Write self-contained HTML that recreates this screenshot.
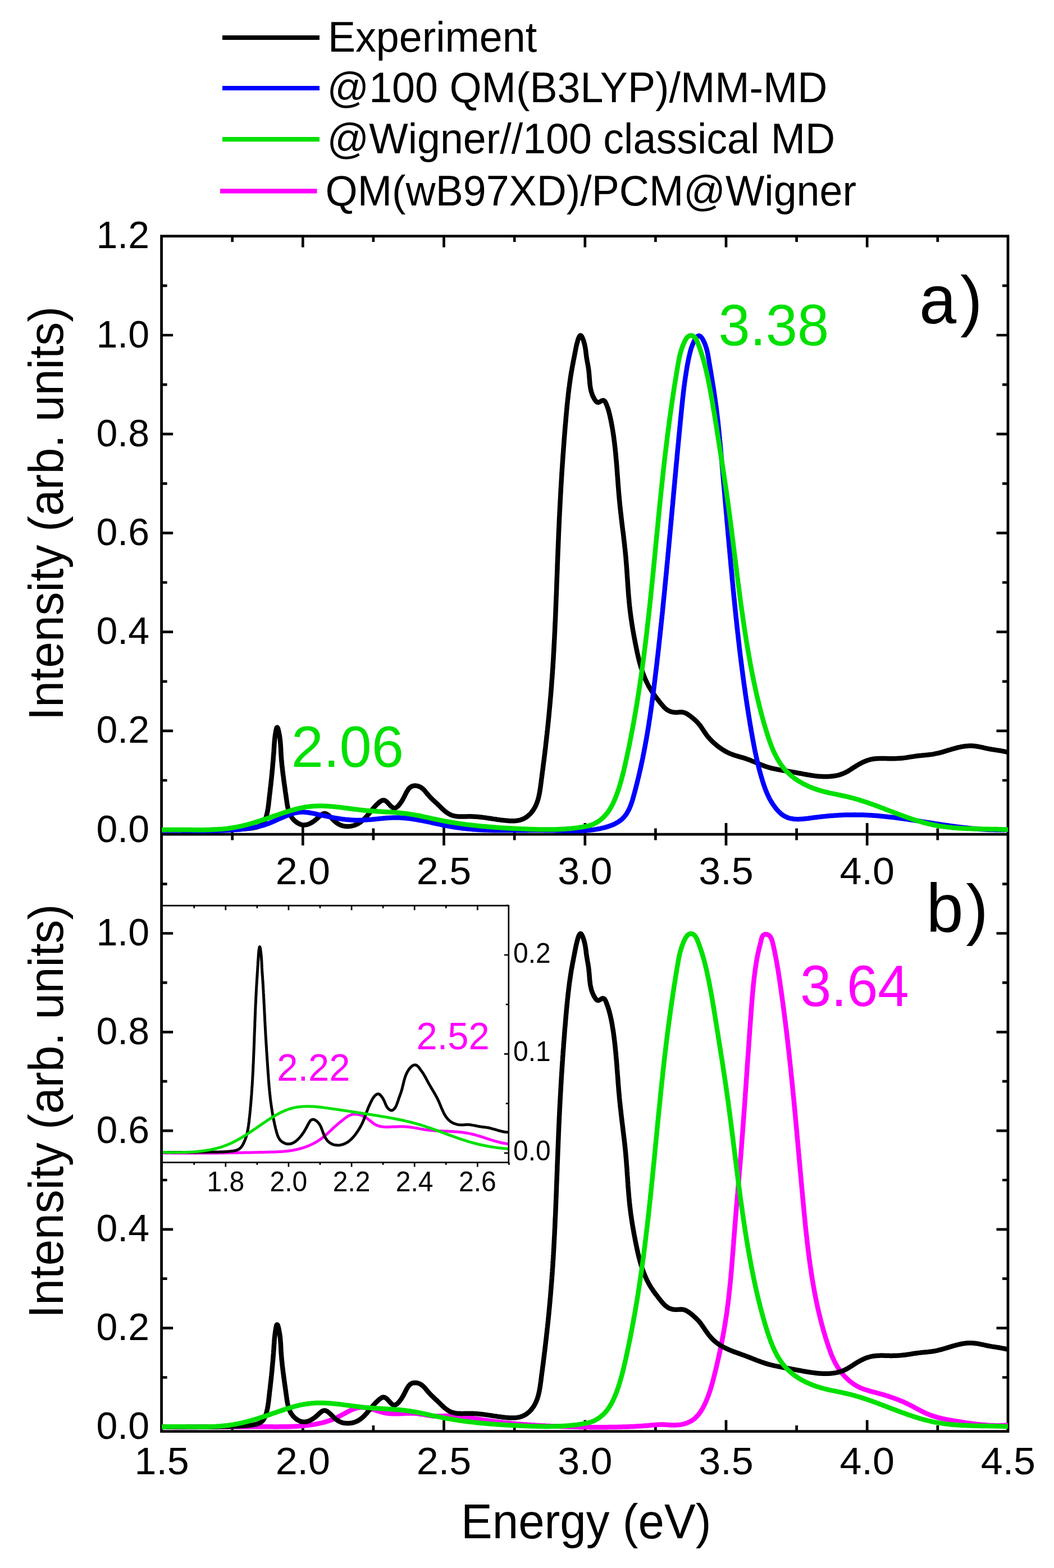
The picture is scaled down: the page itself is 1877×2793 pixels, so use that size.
<!DOCTYPE html><html><head><meta charset="utf-8"><title>Spectra</title><style>html,body{margin:0;padding:0;background:#fff}svg{display:block}</style></head><body>
<svg width="1877" height="2793" viewBox="0 0 1877 2793" font-family="'Liberation Sans', Arial, sans-serif">
<rect width="1877" height="2793" fill="#fff"/>
<line x1="396" y1="67" x2="569" y2="67" stroke="#000" stroke-width="8.2"/>
<text transform="translate(584.0,91.7) scale(1,1.035)" font-size="73.6" text-anchor="start" fill="#000">Experiment</text>
<line x1="396" y1="157" x2="569" y2="157" stroke="#0000ff" stroke-width="8.2"/>
<text transform="translate(582.5,181.7) scale(1,1.035)" font-size="73.6" text-anchor="start" fill="#000">@100 QM(B3LYP)/MM-MD</text>
<line x1="396" y1="248.2" x2="569" y2="248.2" stroke="#00e000" stroke-width="8.2"/>
<text transform="translate(582.5,273.0) scale(1,1.035)" font-size="73.6" text-anchor="start" fill="#000">@Wigner//100 classical MD</text>
<line x1="392" y1="340.4" x2="564.5" y2="340.4" stroke="#ff00ff" stroke-width="8.2"/>
<text transform="translate(579.5,366.2) scale(1,1.035)" font-size="73.6" text-anchor="start" fill="#000">QM(wB97XD)/PCM@Wigner</text>
<path d="M287.6,420.6 H1795 V2549.6 H287.6 Z M287.6,1486.1 H1795" fill="none" stroke="#000" stroke-width="4.8" stroke-linejoin="miter"/>
<path d="M413.7,420.6 v10.5 M413.7,1475.6 v21.0 M413.7,2549.6 v-10.5 M539.3,420.6 v20 M539.3,1466.1 v40 M539.3,2549.6 v-20 M664.9,420.6 v10.5 M664.9,1475.6 v21.0 M664.9,2549.6 v-10.5 M790.5,420.6 v20 M790.5,1466.1 v40 M790.5,2549.6 v-20 M916.2,420.6 v10.5 M916.2,1475.6 v21.0 M916.2,2549.6 v-10.5 M1041.8,420.6 v20 M1041.8,1466.1 v40 M1041.8,2549.6 v-20 M1167.4,420.6 v10.5 M1167.4,1475.6 v21.0 M1167.4,2549.6 v-10.5 M1293.0,420.6 v20 M1293.0,1466.1 v40 M1293.0,2549.6 v-20 M1418.6,420.6 v10.5 M1418.6,1475.6 v21.0 M1418.6,2549.6 v-10.5 M1544.2,420.6 v20 M1544.2,1466.1 v40 M1544.2,2549.6 v-20 M1669.8,420.6 v10.5 M1669.8,1475.6 v21.0 M1669.8,2549.6 v-10.5 M287.6,1478.1 h20.5 M1795,1478.1 h-20.5 M287.6,1390.0 h10 M1795,1390.0 h-10 M287.6,1301.9 h20.5 M1795,1301.9 h-20.5 M287.6,1213.8 h10 M1795,1213.8 h-10 M287.6,1125.7 h20.5 M1795,1125.7 h-20.5 M287.6,1037.5 h10 M1795,1037.5 h-10 M287.6,949.4 h20.5 M1795,949.4 h-20.5 M287.6,861.3 h10 M1795,861.3 h-10 M287.6,773.2 h20.5 M1795,773.2 h-20.5 M287.6,685.1 h10 M1795,685.1 h-10 M287.6,597.0 h20.5 M1795,597.0 h-20.5 M287.6,508.9 h10 M1795,508.9 h-10 M287.6,2541.4 h20.5 M1795,2541.4 h-20.5 M287.6,2453.5 h10 M1795,2453.5 h-10 M287.6,2365.6 h20.5 M1795,2365.6 h-20.5 M287.6,2277.7 h10 M1795,2277.7 h-10 M287.6,2189.8 h20.5 M1795,2189.8 h-20.5 M287.6,2102.0 h10 M1795,2102.0 h-10 M287.6,2014.1 h20.5 M1795,2014.1 h-20.5 M287.6,1926.2 h10 M1795,1926.2 h-10 M287.6,1838.3 h20.5 M1795,1838.3 h-20.5 M287.6,1750.4 h10 M1795,1750.4 h-10 M287.6,1662.5 h20.5 M1795,1662.5 h-20.5 M287.6,1574.6 h10 M1795,1574.6 h-10" fill="none" stroke="#000" stroke-width="4.7"/>
<defs><clipPath id="ca"><rect x="287.6" y="420.6" width="1507.4" height="1065.5"/></clipPath><clipPath id="cb"><rect x="287.6" y="1486.1" width="1507.4" height="1063.5"/></clipPath><clipPath id="ci"><rect x="289" y="1613" width="617" height="457"/></clipPath></defs>
<g fill="none" stroke-width="8.5" stroke-linejoin="round" stroke-linecap="butt" clip-path="url(#ca)">
<path d="M288.0,1478.3 L290.5,1478.3 L293.0,1478.3 L295.5,1478.3 L298.0,1478.3 L300.4,1478.3 L302.9,1478.3 L305.4,1478.3 L307.9,1478.3 L310.4,1478.3 L312.9,1478.3 L315.4,1478.3 L317.9,1478.3 L320.4,1478.3 L322.9,1478.3 L325.4,1478.3 L327.9,1478.3 L330.4,1478.3 L332.9,1478.3 L335.5,1478.3 L338.0,1478.3 L340.5,1478.3 L343.0,1478.3 L345.5,1478.3 L348.0,1478.3 L350.5,1478.3 L353.0,1478.3 L355.5,1478.3 L358.0,1478.3 L360.5,1478.3 L363.0,1478.3 L365.5,1478.2 L368.0,1478.2 L370.6,1478.2 L373.1,1478.2 L375.6,1478.2 L378.1,1478.1 L380.6,1478.1 L383.1,1478.1 L385.6,1478.1 L388.1,1478.0 L390.6,1478.0 L393.1,1477.9 L395.6,1477.9 L398.1,1477.8 L400.6,1477.8 L403.0,1477.7 L405.5,1477.7 L408.0,1477.6 L410.5,1477.6 L413.0,1477.5 L415.5,1477.4 L418.0,1477.3 L420.4,1477.2 L422.9,1477.2 L425.4,1477.1 L427.9,1477.0 L430.4,1476.8 L432.8,1476.7 L435.3,1476.5 L437.8,1476.3 L440.3,1476.1 L442.8,1475.8 L445.3,1475.5 L447.9,1475.2 L450.4,1474.8 L453.0,1474.3 L455.5,1473.8 L457.9,1473.1 L460.3,1472.3 L462.5,1471.3 L464.6,1470.1 L466.4,1468.6 L468.1,1466.9 L469.5,1465.0 L470.8,1462.8 L471.9,1460.5 L472.8,1458.1 L473.7,1455.7 L474.4,1453.3 L475.1,1450.8 L475.7,1448.3 L476.2,1445.9 L476.7,1443.4 L477.1,1440.9 L477.5,1438.4 L477.8,1436.0 L478.2,1433.5 L478.4,1431.0 L478.7,1428.6 L479.0,1426.1 L479.3,1423.6 L479.5,1421.2 L479.8,1418.7 L480.1,1416.3 L480.4,1413.8 L480.7,1411.4 L481.0,1408.9 L481.2,1406.5 L481.5,1404.0 L481.8,1401.5 L482.1,1399.1 L482.4,1396.6 L482.6,1394.1 L482.9,1391.6 L483.2,1389.0 L483.4,1386.5 L483.7,1384.0 L483.9,1381.5 L484.2,1378.9 L484.4,1376.4 L484.7,1373.8 L484.9,1371.3 L485.2,1368.8 L485.4,1366.2 L485.6,1363.7 L485.8,1361.2 L486.0,1358.7 L486.3,1356.2 L486.5,1353.7 L486.7,1351.2 L486.8,1348.7 L487.0,1346.3 L487.2,1343.8 L487.4,1341.4 L487.6,1339.0 L487.7,1336.6 L487.9,1334.3 L488.0,1332.0 L488.2,1329.7 L488.3,1327.3 L488.5,1325.0 L488.7,1322.6 L488.9,1320.2 L489.1,1317.6 L489.4,1315.0 L489.7,1312.2 L490.1,1309.2 L490.6,1306.1 L491.1,1302.9 L491.7,1299.9 L492.3,1297.4 L493.0,1295.9 L493.8,1295.6 L494.5,1296.6 L495.3,1298.7 L496.0,1301.5 L496.7,1304.7 L497.3,1307.9 L497.9,1311.0 L498.3,1314.0 L498.7,1316.8 L499.0,1319.6 L499.3,1322.2 L499.5,1324.7 L499.7,1327.2 L499.8,1329.6 L500.0,1332.0 L500.1,1334.3 L500.2,1336.6 L500.3,1339.0 L500.4,1341.3 L500.5,1343.6 L500.7,1345.9 L500.9,1348.3 L501.0,1350.7 L501.2,1353.1 L501.4,1355.5 L501.7,1357.9 L501.9,1360.3 L502.1,1362.7 L502.4,1365.2 L502.7,1367.7 L502.9,1370.1 L503.2,1372.6 L503.5,1375.1 L503.8,1377.6 L504.1,1380.1 L504.5,1382.6 L504.8,1385.1 L505.1,1387.6 L505.4,1390.1 L505.8,1392.6 L506.1,1395.1 L506.5,1397.7 L506.8,1400.2 L507.2,1402.7 L507.5,1405.2 L507.9,1407.8 L508.2,1410.3 L508.6,1412.8 L509.0,1415.3 L509.3,1417.9 L509.7,1420.4 L510.0,1422.9 L510.4,1425.4 L510.7,1427.9 L511.1,1430.4 L511.5,1432.9 L511.9,1435.3 L512.4,1437.8 L512.9,1440.2 L513.5,1442.6 L514.2,1444.9 L515.0,1447.2 L515.9,1449.5 L517.0,1451.7 L518.2,1453.9 L519.6,1455.9 L521.1,1458.0 L522.7,1459.9 L524.6,1461.8 L526.5,1463.4 L528.5,1465.0 L530.7,1466.3 L532.9,1467.5 L535.1,1468.4 L537.4,1469.1 L539.7,1469.4 L542.1,1469.5 L544.4,1469.3 L546.8,1468.8 L549.1,1468.1 L551.4,1467.1 L553.7,1466.0 L556.0,1464.6 L558.3,1463.2 L560.5,1461.5 L562.6,1459.8 L564.8,1458.0 L566.8,1456.1 L568.9,1454.2 L570.8,1452.4 L572.8,1450.9 L574.8,1449.8 L576.8,1449.1 L578.8,1449.1 L580.9,1449.7 L582.9,1450.8 L585.0,1452.3 L587.1,1454.1 L589.1,1456.0 L591.1,1458.0 L593.0,1459.9 L595.0,1461.8 L596.9,1463.5 L598.8,1465.2 L600.8,1466.6 L602.9,1468.0 L605.0,1469.1 L607.3,1470.0 L609.6,1470.8 L612.1,1471.4 L614.5,1471.8 L617.0,1472.0 L619.5,1472.0 L622.1,1471.9 L624.6,1471.6 L627.1,1471.1 L629.5,1470.5 L631.9,1469.7 L634.3,1468.8 L636.5,1467.7 L638.7,1466.5 L640.8,1465.2 L642.8,1463.8 L644.7,1462.2 L646.6,1460.6 L648.4,1458.9 L650.2,1457.1 L651.9,1455.2 L653.6,1453.3 L655.2,1451.4 L656.9,1449.4 L658.5,1447.5 L660.0,1445.5 L661.6,1443.6 L663.2,1441.6 L664.8,1439.7 L666.4,1437.9 L668.1,1436.0 L669.8,1434.2 L671.6,1432.5 L673.5,1430.7 L675.5,1429.0 L677.6,1427.4 L679.8,1426.1 L682.0,1425.4 L684.2,1425.5 L686.3,1426.4 L688.4,1427.9 L690.4,1429.8 L692.4,1432.0 L694.4,1434.2 L696.4,1436.2 L698.4,1437.9 L700.4,1439.1 L702.4,1439.5 L704.4,1439.1 L706.5,1437.9 L708.4,1436.2 L710.3,1434.2 L712.1,1432.0 L713.6,1429.9 L715.1,1427.8 L716.4,1425.7 L717.6,1423.5 L718.7,1421.4 L719.9,1419.2 L721.0,1416.9 L722.2,1414.6 L723.4,1412.2 L724.7,1409.7 L726.2,1407.4 L727.7,1405.2 L729.5,1403.3 L731.4,1401.7 L733.5,1400.6 L735.8,1399.9 L738.2,1399.5 L740.6,1399.6 L743.1,1399.9 L745.5,1400.6 L747.8,1401.6 L750.0,1402.8 L752.1,1404.3 L754.0,1406.0 L755.8,1407.8 L757.5,1409.8 L759.1,1411.8 L760.7,1413.8 L762.4,1415.8 L764.0,1417.7 L765.7,1419.5 L767.5,1421.3 L769.2,1423.1 L771.0,1424.8 L772.8,1426.5 L774.6,1428.2 L776.5,1429.8 L778.3,1431.5 L780.1,1433.3 L781.9,1435.0 L783.7,1436.8 L785.5,1438.6 L787.3,1440.3 L789.1,1442.0 L791.0,1443.7 L792.9,1445.3 L794.8,1446.8 L796.8,1448.2 L798.9,1449.5 L801.0,1450.6 L803.1,1451.6 L805.4,1452.5 L807.7,1453.1 L810.1,1453.6 L812.5,1454.0 L815.0,1454.3 L817.6,1454.4 L820.2,1454.5 L822.8,1454.5 L825.4,1454.5 L828.0,1454.4 L830.6,1454.4 L833.3,1454.3 L835.9,1454.3 L838.4,1454.3 L841.0,1454.4 L843.5,1454.5 L846.0,1454.7 L848.5,1454.8 L851.0,1455.0 L853.5,1455.3 L856.0,1455.5 L858.4,1455.8 L860.8,1456.1 L863.3,1456.4 L865.7,1456.8 L868.1,1457.1 L870.6,1457.5 L873.0,1457.8 L875.4,1458.2 L877.9,1458.6 L880.3,1458.9 L882.8,1459.3 L885.2,1459.7 L887.7,1460.0 L890.2,1460.4 L892.7,1460.7 L895.2,1461.0 L897.7,1461.3 L900.3,1461.6 L902.9,1461.8 L905.5,1462.0 L908.0,1462.2 L910.6,1462.2 L913.2,1462.2 L915.7,1462.2 L918.2,1462.0 L920.7,1461.7 L923.2,1461.3 L925.6,1460.8 L928.0,1460.1 L930.3,1459.3 L932.5,1458.3 L934.7,1457.2 L936.8,1455.9 L938.8,1454.5 L940.7,1452.9 L942.6,1451.2 L944.4,1449.4 L946.1,1447.6 L947.6,1445.6 L949.1,1443.6 L950.5,1441.5 L951.8,1439.3 L953.0,1437.2 L954.1,1435.0 L955.1,1432.7 L956.0,1430.4 L956.8,1428.1 L957.6,1425.8 L958.3,1423.4 L959.0,1421.0 L959.5,1418.5 L960.1,1416.1 L960.6,1413.6 L961.0,1411.2 L961.5,1408.7 L961.8,1406.2 L962.2,1403.7 L962.6,1401.2 L962.9,1398.6 L963.2,1396.1 L963.6,1393.6 L963.9,1391.1 L964.2,1388.6 L964.5,1386.1 L964.9,1383.6 L965.2,1381.1 L965.5,1378.7 L965.8,1376.2 L966.1,1373.7 L966.5,1371.2 L966.8,1368.8 L967.1,1366.3 L967.4,1363.8 L967.7,1361.3 L968.0,1358.9 L968.4,1356.4 L968.7,1353.9 L969.0,1351.5 L969.3,1349.0 L969.6,1346.5 L969.9,1344.0 L970.2,1341.6 L970.5,1339.1 L970.8,1336.6 L971.1,1334.2 L971.4,1331.7 L971.7,1329.2 L971.9,1326.7 L972.2,1324.2 L972.5,1321.8 L972.8,1319.3 L973.1,1316.8 L973.4,1314.3 L973.6,1311.8 L973.9,1309.4 L974.2,1306.9 L974.4,1304.4 L974.7,1301.9 L975.0,1299.4 L975.2,1296.9 L975.5,1294.5 L975.8,1292.0 L976.0,1289.5 L976.3,1287.0 L976.5,1284.5 L976.8,1282.0 L977.0,1279.5 L977.3,1277.0 L977.5,1274.6 L977.7,1272.1 L978.0,1269.6 L978.2,1267.1 L978.4,1264.6 L978.7,1262.1 L978.9,1259.6 L979.1,1257.1 L979.4,1254.6 L979.6,1252.1 L979.8,1249.6 L980.0,1247.1 L980.2,1244.7 L980.4,1242.2 L980.7,1239.7 L980.9,1237.2 L981.1,1234.7 L981.3,1232.2 L981.5,1229.7 L981.7,1227.2 L981.9,1224.7 L982.1,1222.2 L982.3,1219.7 L982.4,1217.2 L982.6,1214.7 L982.8,1212.2 L983.0,1209.7 L983.2,1207.2 L983.4,1204.7 L983.5,1202.2 L983.7,1199.7 L983.9,1197.3 L984.0,1194.8 L984.2,1192.3 L984.4,1189.8 L984.5,1187.3 L984.7,1184.8 L984.8,1182.3 L985.0,1179.8 L985.2,1177.3 L985.3,1174.8 L985.5,1172.3 L985.6,1169.8 L985.7,1167.3 L985.9,1164.8 L986.0,1162.3 L986.2,1159.8 L986.3,1157.3 L986.4,1154.8 L986.6,1152.3 L986.7,1149.8 L986.8,1147.3 L987.0,1144.8 L987.1,1142.3 L987.2,1139.9 L987.4,1137.4 L987.5,1134.9 L987.6,1132.4 L987.7,1129.9 L987.8,1127.4 L988.0,1124.9 L988.1,1122.4 L988.2,1119.9 L988.3,1117.4 L988.4,1114.9 L988.5,1112.4 L988.6,1109.9 L988.8,1107.4 L988.9,1104.9 L989.0,1102.4 L989.1,1099.9 L989.2,1097.4 L989.3,1094.9 L989.4,1092.4 L989.5,1089.9 L989.6,1087.4 L989.7,1084.9 L989.8,1082.4 L989.9,1079.9 L990.0,1077.4 L990.1,1074.9 L990.2,1072.4 L990.3,1069.9 L990.4,1067.5 L990.5,1065.0 L990.6,1062.5 L990.7,1060.0 L990.8,1057.5 L990.9,1055.0 L991.0,1052.5 L991.1,1050.0 L991.2,1047.5 L991.3,1045.0 L991.3,1042.5 L991.4,1040.0 L991.5,1037.5 L991.6,1035.0 L991.7,1032.5 L991.8,1030.0 L991.9,1027.5 L992.0,1025.0 L992.1,1022.5 L992.2,1020.0 L992.3,1017.5 L992.4,1015.0 L992.5,1012.5 L992.5,1010.0 L992.6,1007.5 L992.7,1005.0 L992.8,1002.5 L992.9,1000.0 L993.0,997.5 L993.1,995.0 L993.2,992.5 L993.3,990.0 L993.4,987.5 L993.5,985.0 L993.6,982.5 L993.7,980.0 L993.8,977.5 L993.9,975.0 L994.0,972.5 L994.1,970.0 L994.2,967.5 L994.3,965.1 L994.4,962.6 L994.5,960.1 L994.6,957.6 L994.7,955.1 L994.8,952.6 L994.9,950.1 L995.0,947.6 L995.1,945.1 L995.2,942.6 L995.3,940.1 L995.5,937.6 L995.6,935.1 L995.7,932.6 L995.8,930.1 L995.9,927.6 L996.0,925.1 L996.1,922.6 L996.3,920.1 L996.4,917.6 L996.5,915.1 L996.6,912.6 L996.8,910.1 L996.9,907.6 L997.0,905.1 L997.1,902.6 L997.3,900.1 L997.4,897.6 L997.5,895.1 L997.7,892.6 L997.8,890.1 L997.9,887.6 L998.1,885.1 L998.2,882.6 L998.3,880.1 L998.5,877.6 L998.6,875.1 L998.7,872.6 L998.9,870.1 L999.0,867.6 L999.2,865.1 L999.3,862.6 L999.5,860.1 L999.6,857.6 L999.8,855.2 L999.9,852.7 L1000.1,850.2 L1000.2,847.7 L1000.4,845.2 L1000.5,842.7 L1000.7,840.2 L1000.9,837.7 L1001.0,835.2 L1001.2,832.7 L1001.4,830.2 L1001.5,827.7 L1001.7,825.2 L1001.9,822.7 L1002.0,820.2 L1002.2,817.7 L1002.4,815.2 L1002.5,812.7 L1002.7,810.2 L1002.9,807.8 L1003.1,805.3 L1003.3,802.8 L1003.4,800.3 L1003.6,797.8 L1003.8,795.3 L1004.0,792.8 L1004.2,790.3 L1004.4,787.8 L1004.5,785.3 L1004.7,782.8 L1004.9,780.3 L1005.1,777.8 L1005.3,775.4 L1005.5,772.9 L1005.7,770.4 L1005.9,767.9 L1006.1,765.4 L1006.3,762.9 L1006.5,760.4 L1006.7,757.9 L1006.9,755.4 L1007.2,753.0 L1007.4,750.5 L1007.6,748.0 L1007.8,745.5 L1008.0,743.0 L1008.2,740.5 L1008.5,738.0 L1008.7,735.5 L1008.9,733.1 L1009.1,730.6 L1009.4,728.1 L1009.6,725.6 L1009.8,723.1 L1010.1,720.6 L1010.3,718.2 L1010.6,715.7 L1010.8,713.2 L1011.1,710.7 L1011.4,708.2 L1011.7,705.7 L1011.9,703.2 L1012.2,700.8 L1012.5,698.3 L1012.8,695.8 L1013.1,693.3 L1013.4,690.8 L1013.8,688.3 L1014.1,685.9 L1014.4,683.4 L1014.8,680.9 L1015.1,678.4 L1015.5,675.9 L1015.8,673.4 L1016.2,670.9 L1016.6,668.5 L1017.0,666.0 L1017.4,663.5 L1017.8,661.0 L1018.3,658.5 L1018.7,656.0 L1019.2,653.6 L1019.6,651.1 L1020.1,648.6 L1020.6,646.1 L1021.0,643.7 L1021.5,641.2 L1022.0,638.8 L1022.5,636.4 L1022.9,634.0 L1023.4,631.7 L1023.8,629.4 L1024.2,627.1 L1024.7,624.8 L1025.1,622.5 L1025.6,620.1 L1026.1,617.6 L1026.7,615.0 L1027.4,612.2 L1028.2,609.3 L1029.0,606.2 L1030.0,603.2 L1031.1,600.6 L1032.2,598.6 L1033.3,597.6 L1034.5,597.7 L1035.8,599.0 L1037.0,601.1 L1038.1,603.8 L1039.2,606.8 L1040.1,610.0 L1040.9,612.9 L1041.5,615.7 L1042.1,618.4 L1042.5,621.0 L1042.9,623.4 L1043.2,625.8 L1043.5,628.1 L1043.7,630.4 L1044.0,632.7 L1044.3,635.0 L1044.6,637.3 L1045.0,639.6 L1045.4,642.0 L1045.9,644.4 L1046.3,646.8 L1046.8,649.2 L1047.2,651.7 L1047.6,654.1 L1048.0,656.6 L1048.3,659.1 L1048.6,661.7 L1048.9,664.2 L1049.1,666.7 L1049.3,669.3 L1049.5,671.8 L1049.7,674.4 L1049.9,677.0 L1050.1,679.5 L1050.3,682.1 L1050.6,684.6 L1050.9,687.1 L1051.3,689.6 L1051.7,692.1 L1052.2,694.6 L1052.8,697.0 L1053.5,699.4 L1054.3,701.8 L1055.2,704.2 L1056.2,706.5 L1057.4,708.8 L1058.7,711.0 L1060.1,713.2 L1061.7,715.2 L1063.5,716.6 L1065.6,716.9 L1067.9,716.0 L1070.3,714.5 L1072.5,713.4 L1074.6,713.1 L1076.4,714.1 L1077.9,716.0 L1079.2,718.5 L1080.3,721.2 L1081.3,723.9 L1082.3,726.5 L1083.1,729.0 L1083.8,731.5 L1084.5,734.0 L1085.1,736.4 L1085.7,738.8 L1086.3,741.2 L1086.8,743.6 L1087.3,746.1 L1087.9,748.5 L1088.3,750.9 L1088.8,753.4 L1089.3,755.8 L1089.7,758.3 L1090.2,760.7 L1090.6,763.2 L1091.0,765.6 L1091.4,768.1 L1091.8,770.6 L1092.2,773.0 L1092.5,775.5 L1092.9,778.0 L1093.2,780.5 L1093.5,782.9 L1093.8,785.4 L1094.2,787.9 L1094.5,790.4 L1094.7,792.9 L1095.0,795.3 L1095.3,797.8 L1095.6,800.3 L1095.8,802.8 L1096.1,805.3 L1096.3,807.8 L1096.6,810.3 L1096.8,812.8 L1097.0,815.3 L1097.2,817.7 L1097.5,820.2 L1097.7,822.7 L1097.9,825.2 L1098.1,827.7 L1098.3,830.2 L1098.5,832.7 L1098.7,835.2 L1098.9,837.7 L1099.1,840.2 L1099.2,842.7 L1099.4,845.2 L1099.6,847.7 L1099.8,850.2 L1100.0,852.7 L1100.2,855.2 L1100.4,857.7 L1100.5,860.2 L1100.7,862.6 L1100.9,865.1 L1101.1,867.6 L1101.3,870.1 L1101.5,872.6 L1101.7,875.1 L1101.9,877.6 L1102.1,880.1 L1102.3,882.6 L1102.6,885.1 L1102.8,887.6 L1103.0,890.1 L1103.2,892.5 L1103.5,895.0 L1103.7,897.5 L1104.0,900.0 L1104.2,902.5 L1104.5,905.0 L1104.7,907.5 L1105.0,909.9 L1105.3,912.4 L1105.6,914.9 L1105.9,917.4 L1106.1,919.9 L1106.4,922.3 L1106.7,924.8 L1107.0,927.3 L1107.3,929.8 L1107.6,932.3 L1107.9,934.7 L1108.2,937.2 L1108.5,939.7 L1108.8,942.2 L1109.1,944.6 L1109.5,947.1 L1109.8,949.6 L1110.1,952.1 L1110.4,954.6 L1110.6,957.0 L1110.9,959.5 L1111.2,962.0 L1111.5,964.5 L1111.8,967.0 L1112.1,969.4 L1112.4,971.9 L1112.6,974.4 L1112.9,976.9 L1113.2,979.4 L1113.4,981.9 L1113.7,984.4 L1113.9,986.9 L1114.1,989.3 L1114.4,991.8 L1114.6,994.3 L1114.8,996.8 L1115.0,999.3 L1115.2,1001.8 L1115.4,1004.3 L1115.6,1006.8 L1115.8,1009.3 L1116.0,1011.8 L1116.2,1014.3 L1116.3,1016.8 L1116.5,1019.3 L1116.7,1021.8 L1116.9,1024.3 L1117.0,1026.8 L1117.2,1029.3 L1117.4,1031.8 L1117.5,1034.3 L1117.7,1036.8 L1117.9,1039.3 L1118.0,1041.8 L1118.2,1044.3 L1118.4,1046.8 L1118.6,1049.3 L1118.8,1051.8 L1118.9,1054.3 L1119.1,1056.8 L1119.3,1059.3 L1119.5,1061.8 L1119.7,1064.3 L1120.0,1066.8 L1120.2,1069.2 L1120.4,1071.7 L1120.6,1074.2 L1120.9,1076.7 L1121.1,1079.2 L1121.4,1081.7 L1121.7,1084.1 L1121.9,1086.6 L1122.2,1089.1 L1122.5,1091.5 L1122.9,1094.0 L1123.2,1096.5 L1123.5,1098.9 L1123.8,1101.4 L1124.2,1103.9 L1124.6,1106.3 L1124.9,1108.8 L1125.3,1111.2 L1125.7,1113.7 L1126.1,1116.1 L1126.5,1118.6 L1126.9,1121.1 L1127.3,1123.5 L1127.8,1126.0 L1128.2,1128.4 L1128.6,1130.9 L1129.1,1133.3 L1129.5,1135.8 L1130.0,1138.3 L1130.5,1140.7 L1130.9,1143.2 L1131.4,1145.6 L1131.9,1148.1 L1132.4,1150.6 L1132.9,1153.1 L1133.4,1155.5 L1133.9,1158.0 L1134.4,1160.5 L1134.9,1162.9 L1135.5,1165.4 L1136.0,1167.8 L1136.6,1170.3 L1137.2,1172.7 L1137.8,1175.2 L1138.4,1177.6 L1139.1,1180.1 L1139.7,1182.5 L1140.4,1184.9 L1141.1,1187.3 L1141.8,1189.7 L1142.6,1192.1 L1143.4,1194.4 L1144.2,1196.8 L1145.0,1199.2 L1145.9,1201.5 L1146.7,1203.8 L1147.7,1206.1 L1148.6,1208.4 L1149.6,1210.7 L1150.6,1212.9 L1151.7,1215.2 L1152.8,1217.4 L1153.9,1219.6 L1155.0,1221.8 L1156.2,1223.9 L1157.5,1226.1 L1158.8,1228.2 L1160.1,1230.3 L1161.4,1232.4 L1162.8,1234.4 L1164.2,1236.5 L1165.7,1238.5 L1167.2,1240.6 L1168.7,1242.6 L1170.2,1244.6 L1171.8,1246.6 L1173.3,1248.6 L1174.9,1250.6 L1176.5,1252.6 L1178.1,1254.6 L1179.8,1256.6 L1181.5,1258.5 L1183.2,1260.3 L1185.0,1262.0 L1186.9,1263.6 L1188.9,1264.9 L1191.0,1266.1 L1193.2,1267.1 L1195.5,1267.8 L1197.9,1268.4 L1200.3,1268.7 L1202.8,1268.9 L1205.4,1268.9 L1207.9,1268.8 L1210.5,1268.6 L1213.0,1268.5 L1215.4,1268.6 L1217.8,1269.1 L1220.1,1269.9 L1222.3,1270.9 L1224.5,1272.2 L1226.6,1273.6 L1228.7,1275.1 L1230.7,1276.7 L1232.7,1278.3 L1234.7,1279.9 L1236.6,1281.5 L1238.4,1283.2 L1240.2,1284.9 L1242.0,1286.7 L1243.6,1288.5 L1245.2,1290.4 L1246.8,1292.3 L1248.2,1294.3 L1249.6,1296.4 L1251.0,1298.5 L1252.4,1300.6 L1253.8,1302.7 L1255.1,1304.7 L1256.6,1306.8 L1258.0,1308.8 L1259.5,1310.8 L1261.1,1312.8 L1262.8,1314.7 L1264.4,1316.5 L1266.2,1318.3 L1267.9,1320.1 L1269.8,1321.9 L1271.6,1323.6 L1273.5,1325.2 L1275.4,1326.9 L1277.3,1328.4 L1279.3,1330.0 L1281.3,1331.5 L1283.4,1332.9 L1285.4,1334.3 L1287.5,1335.7 L1289.7,1337.0 L1291.8,1338.2 L1294.0,1339.4 L1296.2,1340.5 L1298.5,1341.6 L1300.8,1342.6 L1303.1,1343.5 L1305.4,1344.4 L1307.8,1345.2 L1310.1,1346.0 L1312.5,1346.7 L1314.9,1347.4 L1317.4,1348.1 L1319.8,1348.8 L1322.2,1349.4 L1324.6,1350.2 L1327.0,1350.9 L1329.4,1351.7 L1331.7,1352.6 L1334.1,1353.4 L1336.4,1354.3 L1338.8,1355.3 L1341.1,1356.2 L1343.4,1357.2 L1345.7,1358.2 L1348.1,1359.1 L1350.4,1360.1 L1352.7,1361.1 L1355.0,1362.0 L1357.3,1362.9 L1359.7,1363.8 L1362.0,1364.7 L1364.4,1365.5 L1366.7,1366.2 L1369.1,1367.0 L1371.5,1367.6 L1373.9,1368.3 L1376.3,1368.9 L1378.8,1369.4 L1381.2,1369.9 L1383.6,1370.4 L1386.1,1370.9 L1388.6,1371.3 L1391.0,1371.8 L1393.5,1372.2 L1396.0,1372.6 L1398.4,1373.0 L1400.9,1373.4 L1403.4,1373.8 L1405.9,1374.2 L1408.3,1374.6 L1410.8,1375.0 L1413.3,1375.4 L1415.7,1375.9 L1418.2,1376.3 L1420.6,1376.8 L1423.1,1377.3 L1425.6,1377.7 L1428.0,1378.2 L1430.5,1378.7 L1432.9,1379.1 L1435.4,1379.5 L1437.8,1380.0 L1440.3,1380.4 L1442.8,1380.8 L1445.2,1381.2 L1447.7,1381.5 L1450.2,1381.9 L1452.7,1382.2 L1455.2,1382.4 L1457.7,1382.7 L1460.2,1382.9 L1462.7,1383.0 L1465.2,1383.2 L1467.7,1383.2 L1470.2,1383.3 L1472.7,1383.2 L1475.2,1383.2 L1477.7,1383.0 L1480.2,1382.8 L1482.7,1382.6 L1485.2,1382.2 L1487.7,1381.8 L1490.1,1381.3 L1492.5,1380.8 L1494.9,1380.2 L1497.3,1379.4 L1499.6,1378.6 L1501.9,1377.7 L1504.2,1376.7 L1506.4,1375.6 L1508.6,1374.4 L1510.8,1373.2 L1513.0,1371.8 L1515.1,1370.5 L1517.2,1369.1 L1519.4,1367.7 L1521.5,1366.3 L1523.7,1365.0 L1525.8,1363.7 L1528.0,1362.4 L1530.2,1361.1 L1532.4,1359.9 L1534.6,1358.8 L1536.9,1357.7 L1539.1,1356.6 L1541.4,1355.7 L1543.7,1354.8 L1546.1,1354.0 L1548.4,1353.3 L1550.8,1352.7 L1553.2,1352.2 L1555.6,1351.8 L1558.1,1351.5 L1560.6,1351.3 L1563.1,1351.2 L1565.6,1351.1 L1568.1,1351.0 L1570.7,1351.0 L1573.2,1351.0 L1575.7,1351.1 L1578.3,1351.1 L1580.8,1351.2 L1583.4,1351.2 L1585.9,1351.2 L1588.4,1351.3 L1590.9,1351.2 L1593.4,1351.2 L1595.9,1351.1 L1598.4,1351.0 L1600.8,1350.8 L1603.3,1350.7 L1605.8,1350.4 L1608.3,1350.2 L1610.8,1349.9 L1613.2,1349.6 L1615.7,1349.2 L1618.2,1348.8 L1620.7,1348.4 L1623.2,1348.0 L1625.7,1347.6 L1628.2,1347.3 L1630.6,1346.9 L1633.1,1346.5 L1635.6,1346.2 L1638.1,1345.9 L1640.6,1345.7 L1643.0,1345.4 L1645.5,1345.2 L1648.0,1345.0 L1650.5,1344.7 L1652.9,1344.5 L1655.4,1344.2 L1657.8,1343.9 L1660.3,1343.6 L1662.7,1343.2 L1665.2,1342.7 L1667.6,1342.2 L1670.1,1341.7 L1672.5,1341.1 L1675.0,1340.5 L1677.4,1339.8 L1679.8,1339.1 L1682.3,1338.4 L1684.7,1337.7 L1687.1,1336.9 L1689.5,1336.2 L1692.0,1335.5 L1694.4,1334.7 L1696.8,1334.0 L1699.3,1333.3 L1701.7,1332.7 L1704.1,1332.0 L1706.6,1331.4 L1709.0,1330.9 L1711.4,1330.3 L1713.9,1329.9 L1716.3,1329.5 L1718.8,1329.1 L1721.2,1328.9 L1723.7,1328.7 L1726.1,1328.6 L1728.6,1328.5 L1731.1,1328.6 L1733.5,1328.8 L1736.0,1329.0 L1738.5,1329.3 L1741.0,1329.7 L1743.4,1330.2 L1745.9,1330.7 L1748.4,1331.2 L1750.9,1331.7 L1753.4,1332.3 L1755.8,1332.8 L1758.3,1333.3 L1760.8,1333.8 L1763.2,1334.3 L1765.7,1334.7 L1768.1,1335.1 L1770.5,1335.5 L1773.0,1335.9 L1775.4,1336.2 L1777.8,1336.6 L1780.3,1337.0 L1782.7,1337.4 L1785.2,1337.9 L1787.6,1338.4 L1790.1,1338.9 L1792.5,1339.5 L1795.0,1340.2" stroke="#000"/>
<path d="M288.0,1479.5 L290.4,1479.5 L292.8,1479.5 L295.3,1479.5 L297.7,1479.5 L300.1,1479.5 L302.6,1479.5 L305.0,1479.5 L307.5,1479.5 L309.9,1479.5 L312.4,1479.5 L314.9,1479.5 L317.4,1479.6 L319.8,1479.6 L322.3,1479.6 L324.8,1479.7 L327.3,1479.7 L329.8,1479.7 L332.3,1479.7 L334.8,1479.8 L337.3,1479.8 L339.8,1479.8 L342.4,1479.9 L344.9,1479.9 L347.4,1479.9 L349.9,1479.9 L352.5,1480.0 L355.0,1480.0 L357.5,1480.0 L360.0,1480.0 L362.6,1480.0 L365.1,1480.0 L367.6,1480.0 L370.2,1480.0 L372.7,1479.9 L375.2,1479.9 L377.8,1479.9 L380.3,1479.8 L382.8,1479.8 L385.4,1479.7 L387.9,1479.7 L390.4,1479.6 L392.9,1479.5 L395.5,1479.4 L398.0,1479.3 L400.5,1479.2 L403.0,1479.1 L405.5,1479.0 L408.1,1478.8 L410.6,1478.7 L413.1,1478.5 L415.6,1478.3 L418.1,1478.1 L420.6,1477.9 L423.1,1477.7 L425.5,1477.5 L428.0,1477.3 L430.5,1477.0 L433.0,1476.7 L435.4,1476.4 L437.9,1476.1 L440.3,1475.8 L442.8,1475.5 L445.2,1475.1 L447.7,1474.7 L450.1,1474.3 L452.5,1473.9 L455.0,1473.4 L457.4,1472.9 L459.8,1472.4 L462.2,1471.8 L464.6,1471.2 L467.0,1470.6 L469.4,1469.9 L471.8,1469.1 L474.1,1468.3 L476.5,1467.5 L478.9,1466.6 L481.2,1465.6 L483.6,1464.7 L486.0,1463.7 L488.3,1462.6 L490.7,1461.6 L493.0,1460.5 L495.4,1459.4 L497.7,1458.4 L500.1,1457.3 L502.4,1456.3 L504.8,1455.3 L507.2,1454.3 L509.5,1453.3 L511.9,1452.4 L514.2,1451.5 L516.6,1450.6 L519.0,1449.9 L521.3,1449.2 L523.7,1448.5 L526.1,1447.9 L528.5,1447.5 L530.9,1447.1 L533.3,1446.8 L535.7,1446.6 L538.2,1446.5 L540.6,1446.5 L543.0,1446.7 L545.5,1446.9 L547.9,1447.2 L550.4,1447.5 L552.8,1448.0 L555.3,1448.4 L557.8,1448.9 L560.2,1449.4 L562.7,1450.0 L565.2,1450.5 L567.6,1451.1 L570.1,1451.6 L572.6,1452.1 L575.0,1452.7 L577.5,1453.2 L579.9,1453.7 L582.4,1454.2 L584.8,1454.7 L587.3,1455.2 L589.8,1455.7 L592.2,1456.2 L594.7,1456.6 L597.1,1457.1 L599.6,1457.5 L602.1,1457.9 L604.5,1458.3 L607.0,1458.6 L609.4,1459.0 L611.9,1459.3 L614.4,1459.6 L616.8,1459.9 L619.3,1460.1 L621.7,1460.3 L624.2,1460.5 L626.7,1460.7 L629.2,1460.8 L631.6,1460.9 L634.1,1461.0 L636.6,1461.0 L639.1,1461.0 L641.5,1461.0 L644.0,1460.9 L646.5,1460.8 L649.0,1460.6 L651.5,1460.5 L654.0,1460.3 L656.5,1460.1 L659.0,1459.9 L661.5,1459.7 L664.0,1459.4 L666.5,1459.2 L669.0,1458.9 L671.5,1458.7 L674.0,1458.4 L676.5,1458.2 L678.9,1457.9 L681.4,1457.7 L683.9,1457.5 L686.4,1457.3 L688.9,1457.1 L691.4,1456.9 L693.9,1456.8 L696.4,1456.7 L698.9,1456.6 L701.4,1456.5 L703.9,1456.5 L706.4,1456.5 L708.9,1456.5 L711.3,1456.6 L713.8,1456.7 L716.3,1456.9 L718.8,1457.1 L721.3,1457.3 L723.7,1457.5 L726.2,1457.8 L728.7,1458.1 L731.2,1458.4 L733.6,1458.7 L736.1,1459.1 L738.6,1459.5 L741.0,1459.9 L743.5,1460.3 L746.0,1460.8 L748.4,1461.2 L750.9,1461.7 L753.4,1462.2 L755.8,1462.7 L758.3,1463.2 L760.8,1463.7 L763.2,1464.2 L765.7,1464.7 L768.2,1465.2 L770.6,1465.8 L773.1,1466.3 L775.5,1466.8 L778.0,1467.4 L780.5,1467.9 L782.9,1468.4 L785.4,1468.9 L787.8,1469.5 L790.3,1470.0 L792.8,1470.5 L795.2,1470.9 L797.7,1471.4 L800.2,1471.9 L802.6,1472.3 L805.1,1472.7 L807.6,1473.2 L810.0,1473.5 L812.5,1473.9 L815.0,1474.3 L817.4,1474.6 L819.9,1474.9 L822.4,1475.3 L824.8,1475.6 L827.3,1475.8 L829.8,1476.1 L832.3,1476.4 L834.7,1476.6 L837.2,1476.8 L839.7,1477.0 L842.2,1477.2 L844.6,1477.4 L847.1,1477.6 L849.6,1477.7 L852.1,1477.9 L854.6,1478.0 L857.0,1478.2 L859.5,1478.3 L862.0,1478.4 L864.5,1478.5 L867.0,1478.6 L869.5,1478.7 L872.0,1478.7 L874.4,1478.8 L876.9,1478.9 L879.4,1478.9 L881.9,1479.0 L884.4,1479.0 L886.9,1479.0 L889.4,1479.1 L891.9,1479.1 L894.4,1479.1 L896.8,1479.1 L899.3,1479.1 L901.8,1479.1 L904.3,1479.1 L906.8,1479.1 L909.3,1479.1 L911.8,1479.1 L914.3,1479.1 L916.8,1479.0 L919.3,1479.0 L921.8,1479.0 L924.3,1479.0 L926.8,1479.0 L929.3,1478.9 L931.8,1478.9 L934.3,1478.9 L936.8,1478.9 L939.3,1478.9 L941.8,1478.8 L944.3,1478.8 L946.9,1478.8 L949.4,1478.8 L951.9,1478.8 L954.4,1478.8 L956.9,1478.8 L959.4,1478.8 L961.9,1478.8 L964.4,1478.8 L966.9,1478.8 L969.4,1478.9 L972.0,1478.9 L974.5,1478.9 L977.0,1479.0 L979.5,1479.0 L982.0,1479.1 L984.5,1479.1 L987.1,1479.2 L989.6,1479.3 L992.1,1479.4 L994.6,1479.4 L997.1,1479.5 L999.6,1479.6 L1002.2,1479.7 L1004.7,1479.7 L1007.2,1479.8 L1009.7,1479.8 L1012.2,1479.9 L1014.7,1479.9 L1017.2,1480.0 L1019.7,1480.0 L1022.2,1480.0 L1024.7,1480.0 L1027.3,1479.9 L1029.8,1479.9 L1032.2,1479.8 L1034.7,1479.7 L1037.2,1479.6 L1039.7,1479.5 L1042.2,1479.4 L1044.7,1479.2 L1047.2,1479.0 L1049.7,1478.8 L1052.1,1478.5 L1054.6,1478.2 L1057.1,1477.9 L1059.5,1477.5 L1062.0,1477.2 L1064.5,1476.7 L1066.9,1476.3 L1069.3,1475.8 L1071.8,1475.2 L1074.2,1474.7 L1076.7,1474.1 L1079.1,1473.4 L1081.5,1472.7 L1083.9,1471.9 L1086.2,1471.1 L1088.6,1470.2 L1090.9,1469.3 L1093.1,1468.3 L1095.3,1467.3 L1097.5,1466.1 L1099.6,1464.9 L1101.7,1463.6 L1103.6,1462.3 L1105.5,1460.8 L1107.4,1459.3 L1109.1,1457.7 L1110.7,1456.0 L1112.3,1454.2 L1113.8,1452.3 L1115.2,1450.4 L1116.5,1448.3 L1117.7,1446.2 L1118.9,1444.1 L1120.0,1441.8 L1121.1,1439.6 L1122.1,1437.2 L1123.0,1434.9 L1123.9,1432.4 L1124.8,1430.0 L1125.6,1427.5 L1126.4,1425.0 L1127.1,1422.5 L1127.8,1420.0 L1128.5,1417.5 L1129.2,1414.9 L1129.9,1412.4 L1130.6,1409.9 L1131.2,1407.4 L1131.9,1404.9 L1132.5,1402.4 L1133.1,1399.9 L1133.8,1397.5 L1134.4,1395.0 L1135.0,1392.5 L1135.6,1390.1 L1136.2,1387.6 L1136.8,1385.2 L1137.4,1382.7 L1138.0,1380.3 L1138.5,1377.9 L1139.1,1375.4 L1139.6,1373.0 L1140.2,1370.6 L1140.7,1368.2 L1141.3,1365.8 L1141.8,1363.3 L1142.3,1360.9 L1142.8,1358.5 L1143.4,1356.1 L1143.9,1353.7 L1144.4,1351.3 L1144.9,1348.8 L1145.3,1346.4 L1145.8,1344.0 L1146.3,1341.6 L1146.8,1339.2 L1147.3,1336.7 L1147.7,1334.3 L1148.2,1331.9 L1148.6,1329.5 L1149.1,1327.0 L1149.5,1324.6 L1150.0,1322.2 L1150.4,1319.7 L1150.9,1317.3 L1151.3,1314.8 L1151.7,1312.4 L1152.1,1309.9 L1152.6,1307.5 L1153.0,1305.0 L1153.4,1302.6 L1153.8,1300.1 L1154.2,1297.7 L1154.6,1295.2 L1155.0,1292.8 L1155.4,1290.3 L1155.7,1287.9 L1156.1,1285.4 L1156.5,1282.9 L1156.9,1280.5 L1157.3,1278.0 L1157.6,1275.6 L1158.0,1273.1 L1158.3,1270.6 L1158.7,1268.2 L1159.1,1265.7 L1159.4,1263.2 L1159.8,1260.7 L1160.1,1258.3 L1160.5,1255.8 L1160.8,1253.3 L1161.1,1250.8 L1161.5,1248.4 L1161.8,1245.9 L1162.1,1243.4 L1162.5,1240.9 L1162.8,1238.5 L1163.1,1236.0 L1163.4,1233.5 L1163.8,1231.0 L1164.1,1228.5 L1164.4,1226.0 L1164.7,1223.6 L1165.0,1221.1 L1165.3,1218.6 L1165.6,1216.1 L1165.9,1213.6 L1166.2,1211.1 L1166.5,1208.7 L1166.8,1206.2 L1167.1,1203.7 L1167.4,1201.2 L1167.7,1198.7 L1168.0,1196.2 L1168.3,1193.7 L1168.6,1191.3 L1168.9,1188.8 L1169.2,1186.3 L1169.5,1183.8 L1169.8,1181.3 L1170.1,1178.8 L1170.3,1176.3 L1170.6,1173.8 L1170.9,1171.4 L1171.2,1168.9 L1171.5,1166.4 L1171.8,1163.9 L1172.0,1161.4 L1172.3,1158.9 L1172.6,1156.4 L1172.9,1153.9 L1173.2,1151.5 L1173.4,1149.0 L1173.7,1146.5 L1174.0,1144.0 L1174.3,1141.5 L1174.5,1139.0 L1174.8,1136.5 L1175.1,1134.0 L1175.3,1131.5 L1175.6,1129.1 L1175.9,1126.6 L1176.1,1124.1 L1176.4,1121.6 L1176.7,1119.1 L1176.9,1116.6 L1177.2,1114.1 L1177.4,1111.6 L1177.7,1109.2 L1178.0,1106.7 L1178.2,1104.2 L1178.5,1101.7 L1178.7,1099.2 L1179.0,1096.7 L1179.3,1094.2 L1179.5,1091.7 L1179.8,1089.2 L1180.0,1086.8 L1180.3,1084.3 L1180.5,1081.8 L1180.8,1079.3 L1181.0,1076.8 L1181.3,1074.3 L1181.5,1071.8 L1181.8,1069.3 L1182.0,1066.8 L1182.3,1064.4 L1182.5,1061.9 L1182.8,1059.4 L1183.0,1056.9 L1183.3,1054.4 L1183.5,1051.9 L1183.8,1049.4 L1184.0,1046.9 L1184.2,1044.4 L1184.5,1042.0 L1184.7,1039.5 L1185.0,1037.0 L1185.2,1034.5 L1185.5,1032.0 L1185.7,1029.5 L1185.9,1027.0 L1186.2,1024.5 L1186.4,1022.0 L1186.7,1019.6 L1186.9,1017.1 L1187.1,1014.6 L1187.4,1012.1 L1187.6,1009.6 L1187.8,1007.1 L1188.1,1004.6 L1188.3,1002.1 L1188.5,999.7 L1188.8,997.2 L1189.0,994.7 L1189.2,992.2 L1189.5,989.7 L1189.7,987.2 L1189.9,984.7 L1190.2,982.2 L1190.4,979.7 L1190.6,977.3 L1190.9,974.8 L1191.1,972.3 L1191.3,969.8 L1191.6,967.3 L1191.8,964.8 L1192.0,962.3 L1192.3,959.8 L1192.5,957.4 L1192.7,954.9 L1192.9,952.4 L1193.2,949.9 L1193.4,947.4 L1193.6,944.9 L1193.9,942.4 L1194.1,939.9 L1194.3,937.5 L1194.5,935.0 L1194.8,932.5 L1195.0,930.0 L1195.2,927.5 L1195.5,925.0 L1195.7,922.5 L1195.9,920.1 L1196.1,917.6 L1196.4,915.1 L1196.6,912.6 L1196.8,910.1 L1197.0,907.6 L1197.3,905.1 L1197.5,902.7 L1197.7,900.2 L1198.0,897.7 L1198.2,895.2 L1198.4,892.7 L1198.6,890.2 L1198.9,887.7 L1199.1,885.3 L1199.3,882.8 L1199.5,880.3 L1199.8,877.8 L1200.0,875.3 L1200.2,872.8 L1200.4,870.3 L1200.7,867.9 L1200.9,865.4 L1201.1,862.9 L1201.4,860.4 L1201.6,857.9 L1201.8,855.4 L1202.0,853.0 L1202.3,850.5 L1202.5,848.0 L1202.7,845.5 L1203.0,843.0 L1203.2,840.5 L1203.4,838.1 L1203.6,835.6 L1203.9,833.1 L1204.1,830.6 L1204.3,828.1 L1204.6,825.6 L1204.8,823.2 L1205.0,820.7 L1205.3,818.2 L1205.5,815.7 L1205.7,813.2 L1205.9,810.8 L1206.2,808.3 L1206.4,805.8 L1206.6,803.3 L1206.9,800.8 L1207.1,798.3 L1207.3,795.9 L1207.6,793.4 L1207.8,790.9 L1208.1,788.4 L1208.3,785.9 L1208.5,783.5 L1208.8,781.0 L1209.0,778.5 L1209.2,776.0 L1209.5,773.5 L1209.7,771.1 L1210.0,768.6 L1210.2,766.1 L1210.4,763.6 L1210.7,761.1 L1210.9,758.7 L1211.2,756.2 L1211.4,753.7 L1211.6,751.2 L1211.9,748.8 L1212.1,746.3 L1212.4,743.8 L1212.6,741.3 L1212.9,738.8 L1213.1,736.4 L1213.3,733.9 L1213.6,731.4 L1213.8,728.9 L1214.1,726.5 L1214.3,724.0 L1214.6,721.5 L1214.9,719.0 L1215.1,716.6 L1215.4,714.1 L1215.6,711.6 L1215.9,709.1 L1216.2,706.6 L1216.5,704.2 L1216.7,701.7 L1217.0,699.2 L1217.3,696.7 L1217.6,694.2 L1217.9,691.7 L1218.2,689.2 L1218.5,686.8 L1218.9,684.3 L1219.2,681.8 L1219.5,679.3 L1219.9,676.8 L1220.2,674.3 L1220.6,671.8 L1221.0,669.3 L1221.4,666.8 L1221.8,664.2 L1222.2,661.7 L1222.6,659.2 L1223.0,656.7 L1223.4,654.2 L1223.9,651.7 L1224.3,649.1 L1224.8,646.6 L1225.3,644.1 L1225.8,641.5 L1226.3,639.0 L1226.8,636.4 L1227.4,633.9 L1228.0,631.4 L1228.6,628.9 L1229.2,626.4 L1229.9,623.9 L1230.6,621.4 L1231.4,619.0 L1232.3,616.6 L1233.2,614.3 L1234.1,612.0 L1235.2,609.7 L1236.3,607.5 L1237.5,605.3 L1238.8,603.2 L1240.2,601.2 L1241.7,599.5 L1243.2,598.4 L1244.7,598.0 L1246.3,598.5 L1247.9,599.7 L1249.5,601.4 L1251.0,603.6 L1252.4,606.2 L1253.7,608.9 L1255.0,611.8 L1256.1,614.6 L1257.0,617.3 L1257.9,620.0 L1258.6,622.6 L1259.2,625.1 L1259.8,627.6 L1260.3,630.0 L1260.7,632.4 L1261.2,634.9 L1261.6,637.2 L1262.0,639.7 L1262.4,642.1 L1262.8,644.5 L1263.2,646.9 L1263.6,649.3 L1264.0,651.7 L1264.4,654.2 L1264.8,656.6 L1265.3,659.0 L1265.7,661.5 L1266.1,663.9 L1266.5,666.4 L1266.9,668.8 L1267.3,671.3 L1267.7,673.7 L1268.1,676.2 L1268.5,678.7 L1268.9,681.1 L1269.3,683.6 L1269.7,686.1 L1270.1,688.5 L1270.5,691.0 L1270.9,693.5 L1271.2,696.0 L1271.6,698.4 L1272.0,700.9 L1272.4,703.4 L1272.7,705.9 L1273.1,708.4 L1273.4,710.9 L1273.8,713.3 L1274.1,715.8 L1274.5,718.3 L1274.8,720.8 L1275.2,723.3 L1275.5,725.8 L1275.8,728.3 L1276.1,730.7 L1276.4,733.2 L1276.7,735.7 L1277.0,738.2 L1277.3,740.7 L1277.6,743.2 L1277.9,745.6 L1278.2,748.1 L1278.5,750.6 L1278.7,753.1 L1279.0,755.6 L1279.3,758.1 L1279.5,760.5 L1279.8,763.0 L1280.0,765.5 L1280.3,768.0 L1280.5,770.5 L1280.8,773.0 L1281.0,775.4 L1281.3,777.9 L1281.5,780.4 L1281.7,782.9 L1282.0,785.4 L1282.2,787.9 L1282.4,790.3 L1282.7,792.8 L1282.9,795.3 L1283.1,797.8 L1283.4,800.3 L1283.6,802.8 L1283.8,805.2 L1284.0,807.7 L1284.2,810.2 L1284.5,812.7 L1284.7,815.2 L1284.9,817.7 L1285.1,820.2 L1285.4,822.6 L1285.6,825.1 L1285.8,827.6 L1286.0,830.1 L1286.2,832.6 L1286.5,835.1 L1286.7,837.6 L1286.9,840.0 L1287.1,842.5 L1287.3,845.0 L1287.6,847.5 L1287.8,850.0 L1288.0,852.5 L1288.2,855.0 L1288.4,857.5 L1288.6,860.0 L1288.9,862.4 L1289.1,864.9 L1289.3,867.4 L1289.5,869.9 L1289.7,872.4 L1290.0,874.9 L1290.2,877.4 L1290.4,879.9 L1290.6,882.4 L1290.8,884.9 L1291.0,887.3 L1291.3,889.8 L1291.5,892.3 L1291.7,894.8 L1291.9,897.3 L1292.1,899.8 L1292.3,902.3 L1292.6,904.8 L1292.8,907.3 L1293.0,909.8 L1293.2,912.3 L1293.4,914.7 L1293.7,917.2 L1293.9,919.7 L1294.1,922.2 L1294.3,924.7 L1294.5,927.2 L1294.7,929.7 L1295.0,932.2 L1295.2,934.7 L1295.4,937.2 L1295.6,939.7 L1295.8,942.1 L1296.1,944.6 L1296.3,947.1 L1296.5,949.6 L1296.7,952.1 L1296.9,954.6 L1297.2,957.1 L1297.4,959.6 L1297.6,962.1 L1297.8,964.6 L1298.1,967.1 L1298.3,969.6 L1298.5,972.0 L1298.7,974.5 L1299.0,977.0 L1299.2,979.5 L1299.4,982.0 L1299.6,984.5 L1299.9,987.0 L1300.1,989.5 L1300.3,992.0 L1300.5,994.5 L1300.8,996.9 L1301.0,999.4 L1301.2,1001.9 L1301.4,1004.4 L1301.7,1006.9 L1301.9,1009.4 L1302.1,1011.9 L1302.4,1014.4 L1302.6,1016.9 L1302.8,1019.3 L1303.1,1021.8 L1303.3,1024.3 L1303.5,1026.8 L1303.8,1029.3 L1304.0,1031.8 L1304.2,1034.3 L1304.5,1036.8 L1304.7,1039.2 L1305.0,1041.7 L1305.2,1044.2 L1305.4,1046.7 L1305.7,1049.2 L1305.9,1051.7 L1306.2,1054.2 L1306.4,1056.6 L1306.6,1059.1 L1306.9,1061.6 L1307.1,1064.1 L1307.4,1066.6 L1307.6,1069.1 L1307.9,1071.6 L1308.1,1074.0 L1308.4,1076.5 L1308.6,1079.0 L1308.9,1081.5 L1309.1,1084.0 L1309.4,1086.5 L1309.6,1088.9 L1309.9,1091.4 L1310.2,1093.9 L1310.4,1096.4 L1310.7,1098.9 L1310.9,1101.4 L1311.2,1103.8 L1311.5,1106.3 L1311.7,1108.8 L1312.0,1111.3 L1312.3,1113.8 L1312.5,1116.2 L1312.8,1118.7 L1313.1,1121.2 L1313.4,1123.7 L1313.6,1126.2 L1313.9,1128.6 L1314.2,1131.1 L1314.5,1133.6 L1314.7,1136.1 L1315.0,1138.6 L1315.3,1141.1 L1315.6,1143.5 L1315.9,1146.0 L1316.2,1148.5 L1316.5,1151.0 L1316.7,1153.4 L1317.0,1155.9 L1317.3,1158.4 L1317.6,1160.9 L1317.9,1163.4 L1318.2,1165.8 L1318.5,1168.3 L1318.8,1170.8 L1319.1,1173.3 L1319.4,1175.8 L1319.7,1178.2 L1320.1,1180.7 L1320.4,1183.2 L1320.7,1185.7 L1321.0,1188.1 L1321.3,1190.6 L1321.6,1193.1 L1322.0,1195.6 L1322.3,1198.0 L1322.6,1200.5 L1322.9,1203.0 L1323.3,1205.5 L1323.6,1208.0 L1323.9,1210.4 L1324.3,1212.9 L1324.6,1215.4 L1324.9,1217.9 L1325.3,1220.3 L1325.6,1222.8 L1326.0,1225.3 L1326.3,1227.8 L1326.7,1230.2 L1327.0,1232.7 L1327.4,1235.2 L1327.7,1237.7 L1328.1,1240.1 L1328.5,1242.6 L1328.8,1245.1 L1329.2,1247.6 L1329.6,1250.0 L1329.9,1252.5 L1330.3,1255.0 L1330.7,1257.5 L1331.1,1259.9 L1331.5,1262.4 L1331.8,1264.9 L1332.2,1267.4 L1332.6,1269.8 L1333.0,1272.3 L1333.4,1274.8 L1333.8,1277.2 L1334.2,1279.7 L1334.6,1282.2 L1335.0,1284.7 L1335.4,1287.1 L1335.8,1289.6 L1336.2,1292.1 L1336.7,1294.6 L1337.1,1297.0 L1337.5,1299.5 L1337.9,1302.0 L1338.4,1304.5 L1338.8,1306.9 L1339.2,1309.4 L1339.7,1311.9 L1340.1,1314.3 L1340.5,1316.8 L1341.0,1319.3 L1341.5,1321.7 L1341.9,1324.2 L1342.4,1326.7 L1342.9,1329.1 L1343.3,1331.6 L1343.8,1334.0 L1344.3,1336.5 L1344.8,1338.9 L1345.3,1341.4 L1345.9,1343.8 L1346.4,1346.3 L1346.9,1348.7 L1347.5,1351.2 L1348.0,1353.6 L1348.6,1356.0 L1349.1,1358.4 L1349.7,1360.9 L1350.3,1363.3 L1350.9,1365.7 L1351.5,1368.1 L1352.1,1370.5 L1352.8,1372.9 L1353.4,1375.3 L1354.1,1377.7 L1354.7,1380.0 L1355.4,1382.4 L1356.1,1384.8 L1356.8,1387.1 L1357.5,1389.5 L1358.2,1391.8 L1359.0,1394.2 L1359.7,1396.5 L1360.5,1398.8 L1361.3,1401.2 L1362.1,1403.5 L1363.0,1405.8 L1363.9,1408.1 L1364.8,1410.4 L1365.7,1412.6 L1366.7,1414.9 L1367.7,1417.2 L1368.8,1419.4 L1370.0,1421.7 L1371.1,1423.9 L1372.4,1426.1 L1373.7,1428.4 L1375.1,1430.6 L1376.5,1432.8 L1378.0,1434.9 L1379.6,1437.1 L1381.2,1439.3 L1383.0,1441.4 L1384.8,1443.5 L1386.6,1445.5 L1388.6,1447.4 L1390.5,1449.2 L1392.6,1450.8 L1394.7,1452.3 L1396.8,1453.6 L1398.9,1454.7 L1401.1,1455.7 L1403.3,1456.6 L1405.6,1457.3 L1407.9,1457.9 L1410.2,1458.3 L1412.6,1458.7 L1414.9,1458.9 L1417.3,1459.1 L1419.8,1459.2 L1422.2,1459.2 L1424.7,1459.1 L1427.1,1459.0 L1429.6,1458.8 L1432.1,1458.6 L1434.6,1458.3 L1437.1,1458.0 L1439.7,1457.7 L1442.2,1457.3 L1444.7,1457.0 L1447.2,1456.6 L1449.8,1456.3 L1452.3,1456.0 L1454.8,1455.7 L1457.3,1455.4 L1459.8,1455.1 L1462.3,1454.8 L1464.8,1454.5 L1467.3,1454.2 L1469.8,1454.0 L1472.3,1453.7 L1474.8,1453.5 L1477.3,1453.3 L1479.8,1453.1 L1482.3,1452.9 L1484.8,1452.7 L1487.3,1452.5 L1489.8,1452.4 L1492.3,1452.2 L1494.8,1452.1 L1497.3,1452.0 L1499.7,1451.8 L1502.2,1451.7 L1504.7,1451.6 L1507.2,1451.6 L1509.7,1451.5 L1512.1,1451.4 L1514.6,1451.4 L1517.1,1451.4 L1519.6,1451.4 L1522.1,1451.3 L1524.5,1451.4 L1527.0,1451.4 L1529.5,1451.4 L1532.0,1451.5 L1534.4,1451.5 L1536.9,1451.6 L1539.4,1451.7 L1541.9,1451.8 L1544.3,1451.9 L1546.8,1452.0 L1549.3,1452.2 L1551.8,1452.3 L1554.2,1452.5 L1556.7,1452.7 L1559.2,1452.8 L1561.7,1453.0 L1564.1,1453.2 L1566.6,1453.5 L1569.1,1453.7 L1571.6,1453.9 L1574.0,1454.2 L1576.5,1454.4 L1579.0,1454.7 L1581.5,1455.0 L1583.9,1455.2 L1586.4,1455.5 L1588.9,1455.8 L1591.4,1456.1 L1593.8,1456.4 L1596.3,1456.7 L1598.8,1457.1 L1601.2,1457.4 L1603.7,1457.7 L1606.2,1458.0 L1608.7,1458.4 L1611.2,1458.7 L1613.6,1459.1 L1616.1,1459.4 L1618.6,1459.8 L1621.1,1460.2 L1623.5,1460.5 L1626.0,1460.9 L1628.5,1461.3 L1631.0,1461.7 L1633.4,1462.0 L1635.9,1462.4 L1638.4,1462.8 L1640.9,1463.2 L1643.3,1463.6 L1645.8,1464.0 L1648.3,1464.4 L1650.8,1464.7 L1653.2,1465.1 L1655.7,1465.5 L1658.2,1465.9 L1660.7,1466.3 L1663.2,1466.7 L1665.6,1467.1 L1668.1,1467.4 L1670.6,1467.8 L1673.1,1468.2 L1675.6,1468.6 L1678.0,1469.0 L1680.5,1469.3 L1683.0,1469.7 L1685.5,1470.0 L1688.0,1470.4 L1690.4,1470.8 L1692.9,1471.1 L1695.4,1471.5 L1697.9,1471.8 L1700.4,1472.1 L1702.9,1472.5 L1705.3,1472.8 L1707.8,1473.1 L1710.3,1473.4 L1712.8,1473.7 L1715.3,1474.0 L1717.8,1474.3 L1720.2,1474.6 L1722.7,1474.8 L1725.2,1475.1 L1727.7,1475.4 L1730.2,1475.6 L1732.7,1475.9 L1735.2,1476.1 L1737.7,1476.3 L1740.1,1476.5 L1742.6,1476.7 L1745.1,1476.9 L1747.6,1477.1 L1750.1,1477.2 L1752.6,1477.4 L1755.1,1477.5 L1757.6,1477.7 L1760.1,1477.8 L1762.6,1477.9 L1765.0,1478.0 L1767.5,1478.1 L1770.0,1478.1 L1772.5,1478.2 L1775.0,1478.2 L1777.5,1478.2 L1780.0,1478.3 L1782.5,1478.2 L1785.0,1478.2 L1787.5,1478.2 L1790.0,1478.1 L1792.5,1478.1 L1795.0,1478.0" stroke="#0000ff"/>
<path d="M288.0,1478.3 L290.5,1478.2 L292.9,1478.1 L295.4,1478.1 L297.9,1478.0 L300.3,1478.0 L302.8,1477.9 L305.3,1477.9 L307.8,1477.9 L310.3,1477.9 L312.8,1477.9 L315.3,1477.9 L317.8,1477.9 L320.3,1477.9 L322.8,1477.9 L325.3,1478.0 L327.8,1478.0 L330.3,1478.0 L332.8,1478.1 L335.3,1478.1 L337.8,1478.1 L340.4,1478.1 L342.9,1478.2 L345.4,1478.2 L347.9,1478.2 L350.5,1478.2 L353.0,1478.2 L355.5,1478.2 L358.0,1478.2 L360.5,1478.2 L363.1,1478.2 L365.6,1478.2 L368.1,1478.1 L370.6,1478.1 L373.1,1478.0 L375.6,1477.9 L378.1,1477.8 L380.6,1477.7 L383.1,1477.6 L385.6,1477.5 L388.1,1477.3 L390.6,1477.1 L393.1,1476.9 L395.6,1476.7 L398.1,1476.5 L400.6,1476.2 L403.1,1476.0 L405.5,1475.7 L408.0,1475.3 L410.5,1475.0 L412.9,1474.6 L415.4,1474.2 L417.8,1473.8 L420.3,1473.4 L422.7,1472.9 L425.1,1472.4 L427.5,1471.9 L430.0,1471.3 L432.4,1470.8 L434.8,1470.2 L437.2,1469.6 L439.6,1469.0 L442.0,1468.3 L444.4,1467.7 L446.8,1467.0 L449.2,1466.3 L451.6,1465.6 L454.0,1464.9 L456.4,1464.2 L458.8,1463.4 L461.2,1462.7 L463.5,1461.9 L465.9,1461.2 L468.3,1460.4 L470.7,1459.6 L473.1,1458.8 L475.4,1458.0 L477.8,1457.2 L480.2,1456.4 L482.6,1455.5 L484.9,1454.7 L487.3,1453.9 L489.7,1453.1 L492.1,1452.3 L494.5,1451.4 L496.8,1450.6 L499.2,1449.8 L501.6,1449.0 L504.0,1448.2 L506.4,1447.4 L508.8,1446.6 L511.1,1445.8 L513.5,1445.1 L515.9,1444.3 L518.3,1443.6 L520.7,1442.9 L523.1,1442.3 L525.5,1441.6 L528.0,1441.0 L530.4,1440.4 L532.8,1439.8 L535.2,1439.3 L537.6,1438.8 L540.0,1438.3 L542.5,1437.8 L544.9,1437.4 L547.4,1437.1 L549.8,1436.7 L552.2,1436.5 L554.7,1436.2 L557.2,1436.0 L559.6,1435.9 L562.1,1435.7 L564.5,1435.7 L567.0,1435.6 L569.5,1435.6 L572.0,1435.6 L574.5,1435.6 L576.9,1435.7 L579.4,1435.8 L581.9,1435.9 L584.4,1436.1 L586.9,1436.2 L589.4,1436.4 L591.9,1436.6 L594.4,1436.9 L596.9,1437.1 L599.4,1437.4 L601.9,1437.6 L604.4,1437.9 L606.9,1438.2 L609.5,1438.5 L612.0,1438.9 L614.5,1439.2 L617.0,1439.5 L619.5,1439.8 L622.0,1440.2 L624.5,1440.5 L627.0,1440.8 L629.6,1441.2 L632.1,1441.5 L634.6,1441.8 L637.1,1442.1 L639.6,1442.4 L642.1,1442.7 L644.6,1443.0 L647.1,1443.3 L649.6,1443.6 L652.1,1443.8 L654.6,1444.0 L657.1,1444.2 L659.6,1444.4 L662.1,1444.6 L664.6,1444.8 L667.1,1445.0 L669.6,1445.1 L672.0,1445.3 L674.5,1445.5 L677.0,1445.6 L679.5,1445.7 L682.0,1445.9 L684.4,1446.0 L686.9,1446.2 L689.4,1446.3 L691.9,1446.5 L694.3,1446.6 L696.8,1446.8 L699.3,1446.9 L701.8,1447.1 L704.2,1447.3 L706.7,1447.5 L709.2,1447.7 L711.6,1447.9 L714.1,1448.2 L716.6,1448.4 L719.0,1448.7 L721.5,1449.0 L724.0,1449.3 L726.5,1449.6 L728.9,1450.0 L731.4,1450.4 L733.9,1450.7 L736.3,1451.2 L738.8,1451.6 L741.2,1452.1 L743.7,1452.5 L746.2,1453.0 L748.6,1453.5 L751.1,1454.0 L753.6,1454.6 L756.0,1455.1 L758.5,1455.6 L761.0,1456.2 L763.4,1456.7 L765.9,1457.2 L768.4,1457.8 L770.8,1458.3 L773.3,1458.9 L775.8,1459.4 L778.2,1459.9 L780.7,1460.4 L783.2,1460.9 L785.6,1461.4 L788.1,1461.9 L790.6,1462.4 L793.0,1462.8 L795.5,1463.3 L798.0,1463.7 L800.4,1464.1 L802.9,1464.5 L805.4,1465.0 L807.8,1465.4 L810.3,1465.7 L812.8,1466.1 L815.2,1466.5 L817.7,1466.9 L820.2,1467.2 L822.6,1467.6 L825.1,1467.9 L827.6,1468.2 L830.1,1468.6 L832.5,1468.9 L835.0,1469.2 L837.5,1469.5 L839.9,1469.8 L842.4,1470.1 L844.9,1470.3 L847.4,1470.6 L849.8,1470.9 L852.3,1471.1 L854.8,1471.4 L857.3,1471.6 L859.7,1471.9 L862.2,1472.1 L864.7,1472.3 L867.2,1472.5 L869.7,1472.7 L872.1,1472.9 L874.6,1473.1 L877.1,1473.3 L879.6,1473.5 L882.1,1473.7 L884.5,1473.9 L887.0,1474.1 L889.5,1474.2 L892.0,1474.4 L894.5,1474.6 L897.0,1474.7 L899.5,1474.9 L902.0,1475.0 L904.4,1475.2 L906.9,1475.3 L909.4,1475.4 L911.9,1475.6 L914.4,1475.7 L916.9,1475.8 L919.4,1475.9 L921.9,1476.1 L924.4,1476.2 L926.9,1476.3 L929.4,1476.4 L931.9,1476.5 L934.4,1476.6 L936.9,1476.7 L939.4,1476.8 L941.9,1476.9 L944.5,1477.0 L947.0,1477.1 L949.5,1477.2 L952.0,1477.2 L954.5,1477.3 L957.0,1477.4 L959.5,1477.4 L962.0,1477.5 L964.5,1477.5 L967.0,1477.5 L969.5,1477.6 L972.1,1477.6 L974.6,1477.6 L977.1,1477.6 L979.6,1477.5 L982.1,1477.5 L984.6,1477.5 L987.1,1477.4 L989.6,1477.4 L992.1,1477.3 L994.6,1477.2 L997.1,1477.1 L999.5,1477.0 L1002.0,1476.8 L1004.5,1476.7 L1007.0,1476.5 L1009.5,1476.3 L1012.0,1476.1 L1014.4,1475.9 L1016.9,1475.7 L1019.4,1475.4 L1021.8,1475.2 L1024.3,1474.9 L1026.8,1474.6 L1029.2,1474.3 L1031.7,1473.9 L1034.1,1473.5 L1036.6,1473.2 L1039.0,1472.8 L1041.4,1472.3 L1043.9,1471.9 L1046.3,1471.3 L1048.7,1470.8 L1051.1,1470.1 L1053.5,1469.3 L1055.9,1468.4 L1058.2,1467.3 L1060.5,1466.1 L1062.8,1464.8 L1065.0,1463.5 L1067.2,1462.0 L1069.2,1460.4 L1071.2,1458.8 L1073.1,1457.2 L1074.9,1455.4 L1076.7,1453.7 L1078.3,1451.8 L1079.9,1449.9 L1081.5,1448.0 L1082.9,1446.0 L1084.4,1444.0 L1085.7,1441.9 L1087.0,1439.8 L1088.2,1437.6 L1089.4,1435.5 L1090.6,1433.3 L1091.7,1431.0 L1092.7,1428.8 L1093.7,1426.5 L1094.7,1424.2 L1095.7,1421.9 L1096.6,1419.6 L1097.5,1417.3 L1098.4,1414.9 L1099.2,1412.6 L1100.1,1410.2 L1100.9,1407.8 L1101.7,1405.5 L1102.4,1403.1 L1103.2,1400.7 L1103.9,1398.3 L1104.6,1395.9 L1105.3,1393.5 L1106.0,1391.1 L1106.7,1388.7 L1107.3,1386.3 L1107.9,1383.9 L1108.6,1381.5 L1109.2,1379.1 L1109.8,1376.6 L1110.4,1374.2 L1111.0,1371.8 L1111.5,1369.3 L1112.1,1366.9 L1112.7,1364.4 L1113.2,1362.0 L1113.8,1359.6 L1114.3,1357.1 L1114.8,1354.7 L1115.4,1352.2 L1115.9,1349.8 L1116.5,1347.3 L1117.0,1344.9 L1117.5,1342.4 L1118.0,1340.0 L1118.5,1337.6 L1119.0,1335.1 L1119.6,1332.7 L1120.1,1330.2 L1120.6,1327.8 L1121.1,1325.3 L1121.6,1322.8 L1122.0,1320.4 L1122.5,1317.9 L1123.0,1315.5 L1123.5,1313.0 L1124.0,1310.6 L1124.4,1308.1 L1124.9,1305.7 L1125.4,1303.2 L1125.8,1300.8 L1126.3,1298.3 L1126.8,1295.8 L1127.2,1293.4 L1127.7,1290.9 L1128.1,1288.5 L1128.6,1286.0 L1129.0,1283.5 L1129.4,1281.1 L1129.9,1278.6 L1130.3,1276.2 L1130.7,1273.7 L1131.2,1271.2 L1131.6,1268.8 L1132.0,1266.3 L1132.4,1263.8 L1132.8,1261.4 L1133.3,1258.9 L1133.7,1256.5 L1134.1,1254.0 L1134.5,1251.5 L1134.9,1249.1 L1135.3,1246.6 L1135.7,1244.1 L1136.1,1241.7 L1136.5,1239.2 L1136.8,1236.7 L1137.2,1234.3 L1137.6,1231.8 L1138.0,1229.3 L1138.4,1226.8 L1138.7,1224.4 L1139.1,1221.9 L1139.5,1219.4 L1139.8,1217.0 L1140.2,1214.5 L1140.6,1212.0 L1140.9,1209.6 L1141.3,1207.1 L1141.6,1204.6 L1142.0,1202.1 L1142.3,1199.7 L1142.7,1197.2 L1143.0,1194.7 L1143.4,1192.2 L1143.7,1189.8 L1144.1,1187.3 L1144.4,1184.8 L1144.7,1182.3 L1145.1,1179.9 L1145.4,1177.4 L1145.7,1174.9 L1146.0,1172.4 L1146.4,1170.0 L1146.7,1167.5 L1147.0,1165.0 L1147.3,1162.5 L1147.6,1160.1 L1147.9,1157.6 L1148.3,1155.1 L1148.6,1152.6 L1148.9,1150.2 L1149.2,1147.7 L1149.5,1145.2 L1149.8,1142.7 L1150.1,1140.2 L1150.4,1137.8 L1150.7,1135.3 L1151.0,1132.8 L1151.3,1130.3 L1151.6,1127.8 L1151.9,1125.4 L1152.2,1122.9 L1152.4,1120.4 L1152.7,1117.9 L1153.0,1115.4 L1153.3,1113.0 L1153.6,1110.5 L1153.9,1108.0 L1154.1,1105.5 L1154.4,1103.0 L1154.7,1100.5 L1155.0,1098.1 L1155.3,1095.6 L1155.5,1093.1 L1155.8,1090.6 L1156.1,1088.1 L1156.3,1085.6 L1156.6,1083.2 L1156.9,1080.7 L1157.1,1078.2 L1157.4,1075.7 L1157.7,1073.2 L1157.9,1070.7 L1158.2,1068.3 L1158.5,1065.8 L1158.7,1063.3 L1159.0,1060.8 L1159.2,1058.3 L1159.5,1055.8 L1159.7,1053.3 L1160.0,1050.9 L1160.3,1048.4 L1160.5,1045.9 L1160.8,1043.4 L1161.0,1040.9 L1161.3,1038.4 L1161.5,1035.9 L1161.8,1033.5 L1162.0,1031.0 L1162.3,1028.5 L1162.5,1026.0 L1162.8,1023.5 L1163.0,1021.0 L1163.3,1018.5 L1163.5,1016.1 L1163.7,1013.6 L1164.0,1011.1 L1164.2,1008.6 L1164.5,1006.1 L1164.7,1003.6 L1165.0,1001.1 L1165.2,998.6 L1165.4,996.2 L1165.7,993.7 L1165.9,991.2 L1166.2,988.7 L1166.4,986.2 L1166.7,983.7 L1166.9,981.2 L1167.1,978.7 L1167.4,976.3 L1167.6,973.8 L1167.9,971.3 L1168.1,968.8 L1168.3,966.3 L1168.6,963.8 L1168.8,961.3 L1169.1,958.8 L1169.3,956.3 L1169.6,953.9 L1169.8,951.4 L1170.0,948.9 L1170.3,946.4 L1170.5,943.9 L1170.8,941.4 L1171.0,938.9 L1171.3,936.4 L1171.5,933.9 L1171.7,931.5 L1172.0,929.0 L1172.2,926.5 L1172.5,924.0 L1172.7,921.5 L1173.0,919.0 L1173.2,916.5 L1173.5,914.0 L1173.7,911.6 L1174.0,909.1 L1174.2,906.6 L1174.4,904.1 L1174.7,901.6 L1174.9,899.1 L1175.2,896.6 L1175.4,894.1 L1175.7,891.6 L1176.0,889.2 L1176.2,886.7 L1176.5,884.2 L1176.7,881.7 L1177.0,879.2 L1177.2,876.7 L1177.5,874.2 L1177.7,871.7 L1178.0,869.2 L1178.3,866.8 L1178.5,864.3 L1178.8,861.8 L1179.1,859.3 L1179.3,856.8 L1179.6,854.3 L1179.9,851.8 L1180.1,849.3 L1180.4,846.9 L1180.7,844.4 L1180.9,841.9 L1181.2,839.4 L1181.5,836.9 L1181.8,834.4 L1182.0,831.9 L1182.3,829.5 L1182.6,827.0 L1182.9,824.5 L1183.2,822.0 L1183.4,819.5 L1183.7,817.0 L1184.0,814.5 L1184.3,812.1 L1184.6,809.6 L1184.9,807.1 L1185.2,804.6 L1185.5,802.1 L1185.8,799.6 L1186.1,797.1 L1186.4,794.7 L1186.7,792.2 L1187.0,789.7 L1187.3,787.2 L1187.6,784.7 L1187.9,782.2 L1188.2,779.7 L1188.5,777.3 L1188.8,774.8 L1189.1,772.3 L1189.5,769.8 L1189.8,767.3 L1190.1,764.8 L1190.4,762.4 L1190.8,759.9 L1191.1,757.4 L1191.4,754.9 L1191.7,752.4 L1192.1,750.0 L1192.4,747.5 L1192.7,745.0 L1193.1,742.5 L1193.4,740.0 L1193.8,737.6 L1194.1,735.1 L1194.5,732.6 L1194.8,730.1 L1195.2,727.7 L1195.5,725.2 L1195.9,722.7 L1196.2,720.3 L1196.6,717.8 L1196.9,715.3 L1197.3,712.9 L1197.7,710.4 L1198.0,707.9 L1198.4,705.5 L1198.8,703.0 L1199.1,700.5 L1199.5,698.1 L1199.9,695.6 L1200.3,693.2 L1200.6,690.7 L1201.0,688.2 L1201.4,685.8 L1201.8,683.3 L1202.2,680.9 L1202.6,678.4 L1203.0,676.0 L1203.4,673.6 L1203.8,671.1 L1204.2,668.7 L1204.6,666.2 L1205.0,663.8 L1205.4,661.4 L1205.8,658.9 L1206.2,656.5 L1206.6,654.1 L1207.0,651.6 L1207.4,649.2 L1207.8,646.8 L1208.3,644.4 L1208.7,641.9 L1209.2,639.5 L1209.7,637.1 L1210.3,634.6 L1210.8,632.2 L1211.5,629.7 L1212.2,627.2 L1212.9,624.7 L1213.7,622.2 L1214.5,619.7 L1215.5,617.2 L1216.5,614.6 L1217.5,612.0 L1218.7,609.4 L1220.0,606.8 L1221.3,604.4 L1222.8,602.1 L1224.4,600.2 L1226.2,598.8 L1228.1,598.0 L1230.0,597.6 L1231.9,597.8 L1233.8,598.4 L1235.6,599.5 L1237.3,601.0 L1238.8,602.9 L1240.1,605.1 L1241.3,607.5 L1242.3,610.1 L1243.4,612.8 L1244.3,615.4 L1245.3,618.0 L1246.2,620.6 L1247.1,623.2 L1248.0,625.7 L1248.8,628.3 L1249.6,630.8 L1250.4,633.3 L1251.1,635.7 L1251.8,638.2 L1252.6,640.6 L1253.2,643.1 L1253.9,645.5 L1254.5,647.9 L1255.2,650.3 L1255.8,652.7 L1256.4,655.1 L1257.0,657.5 L1257.5,659.9 L1258.1,662.2 L1258.6,664.6 L1259.1,667.0 L1259.6,669.4 L1260.2,671.7 L1260.7,674.1 L1261.2,676.5 L1261.6,678.9 L1262.1,681.3 L1262.6,683.7 L1263.1,686.1 L1263.5,688.5 L1264.0,691.0 L1264.5,693.4 L1264.9,695.8 L1265.4,698.3 L1265.8,700.7 L1266.3,703.2 L1266.7,705.6 L1267.1,708.1 L1267.6,710.5 L1268.0,713.0 L1268.4,715.5 L1268.9,718.0 L1269.3,720.4 L1269.7,722.9 L1270.1,725.4 L1270.5,727.9 L1270.9,730.4 L1271.4,732.8 L1271.8,735.3 L1272.2,737.8 L1272.6,740.3 L1273.0,742.8 L1273.4,745.3 L1273.8,747.8 L1274.2,750.3 L1274.6,752.8 L1275.0,755.3 L1275.4,757.7 L1275.8,760.2 L1276.2,762.7 L1276.5,765.2 L1276.9,767.7 L1277.3,770.2 L1277.7,772.7 L1278.1,775.2 L1278.5,777.6 L1278.9,780.1 L1279.3,782.6 L1279.7,785.1 L1280.1,787.5 L1280.5,790.0 L1280.9,792.5 L1281.3,795.0 L1281.6,797.4 L1282.0,799.9 L1282.4,802.4 L1282.8,804.8 L1283.2,807.3 L1283.6,809.8 L1284.0,812.2 L1284.4,814.7 L1284.7,817.1 L1285.1,819.6 L1285.5,822.1 L1285.9,824.5 L1286.3,827.0 L1286.7,829.4 L1287.0,831.9 L1287.4,834.4 L1287.8,836.8 L1288.2,839.3 L1288.5,841.7 L1288.9,844.2 L1289.3,846.6 L1289.7,849.1 L1290.0,851.6 L1290.4,854.0 L1290.8,856.5 L1291.1,858.9 L1291.5,861.4 L1291.9,863.9 L1292.2,866.3 L1292.6,868.8 L1292.9,871.2 L1293.3,873.7 L1293.6,876.2 L1294.0,878.6 L1294.3,881.1 L1294.7,883.6 L1295.0,886.0 L1295.4,888.5 L1295.7,891.0 L1296.0,893.5 L1296.4,895.9 L1296.7,898.4 L1297.1,900.9 L1297.4,903.3 L1297.7,905.8 L1298.1,908.3 L1298.4,910.8 L1298.7,913.2 L1299.0,915.7 L1299.4,918.2 L1299.7,920.7 L1300.0,923.2 L1300.3,925.6 L1300.7,928.1 L1301.0,930.6 L1301.3,933.1 L1301.6,935.6 L1301.9,938.0 L1302.2,940.5 L1302.6,943.0 L1302.9,945.5 L1303.2,948.0 L1303.5,950.5 L1303.8,953.0 L1304.1,955.4 L1304.4,957.9 L1304.7,960.4 L1305.1,962.9 L1305.4,965.4 L1305.7,967.9 L1306.0,970.4 L1306.3,972.9 L1306.6,975.3 L1306.9,977.8 L1307.2,980.3 L1307.5,982.8 L1307.8,985.3 L1308.2,987.8 L1308.5,990.3 L1308.8,992.8 L1309.1,995.2 L1309.4,997.7 L1309.7,1000.2 L1310.0,1002.7 L1310.3,1005.2 L1310.6,1007.7 L1311.0,1010.2 L1311.3,1012.7 L1311.6,1015.2 L1311.9,1017.7 L1312.2,1020.1 L1312.5,1022.6 L1312.8,1025.1 L1313.1,1027.6 L1313.5,1030.1 L1313.8,1032.6 L1314.1,1035.1 L1314.4,1037.6 L1314.7,1040.1 L1315.1,1042.5 L1315.4,1045.0 L1315.7,1047.5 L1316.0,1050.0 L1316.4,1052.5 L1316.7,1055.0 L1317.0,1057.5 L1317.3,1059.9 L1317.7,1062.4 L1318.0,1064.9 L1318.3,1067.4 L1318.7,1069.9 L1319.0,1072.4 L1319.3,1074.8 L1319.7,1077.3 L1320.0,1079.8 L1320.4,1082.3 L1320.7,1084.8 L1321.1,1087.3 L1321.4,1089.7 L1321.8,1092.2 L1322.1,1094.7 L1322.5,1097.2 L1322.8,1099.6 L1323.2,1102.1 L1323.5,1104.6 L1323.9,1107.1 L1324.3,1109.5 L1324.6,1112.0 L1325.0,1114.5 L1325.4,1117.0 L1325.7,1119.4 L1326.1,1121.9 L1326.5,1124.4 L1326.9,1126.8 L1327.3,1129.3 L1327.7,1131.8 L1328.0,1134.2 L1328.4,1136.7 L1328.8,1139.2 L1329.2,1141.6 L1329.6,1144.1 L1330.0,1146.6 L1330.4,1149.0 L1330.8,1151.5 L1331.3,1153.9 L1331.7,1156.4 L1332.1,1158.8 L1332.5,1161.3 L1332.9,1163.7 L1333.4,1166.2 L1333.8,1168.6 L1334.2,1171.1 L1334.7,1173.5 L1335.1,1176.0 L1335.5,1178.4 L1336.0,1180.9 L1336.4,1183.3 L1336.9,1185.8 L1337.4,1188.2 L1337.8,1190.6 L1338.3,1193.1 L1338.7,1195.5 L1339.2,1198.0 L1339.7,1200.4 L1340.2,1202.8 L1340.7,1205.3 L1341.2,1207.7 L1341.6,1210.1 L1342.1,1212.5 L1342.6,1215.0 L1343.2,1217.4 L1343.7,1219.8 L1344.2,1222.2 L1344.7,1224.7 L1345.2,1227.1 L1345.8,1229.5 L1346.3,1231.9 L1346.8,1234.4 L1347.4,1236.8 L1347.9,1239.2 L1348.5,1241.6 L1349.1,1244.0 L1349.6,1246.5 L1350.2,1248.9 L1350.8,1251.3 L1351.4,1253.7 L1352.0,1256.2 L1352.6,1258.6 L1353.2,1261.0 L1353.8,1263.4 L1354.4,1265.9 L1355.1,1268.3 L1355.7,1270.7 L1356.4,1273.1 L1357.0,1275.6 L1357.7,1278.0 L1358.3,1280.4 L1359.0,1282.8 L1359.7,1285.3 L1360.4,1287.7 L1361.1,1290.1 L1361.8,1292.6 L1362.5,1295.0 L1363.3,1297.5 L1364.0,1299.9 L1364.7,1302.3 L1365.5,1304.8 L1366.3,1307.2 L1367.0,1309.7 L1367.8,1312.1 L1368.6,1314.5 L1369.5,1317.0 L1370.3,1319.4 L1371.1,1321.8 L1372.0,1324.2 L1372.9,1326.6 L1373.8,1328.9 L1374.8,1331.3 L1375.7,1333.6 L1376.7,1336.0 L1377.7,1338.3 L1378.8,1340.6 L1379.9,1342.8 L1381.0,1345.1 L1382.1,1347.3 L1383.3,1349.5 L1384.5,1351.7 L1385.7,1353.8 L1387.0,1355.9 L1388.3,1358.0 L1389.6,1360.1 L1391.0,1362.1 L1392.4,1364.1 L1393.9,1366.0 L1395.4,1368.0 L1397.0,1369.8 L1398.6,1371.7 L1400.2,1373.5 L1401.9,1375.2 L1403.7,1376.9 L1405.4,1378.6 L1407.3,1380.2 L1409.1,1381.8 L1411.0,1383.4 L1413.0,1384.9 L1415.0,1386.4 L1417.0,1387.8 L1419.0,1389.2 L1421.1,1390.6 L1423.2,1391.9 L1425.4,1393.2 L1427.5,1394.4 L1429.7,1395.6 L1431.9,1396.8 L1434.2,1397.9 L1436.5,1399.0 L1438.7,1400.1 L1441.0,1401.1 L1443.4,1402.1 L1445.7,1403.0 L1448.1,1403.9 L1450.4,1404.8 L1452.8,1405.6 L1455.2,1406.4 L1457.6,1407.2 L1460.0,1408.0 L1462.4,1408.7 L1464.8,1409.3 L1467.2,1410.0 L1469.7,1410.6 L1472.1,1411.2 L1474.5,1411.8 L1477.0,1412.3 L1479.4,1412.9 L1481.9,1413.4 L1484.3,1413.9 L1486.7,1414.4 L1489.2,1414.9 L1491.6,1415.4 L1494.1,1416.0 L1496.5,1416.5 L1499.0,1417.0 L1501.4,1417.5 L1503.8,1418.0 L1506.3,1418.5 L1508.7,1419.1 L1511.1,1419.7 L1513.5,1420.3 L1515.9,1420.9 L1518.3,1421.5 L1520.7,1422.2 L1523.1,1422.8 L1525.5,1423.5 L1527.9,1424.2 L1530.3,1424.9 L1532.7,1425.7 L1535.1,1426.4 L1537.4,1427.2 L1539.8,1428.0 L1542.2,1428.8 L1544.5,1429.6 L1546.9,1430.4 L1549.3,1431.2 L1551.6,1432.0 L1554.0,1432.9 L1556.3,1433.7 L1558.7,1434.6 L1561.0,1435.5 L1563.4,1436.3 L1565.7,1437.2 L1568.0,1438.1 L1570.4,1439.0 L1572.7,1439.9 L1575.1,1440.8 L1577.4,1441.7 L1579.7,1442.6 L1582.1,1443.5 L1584.4,1444.4 L1586.7,1445.2 L1589.1,1446.1 L1591.4,1447.0 L1593.8,1447.9 L1596.1,1448.8 L1598.4,1449.7 L1600.8,1450.6 L1603.1,1451.5 L1605.5,1452.3 L1607.8,1453.2 L1610.2,1454.0 L1612.5,1454.9 L1614.9,1455.7 L1617.2,1456.5 L1619.6,1457.4 L1622.0,1458.2 L1624.3,1459.0 L1626.7,1459.7 L1629.1,1460.5 L1631.4,1461.3 L1633.8,1462.0 L1636.2,1462.7 L1638.6,1463.4 L1641.0,1464.1 L1643.4,1464.8 L1645.8,1465.5 L1648.2,1466.1 L1650.6,1466.7 L1653.0,1467.3 L1655.4,1467.9 L1657.8,1468.4 L1660.3,1469.0 L1662.7,1469.5 L1665.2,1470.0 L1667.6,1470.4 L1670.1,1470.9 L1672.5,1471.3 L1675.0,1471.7 L1677.5,1472.1 L1679.9,1472.4 L1682.4,1472.8 L1684.9,1473.1 L1687.4,1473.4 L1689.9,1473.6 L1692.4,1473.9 L1694.9,1474.2 L1697.4,1474.4 L1699.9,1474.6 L1702.4,1474.8 L1704.9,1475.0 L1707.4,1475.2 L1709.9,1475.3 L1712.5,1475.5 L1715.0,1475.6 L1717.5,1475.7 L1720.0,1475.8 L1722.5,1475.9 L1725.1,1476.0 L1727.6,1476.1 L1730.1,1476.2 L1732.6,1476.3 L1735.2,1476.4 L1737.7,1476.4 L1740.2,1476.5 L1742.7,1476.5 L1745.2,1476.6 L1747.8,1476.6 L1750.3,1476.7 L1752.8,1476.7 L1755.3,1476.8 L1757.8,1476.8 L1760.3,1476.8 L1762.8,1476.9 L1765.3,1476.9 L1767.8,1477.0 L1770.3,1477.0 L1772.8,1477.1 L1775.3,1477.1 L1777.8,1477.2 L1780.2,1477.3 L1782.7,1477.3 L1785.2,1477.4 L1787.6,1477.5 L1790.1,1477.6 L1792.6,1477.7 L1795.0,1477.8" stroke="#00e000"/>
</g>
<g fill="none" stroke-width="8.5" stroke-linejoin="round" stroke-linecap="butt" clip-path="url(#cb)">
<path d="M288.1,2541.7 L290.6,2541.7 L293.1,2541.7 L295.6,2541.8 L298.1,2541.8 L300.6,2541.8 L303.1,2541.8 L305.6,2541.8 L308.1,2541.8 L310.6,2541.9 L313.1,2541.9 L315.6,2541.9 L318.1,2541.9 L320.6,2541.9 L323.1,2541.9 L325.6,2541.9 L328.1,2541.9 L330.6,2541.9 L333.1,2541.9 L335.6,2541.9 L338.1,2541.9 L340.6,2541.9 L343.1,2541.9 L345.6,2541.9 L348.1,2541.9 L350.6,2541.9 L353.1,2541.8 L355.6,2541.8 L358.1,2541.8 L360.6,2541.8 L363.1,2541.8 L365.6,2541.8 L368.1,2541.8 L370.6,2541.8 L373.1,2541.8 L375.6,2541.7 L378.1,2541.7 L380.6,2541.7 L383.0,2541.7 L385.5,2541.7 L388.0,2541.7 L390.5,2541.6 L393.0,2541.6 L395.5,2541.6 L398.0,2541.6 L400.5,2541.6 L403.0,2541.6 L405.5,2541.6 L408.0,2541.5 L410.5,2541.5 L413.0,2541.5 L415.5,2541.5 L418.0,2541.5 L420.5,2541.5 L423.0,2541.4 L425.5,2541.4 L428.0,2541.4 L430.5,2541.4 L433.0,2541.4 L435.5,2541.4 L438.0,2541.4 L440.5,2541.4 L443.0,2541.4 L445.5,2541.3 L448.0,2541.3 L450.5,2541.3 L453.0,2541.3 L455.5,2541.3 L458.0,2541.3 L460.5,2541.3 L463.0,2541.3 L465.5,2541.3 L468.0,2541.3 L470.5,2541.3 L473.0,2541.3 L475.5,2541.3 L478.0,2541.3 L480.5,2541.3 L483.0,2541.3 L485.5,2541.3 L488.0,2541.4 L490.5,2541.4 L493.0,2541.4 L495.5,2541.4 L498.0,2541.3 L500.5,2541.3 L503.0,2541.3 L505.5,2541.3 L508.0,2541.2 L510.5,2541.2 L513.0,2541.2 L515.5,2541.1 L518.0,2541.0 L520.5,2540.9 L523.0,2540.8 L525.5,2540.7 L528.0,2540.6 L530.5,2540.4 L533.0,2540.3 L535.5,2540.1 L537.9,2539.9 L540.4,2539.6 L542.9,2539.4 L545.4,2539.1 L547.9,2538.9 L550.4,2538.5 L552.8,2538.2 L555.3,2537.8 L557.8,2537.5 L560.3,2537.1 L562.7,2536.6 L565.2,2536.1 L567.6,2535.6 L570.1,2535.1 L572.5,2534.6 L574.9,2534.0 L577.4,2533.3 L579.8,2532.6 L582.2,2531.9 L584.5,2531.2 L586.9,2530.4 L589.2,2529.6 L591.5,2528.7 L593.8,2527.8 L596.1,2526.8 L598.3,2525.8 L600.5,2524.7 L602.7,2523.6 L604.9,2522.5 L607.1,2521.3 L609.3,2520.1 L611.5,2518.9 L613.8,2517.7 L616.0,2516.5 L618.3,2515.3 L620.6,2514.0 L623.0,2512.9 L625.3,2511.7 L627.7,2510.7 L630.1,2509.7 L632.5,2508.9 L634.9,2508.2 L637.3,2507.6 L639.7,2507.3 L642.1,2507.0 L644.5,2507.0 L646.9,2507.1 L649.3,2507.3 L651.7,2507.6 L654.1,2508.1 L656.5,2508.6 L658.9,2509.2 L661.3,2509.8 L663.7,2510.5 L666.1,2511.2 L668.5,2512.0 L670.9,2512.8 L673.3,2513.5 L675.7,2514.3 L678.2,2515.0 L680.6,2515.6 L683.0,2516.2 L685.5,2516.8 L687.9,2517.2 L690.4,2517.6 L692.8,2517.9 L695.3,2518.1 L697.8,2518.2 L700.3,2518.3 L702.8,2518.3 L705.3,2518.3 L707.7,2518.3 L710.2,2518.2 L712.7,2518.1 L715.2,2518.0 L717.7,2517.9 L720.3,2517.7 L722.8,2517.6 L725.3,2517.5 L727.8,2517.5 L730.3,2517.4 L732.8,2517.4 L735.3,2517.5 L737.8,2517.6 L740.3,2517.7 L742.7,2518.0 L745.2,2518.3 L747.7,2518.6 L750.2,2519.0 L752.7,2519.4 L755.1,2519.9 L757.6,2520.3 L760.1,2520.7 L762.6,2521.2 L765.1,2521.6 L767.6,2521.9 L770.0,2522.2 L772.5,2522.4 L775.0,2522.6 L777.5,2522.6 L780.0,2522.6 L782.5,2522.5 L785.1,2522.4 L787.6,2522.3 L790.1,2522.2 L792.6,2522.1 L795.1,2522.0 L797.6,2522.0 L800.1,2522.0 L802.6,2522.1 L805.1,2522.2 L807.6,2522.3 L810.1,2522.4 L812.5,2522.6 L815.0,2522.8 L817.5,2523.1 L820.0,2523.3 L822.5,2523.6 L824.9,2523.9 L827.4,2524.2 L829.9,2524.5 L832.4,2524.9 L834.8,2525.2 L837.3,2525.6 L839.8,2525.9 L842.3,2526.3 L844.7,2526.7 L847.2,2527.1 L849.7,2527.5 L852.1,2527.9 L854.6,2528.3 L857.1,2528.7 L859.5,2529.0 L862.0,2529.4 L864.5,2529.8 L867.0,2530.1 L869.4,2530.5 L871.9,2530.8 L874.4,2531.2 L876.9,2531.5 L879.4,2531.8 L881.8,2532.2 L884.3,2532.5 L886.8,2532.8 L889.3,2533.1 L891.8,2533.4 L894.3,2533.6 L896.7,2533.9 L899.2,2534.2 L901.7,2534.5 L904.2,2534.7 L906.7,2535.0 L909.2,2535.2 L911.7,2535.5 L914.1,2535.7 L916.6,2535.9 L919.1,2536.1 L921.6,2536.4 L924.1,2536.6 L926.6,2536.8 L929.1,2537.0 L931.6,2537.2 L934.1,2537.4 L936.6,2537.6 L939.1,2537.8 L941.5,2537.9 L944.0,2538.1 L946.5,2538.3 L949.0,2538.4 L951.5,2538.6 L954.0,2538.8 L956.5,2538.9 L959.0,2539.0 L961.5,2539.2 L964.0,2539.3 L966.5,2539.5 L969.0,2539.6 L971.5,2539.7 L974.0,2539.9 L976.5,2540.0 L979.0,2540.1 L981.5,2540.2 L984.0,2540.3 L986.5,2540.4 L989.0,2540.5 L991.4,2540.6 L993.9,2540.7 L996.4,2540.8 L998.9,2540.9 L1001.4,2541.0 L1003.9,2541.1 L1006.4,2541.2 L1008.9,2541.3 L1011.4,2541.4 L1013.9,2541.4 L1016.4,2541.5 L1018.9,2541.6 L1021.4,2541.6 L1023.9,2541.7 L1026.4,2541.8 L1028.9,2541.8 L1031.4,2541.9 L1033.9,2541.9 L1036.4,2542.0 L1038.9,2542.0 L1041.4,2542.0 L1043.9,2542.1 L1046.4,2542.1 L1048.9,2542.1 L1051.4,2542.2 L1053.8,2542.2 L1056.3,2542.2 L1058.8,2542.2 L1061.3,2542.2 L1063.8,2542.2 L1066.3,2542.2 L1068.8,2542.2 L1071.3,2542.2 L1073.8,2542.2 L1076.3,2542.2 L1078.8,2542.2 L1081.3,2542.2 L1083.8,2542.1 L1086.3,2542.1 L1088.8,2542.1 L1091.3,2542.0 L1093.8,2542.0 L1096.3,2541.9 L1098.8,2541.9 L1101.3,2541.8 L1103.8,2541.8 L1106.3,2541.7 L1108.8,2541.6 L1111.3,2541.6 L1113.8,2541.5 L1116.3,2541.4 L1118.8,2541.3 L1121.3,2541.2 L1123.8,2541.1 L1126.3,2541.0 L1128.8,2540.9 L1131.3,2540.7 L1133.8,2540.6 L1136.3,2540.5 L1138.8,2540.3 L1141.3,2540.2 L1143.8,2540.0 L1146.3,2539.8 L1148.8,2539.6 L1151.3,2539.4 L1153.8,2539.2 L1156.3,2539.0 L1158.8,2538.8 L1161.3,2538.6 L1163.8,2538.3 L1166.3,2538.1 L1168.7,2537.9 L1171.2,2537.7 L1173.7,2537.6 L1176.2,2537.5 L1178.7,2537.5 L1181.2,2537.6 L1183.7,2537.7 L1186.1,2537.8 L1188.6,2538.0 L1191.1,2538.2 L1193.6,2538.3 L1196.1,2538.4 L1198.6,2538.5 L1201.2,2538.5 L1203.7,2538.5 L1206.2,2538.3 L1208.7,2538.1 L1211.2,2537.8 L1213.7,2537.3 L1216.2,2536.8 L1218.7,2536.2 L1221.1,2535.5 L1223.4,2534.7 L1225.7,2533.7 L1228.0,2532.7 L1230.1,2531.6 L1232.2,2530.3 L1234.2,2528.9 L1236.2,2527.5 L1238.0,2525.9 L1239.8,2524.2 L1241.5,2522.4 L1243.1,2520.6 L1244.7,2518.6 L1246.2,2516.6 L1247.6,2514.6 L1249.0,2512.4 L1250.3,2510.3 L1251.6,2508.0 L1252.8,2505.8 L1254.0,2503.5 L1255.1,2501.2 L1256.2,2498.8 L1257.2,2496.5 L1258.2,2494.1 L1259.2,2491.8 L1260.1,2489.4 L1261.0,2487.1 L1261.9,2484.7 L1262.7,2482.3 L1263.5,2480.0 L1264.3,2477.6 L1265.1,2475.2 L1265.8,2472.9 L1266.5,2470.5 L1267.2,2468.1 L1267.9,2465.7 L1268.6,2463.3 L1269.2,2460.9 L1269.9,2458.6 L1270.5,2456.2 L1271.1,2453.8 L1271.7,2451.4 L1272.3,2449.0 L1272.9,2446.6 L1273.5,2444.2 L1274.1,2441.7 L1274.7,2439.3 L1275.3,2436.9 L1275.8,2434.5 L1276.4,2432.1 L1277.0,2429.6 L1277.5,2427.2 L1278.1,2424.8 L1278.6,2422.4 L1279.2,2419.9 L1279.7,2417.5 L1280.3,2415.1 L1280.8,2412.6 L1281.3,2410.2 L1281.9,2407.7 L1282.4,2405.3 L1282.9,2402.8 L1283.4,2400.4 L1283.9,2397.9 L1284.4,2395.5 L1284.9,2393.0 L1285.4,2390.6 L1285.9,2388.1 L1286.3,2385.6 L1286.8,2383.2 L1287.3,2380.7 L1287.7,2378.3 L1288.2,2375.8 L1288.6,2373.3 L1289.1,2370.9 L1289.5,2368.4 L1289.9,2365.9 L1290.3,2363.5 L1290.7,2361.0 L1291.2,2358.5 L1291.6,2356.0 L1291.9,2353.6 L1292.3,2351.1 L1292.7,2348.6 L1293.1,2346.2 L1293.5,2343.7 L1293.8,2341.2 L1294.2,2338.7 L1294.5,2336.3 L1294.9,2333.8 L1295.2,2331.3 L1295.5,2328.8 L1295.8,2326.3 L1296.2,2323.9 L1296.5,2321.4 L1296.8,2318.9 L1297.1,2316.4 L1297.4,2314.0 L1297.7,2311.5 L1297.9,2309.0 L1298.2,2306.5 L1298.5,2304.0 L1298.8,2301.6 L1299.0,2299.1 L1299.3,2296.6 L1299.6,2294.1 L1299.8,2291.6 L1300.1,2289.1 L1300.3,2286.7 L1300.6,2284.2 L1300.8,2281.7 L1301.0,2279.2 L1301.3,2276.7 L1301.5,2274.2 L1301.7,2271.8 L1301.9,2269.3 L1302.2,2266.8 L1302.4,2264.3 L1302.6,2261.8 L1302.8,2259.3 L1303.0,2256.8 L1303.2,2254.4 L1303.4,2251.9 L1303.6,2249.4 L1303.8,2246.9 L1304.0,2244.4 L1304.2,2241.9 L1304.4,2239.4 L1304.6,2236.9 L1304.8,2234.5 L1305.0,2232.0 L1305.2,2229.5 L1305.4,2227.0 L1305.6,2224.5 L1305.8,2222.0 L1306.0,2219.5 L1306.2,2217.0 L1306.4,2214.5 L1306.5,2212.1 L1306.7,2209.6 L1306.9,2207.1 L1307.1,2204.6 L1307.3,2202.1 L1307.5,2199.6 L1307.7,2197.1 L1307.9,2194.6 L1308.1,2192.1 L1308.3,2189.7 L1308.5,2187.2 L1308.7,2184.7 L1308.9,2182.2 L1309.1,2179.7 L1309.3,2177.2 L1309.5,2174.7 L1309.7,2172.2 L1309.9,2169.7 L1310.1,2167.2 L1310.3,2164.7 L1310.5,2162.3 L1310.7,2159.8 L1310.9,2157.3 L1311.1,2154.8 L1311.3,2152.3 L1311.5,2149.8 L1311.7,2147.3 L1311.9,2144.8 L1312.2,2142.3 L1312.4,2139.8 L1312.6,2137.4 L1312.8,2134.9 L1313.0,2132.4 L1313.2,2129.9 L1313.4,2127.4 L1313.7,2124.9 L1313.9,2122.4 L1314.1,2119.9 L1314.3,2117.4 L1314.5,2114.9 L1314.7,2112.4 L1314.9,2110.0 L1315.1,2107.5 L1315.4,2105.0 L1315.6,2102.5 L1315.8,2100.0 L1316.0,2097.5 L1316.2,2095.0 L1316.4,2092.5 L1316.6,2090.0 L1316.8,2087.5 L1317.0,2085.0 L1317.3,2082.6 L1317.5,2080.1 L1317.7,2077.6 L1317.9,2075.1 L1318.1,2072.6 L1318.3,2070.1 L1318.5,2067.6 L1318.7,2065.1 L1318.9,2062.6 L1319.1,2060.1 L1319.3,2057.6 L1319.5,2055.2 L1319.7,2052.7 L1319.9,2050.2 L1320.1,2047.7 L1320.3,2045.2 L1320.5,2042.7 L1320.7,2040.2 L1320.8,2037.7 L1321.0,2035.2 L1321.2,2032.7 L1321.4,2030.2 L1321.6,2027.8 L1321.8,2025.3 L1322.0,2022.8 L1322.2,2020.3 L1322.4,2017.8 L1322.6,2015.3 L1322.7,2012.8 L1322.9,2010.3 L1323.1,2007.8 L1323.3,2005.3 L1323.5,2002.8 L1323.7,2000.4 L1323.8,1997.9 L1324.0,1995.4 L1324.2,1992.9 L1324.4,1990.4 L1324.6,1987.9 L1324.7,1985.4 L1324.9,1982.9 L1325.1,1980.4 L1325.3,1977.9 L1325.5,1975.4 L1325.6,1973.0 L1325.8,1970.5 L1326.0,1968.0 L1326.2,1965.5 L1326.4,1963.0 L1326.5,1960.5 L1326.7,1958.0 L1326.9,1955.5 L1327.1,1953.0 L1327.2,1950.5 L1327.4,1948.0 L1327.6,1945.6 L1327.8,1943.1 L1327.9,1940.6 L1328.1,1938.1 L1328.3,1935.6 L1328.5,1933.1 L1328.6,1930.6 L1328.8,1928.1 L1329.0,1925.6 L1329.1,1923.1 L1329.3,1920.6 L1329.5,1918.1 L1329.7,1915.7 L1329.8,1913.2 L1330.0,1910.7 L1330.2,1908.2 L1330.4,1905.7 L1330.5,1903.2 L1330.7,1900.7 L1330.9,1898.2 L1331.0,1895.7 L1331.2,1893.2 L1331.4,1890.7 L1331.6,1888.2 L1331.7,1885.7 L1331.9,1883.3 L1332.1,1880.8 L1332.3,1878.3 L1332.4,1875.8 L1332.6,1873.3 L1332.8,1870.8 L1332.9,1868.3 L1333.1,1865.8 L1333.3,1863.3 L1333.5,1860.8 L1333.6,1858.3 L1333.8,1855.8 L1334.0,1853.3 L1334.2,1850.8 L1334.3,1848.4 L1334.5,1845.9 L1334.7,1843.4 L1334.9,1840.9 L1335.0,1838.4 L1335.2,1835.9 L1335.4,1833.4 L1335.6,1830.9 L1335.8,1828.4 L1335.9,1825.9 L1336.1,1823.4 L1336.3,1820.9 L1336.5,1818.4 L1336.7,1815.9 L1336.8,1813.4 L1337.0,1810.9 L1337.2,1808.5 L1337.4,1806.0 L1337.6,1803.5 L1337.7,1801.0 L1337.9,1798.5 L1338.1,1796.0 L1338.3,1793.5 L1338.5,1791.0 L1338.7,1788.5 L1338.9,1786.0 L1339.1,1783.5 L1339.3,1781.0 L1339.5,1778.5 L1339.7,1776.0 L1339.9,1773.5 L1340.1,1771.0 L1340.3,1768.6 L1340.6,1766.1 L1340.8,1763.6 L1341.0,1761.1 L1341.3,1758.6 L1341.5,1756.1 L1341.8,1753.6 L1342.0,1751.2 L1342.3,1748.7 L1342.6,1746.2 L1342.8,1743.7 L1343.1,1741.2 L1343.4,1738.8 L1343.7,1736.3 L1344.1,1733.8 L1344.4,1731.3 L1344.7,1728.9 L1345.0,1726.4 L1345.4,1723.9 L1345.8,1721.5 L1346.1,1719.0 L1346.5,1716.6 L1346.9,1714.1 L1347.3,1711.6 L1347.7,1709.2 L1348.2,1706.7 L1348.6,1704.3 L1349.1,1701.9 L1349.6,1699.4 L1350.1,1697.0 L1350.7,1694.6 L1351.2,1692.2 L1351.8,1689.8 L1352.4,1687.4 L1353.0,1685.0 L1353.7,1682.5 L1354.3,1679.8 L1355.0,1677.0 L1355.6,1674.0 L1356.4,1671.0 L1357.4,1668.3 L1358.8,1666.2 L1360.6,1664.8 L1362.7,1664.2 L1364.9,1664.2 L1367.1,1664.8 L1369.1,1665.8 L1370.8,1667.3 L1372.2,1669.1 L1373.3,1671.2 L1374.3,1673.6 L1375.1,1676.1 L1375.8,1678.7 L1376.5,1681.3 L1377.1,1684.0 L1377.7,1686.6 L1378.2,1689.2 L1378.8,1691.8 L1379.4,1694.4 L1379.9,1697.0 L1380.4,1699.6 L1380.9,1702.1 L1381.4,1704.6 L1381.9,1707.2 L1382.4,1709.7 L1382.8,1712.2 L1383.3,1714.6 L1383.7,1717.1 L1384.1,1719.6 L1384.5,1722.1 L1385.0,1724.5 L1385.4,1727.0 L1385.8,1729.4 L1386.2,1731.8 L1386.5,1734.3 L1386.9,1736.7 L1387.3,1739.1 L1387.7,1741.6 L1388.0,1744.0 L1388.4,1746.4 L1388.8,1748.9 L1389.1,1751.3 L1389.5,1753.7 L1389.8,1756.2 L1390.2,1758.6 L1390.5,1761.1 L1390.9,1763.5 L1391.2,1766.0 L1391.6,1768.4 L1391.9,1770.9 L1392.3,1773.3 L1392.6,1775.8 L1393.0,1778.2 L1393.3,1780.7 L1393.6,1783.1 L1394.0,1785.6 L1394.3,1788.1 L1394.6,1790.5 L1395.0,1793.0 L1395.3,1795.5 L1395.6,1797.9 L1395.9,1800.4 L1396.3,1802.9 L1396.6,1805.4 L1396.9,1807.8 L1397.2,1810.3 L1397.5,1812.8 L1397.8,1815.3 L1398.2,1817.8 L1398.5,1820.2 L1398.8,1822.7 L1399.1,1825.2 L1399.4,1827.7 L1399.7,1830.2 L1400.0,1832.7 L1400.3,1835.1 L1400.6,1837.6 L1400.9,1840.1 L1401.2,1842.6 L1401.5,1845.1 L1401.8,1847.6 L1402.1,1850.1 L1402.4,1852.6 L1402.7,1855.1 L1403.0,1857.5 L1403.2,1860.0 L1403.5,1862.5 L1403.8,1865.0 L1404.1,1867.5 L1404.4,1870.0 L1404.7,1872.5 L1404.9,1875.0 L1405.2,1877.5 L1405.5,1880.0 L1405.8,1882.5 L1406.0,1885.0 L1406.3,1887.5 L1406.6,1890.0 L1406.9,1892.5 L1407.1,1894.9 L1407.4,1897.4 L1407.7,1899.9 L1407.9,1902.4 L1408.2,1904.9 L1408.4,1907.4 L1408.7,1909.9 L1409.0,1912.4 L1409.2,1914.9 L1409.5,1917.4 L1409.7,1919.9 L1410.0,1922.3 L1410.2,1924.8 L1410.5,1927.3 L1410.7,1929.8 L1411.0,1932.3 L1411.2,1934.8 L1411.5,1937.3 L1411.7,1939.7 L1412.0,1942.2 L1412.2,1944.7 L1412.5,1947.2 L1412.7,1949.7 L1412.9,1952.2 L1413.2,1954.7 L1413.4,1957.1 L1413.7,1959.6 L1413.9,1962.1 L1414.1,1964.6 L1414.4,1967.1 L1414.6,1969.6 L1414.9,1972.0 L1415.1,1974.5 L1415.3,1977.0 L1415.6,1979.5 L1415.8,1982.0 L1416.0,1984.5 L1416.3,1986.9 L1416.5,1989.4 L1416.7,1991.9 L1416.9,1994.4 L1417.2,1996.9 L1417.4,1999.4 L1417.6,2001.8 L1417.9,2004.3 L1418.1,2006.8 L1418.3,2009.3 L1418.5,2011.8 L1418.8,2014.2 L1419.0,2016.7 L1419.2,2019.2 L1419.4,2021.7 L1419.7,2024.2 L1419.9,2026.7 L1420.1,2029.1 L1420.3,2031.6 L1420.6,2034.1 L1420.8,2036.6 L1421.0,2039.1 L1421.2,2041.5 L1421.4,2044.0 L1421.7,2046.5 L1421.9,2049.0 L1422.1,2051.5 L1422.3,2053.9 L1422.6,2056.4 L1422.8,2058.9 L1423.0,2061.4 L1423.2,2063.9 L1423.5,2066.4 L1423.7,2068.8 L1423.9,2071.3 L1424.1,2073.8 L1424.3,2076.3 L1424.6,2078.8 L1424.8,2081.3 L1425.0,2083.7 L1425.2,2086.2 L1425.5,2088.7 L1425.7,2091.2 L1425.9,2093.7 L1426.1,2096.2 L1426.4,2098.7 L1426.6,2101.1 L1426.8,2103.6 L1427.0,2106.1 L1427.3,2108.6 L1427.5,2111.1 L1427.7,2113.6 L1427.9,2116.1 L1428.2,2118.6 L1428.4,2121.0 L1428.6,2123.5 L1428.9,2126.0 L1429.1,2128.5 L1429.3,2131.0 L1429.5,2133.5 L1429.8,2136.0 L1430.0,2138.5 L1430.2,2141.0 L1430.5,2143.5 L1430.7,2146.0 L1431.0,2148.4 L1431.2,2150.9 L1431.4,2153.4 L1431.7,2155.9 L1431.9,2158.4 L1432.1,2160.9 L1432.4,2163.4 L1432.6,2165.9 L1432.9,2168.4 L1433.1,2170.9 L1433.4,2173.4 L1433.6,2175.9 L1433.9,2178.4 L1434.1,2180.9 L1434.4,2183.4 L1434.6,2185.9 L1434.9,2188.4 L1435.1,2190.9 L1435.4,2193.4 L1435.7,2195.9 L1435.9,2198.4 L1436.2,2200.8 L1436.5,2203.3 L1436.8,2205.8 L1437.0,2208.3 L1437.3,2210.8 L1437.6,2213.3 L1437.9,2215.8 L1438.2,2218.3 L1438.5,2220.8 L1438.8,2223.3 L1439.1,2225.8 L1439.4,2228.3 L1439.7,2230.7 L1440.0,2233.2 L1440.3,2235.7 L1440.7,2238.2 L1441.0,2240.7 L1441.3,2243.2 L1441.7,2245.7 L1442.0,2248.1 L1442.3,2250.6 L1442.7,2253.1 L1443.0,2255.6 L1443.4,2258.1 L1443.8,2260.5 L1444.1,2263.0 L1444.5,2265.5 L1444.9,2268.0 L1445.3,2270.4 L1445.6,2272.9 L1446.0,2275.4 L1446.4,2277.8 L1446.8,2280.3 L1447.3,2282.8 L1447.7,2285.2 L1448.1,2287.7 L1448.5,2290.2 L1448.9,2292.6 L1449.4,2295.1 L1449.8,2297.5 L1450.3,2300.0 L1450.7,2302.4 L1451.2,2304.9 L1451.7,2307.3 L1452.2,2309.8 L1452.6,2312.2 L1453.1,2314.7 L1453.6,2317.1 L1454.1,2319.5 L1454.7,2322.0 L1455.2,2324.4 L1455.7,2326.8 L1456.2,2329.3 L1456.8,2331.7 L1457.3,2334.1 L1457.9,2336.5 L1458.5,2339.0 L1459.0,2341.4 L1459.6,2343.8 L1460.2,2346.2 L1460.8,2348.6 L1461.4,2351.0 L1462.0,2353.4 L1462.7,2355.8 L1463.3,2358.2 L1463.9,2360.6 L1464.6,2363.0 L1465.2,2365.4 L1465.9,2367.8 L1466.6,2370.2 L1467.3,2372.6 L1468.0,2375.0 L1468.7,2377.3 L1469.4,2379.7 L1470.1,2382.1 L1470.8,2384.4 L1471.6,2386.8 L1472.3,2389.2 L1473.1,2391.5 L1473.9,2393.9 L1474.7,2396.2 L1475.4,2398.6 L1476.2,2400.9 L1477.1,2403.3 L1477.9,2405.6 L1478.8,2407.9 L1479.6,2410.3 L1480.5,2412.6 L1481.5,2414.9 L1482.4,2417.2 L1483.4,2419.5 L1484.5,2421.7 L1485.5,2424.0 L1486.7,2426.2 L1487.8,2428.5 L1489.1,2430.7 L1490.3,2432.9 L1491.6,2435.0 L1493.0,2437.2 L1494.5,2439.3 L1496.0,2441.4 L1497.5,2443.5 L1499.1,2445.6 L1500.7,2447.6 L1502.4,2449.5 L1504.2,2451.5 L1505.9,2453.3 L1507.8,2455.2 L1509.6,2456.9 L1511.5,2458.7 L1513.5,2460.3 L1515.5,2461.9 L1517.5,2463.4 L1519.5,2464.9 L1521.6,2466.3 L1523.7,2467.6 L1525.9,2468.8 L1528.0,2470.0 L1530.2,2471.1 L1532.4,2472.1 L1534.7,2473.0 L1537.0,2473.9 L1539.2,2474.7 L1541.5,2475.5 L1543.9,2476.2 L1546.2,2476.9 L1548.5,2477.6 L1550.9,2478.3 L1553.3,2478.9 L1555.6,2479.6 L1558.0,2480.2 L1560.4,2480.8 L1562.8,2481.5 L1565.2,2482.1 L1567.6,2482.8 L1570.0,2483.4 L1572.4,2484.1 L1574.8,2484.8 L1577.2,2485.6 L1579.5,2486.3 L1581.9,2487.1 L1584.3,2487.9 L1586.7,2488.7 L1589.0,2489.5 L1591.4,2490.3 L1593.8,2491.2 L1596.1,2492.0 L1598.4,2492.9 L1600.8,2493.8 L1603.1,2494.8 L1605.4,2495.7 L1607.7,2496.7 L1610.0,2497.7 L1612.2,2498.8 L1614.5,2499.8 L1616.7,2500.9 L1619.0,2502.0 L1621.2,2503.1 L1623.4,2504.3 L1625.6,2505.4 L1627.8,2506.6 L1629.9,2507.7 L1632.1,2508.9 L1634.3,2510.1 L1636.5,2511.2 L1638.7,2512.4 L1640.9,2513.5 L1643.1,2514.6 L1645.3,2515.7 L1647.5,2516.7 L1649.8,2517.8 L1652.1,2518.7 L1654.3,2519.7 L1656.6,2520.6 L1659.0,2521.4 L1661.3,2522.2 L1663.7,2523.0 L1666.1,2523.7 L1668.5,2524.4 L1670.9,2525.1 L1673.4,2525.7 L1675.8,2526.3 L1678.3,2526.9 L1680.7,2527.4 L1683.2,2528.0 L1685.7,2528.5 L1688.2,2528.9 L1690.7,2529.4 L1693.2,2529.8 L1695.7,2530.3 L1698.2,2530.7 L1700.7,2531.1 L1703.2,2531.5 L1705.7,2531.9 L1708.2,2532.3 L1710.6,2532.7 L1713.1,2533.1 L1715.6,2533.5 L1718.0,2533.9 L1720.5,2534.2 L1723.0,2534.6 L1725.4,2535.0 L1727.9,2535.3 L1730.3,2535.6 L1732.8,2536.0 L1735.2,2536.3 L1737.7,2536.6 L1740.1,2536.9 L1742.6,2537.2 L1745.0,2537.4 L1747.5,2537.7 L1750.0,2537.9 L1752.4,2538.1 L1754.9,2538.3 L1757.3,2538.5 L1759.8,2538.7 L1762.3,2538.8 L1764.8,2538.9 L1767.2,2539.0 L1769.7,2539.1 L1772.2,2539.2 L1774.7,2539.2 L1777.2,2539.2 L1779.7,2539.2 L1782.3,2539.1 L1784.8,2539.1 L1787.3,2539.0 L1789.9,2538.8 L1792.4,2538.7 L1795.0,2538.5" stroke="#ff00ff"/>
<path d="M288.0,2541.6 L290.5,2541.6 L293.0,2541.6 L295.5,2541.6 L297.9,2541.6 L300.4,2541.6 L302.9,2541.6 L305.4,2541.6 L307.9,2541.6 L310.4,2541.6 L312.9,2541.6 L315.4,2541.6 L317.9,2541.6 L320.4,2541.6 L322.9,2541.6 L325.4,2541.6 L327.9,2541.6 L330.4,2541.6 L332.9,2541.6 L335.5,2541.6 L338.0,2541.6 L340.5,2541.6 L343.0,2541.6 L345.5,2541.6 L348.0,2541.6 L350.5,2541.6 L353.0,2541.6 L355.5,2541.6 L358.0,2541.6 L360.5,2541.6 L363.0,2541.6 L365.5,2541.5 L368.0,2541.5 L370.6,2541.5 L373.1,2541.5 L375.6,2541.5 L378.1,2541.4 L380.6,2541.4 L383.1,2541.4 L385.6,2541.4 L388.1,2541.3 L390.6,2541.3 L393.1,2541.2 L395.6,2541.2 L398.1,2541.1 L400.6,2541.1 L403.0,2541.0 L405.5,2541.0 L408.0,2540.9 L410.5,2540.9 L413.0,2540.8 L415.5,2540.7 L418.0,2540.6 L420.4,2540.6 L422.9,2540.5 L425.4,2540.4 L427.9,2540.3 L430.3,2540.1 L432.8,2540.0 L435.3,2539.8 L437.8,2539.6 L440.3,2539.4 L442.8,2539.1 L445.3,2538.8 L447.9,2538.5 L450.4,2538.1 L453.0,2537.6 L455.5,2537.1 L457.9,2536.4 L460.3,2535.6 L462.5,2534.6 L464.6,2533.4 L466.4,2532.0 L468.1,2530.2 L469.5,2528.3 L470.8,2526.1 L471.9,2523.9 L472.8,2521.5 L473.7,2519.0 L474.4,2516.6 L475.1,2514.1 L475.7,2511.6 L476.2,2509.2 L476.7,2506.7 L477.1,2504.2 L477.5,2501.8 L477.8,2499.3 L478.2,2496.8 L478.5,2494.3 L478.7,2491.9 L479.0,2489.4 L479.3,2487.0 L479.6,2484.5 L479.8,2482.1 L480.1,2479.6 L480.4,2477.2 L480.7,2474.7 L481.0,2472.3 L481.3,2469.8 L481.5,2467.4 L481.8,2464.9 L482.1,2462.4 L482.4,2460.0 L482.7,2457.5 L482.9,2454.9 L483.2,2452.4 L483.5,2449.9 L483.7,2447.3 L484.0,2444.8 L484.2,2442.2 L484.5,2439.7 L484.7,2437.1 L484.9,2434.6 L485.2,2432.0 L485.4,2429.5 L485.6,2426.9 L485.9,2424.4 L486.1,2421.9 L486.3,2419.4 L486.5,2416.9 L486.7,2414.4 L486.9,2411.9 L487.1,2409.5 L487.2,2407.1 L487.4,2404.7 L487.6,2402.3 L487.7,2400.0 L487.9,2397.6 L488.0,2395.4 L488.2,2393.1 L488.4,2390.8 L488.5,2388.5 L488.7,2386.2 L488.9,2383.7 L489.2,2381.2 L489.5,2378.5 L489.8,2375.7 L490.2,2372.7 L490.7,2369.6 L491.2,2366.3 L491.8,2363.3 L492.4,2360.9 L493.1,2359.5 L493.9,2359.4 L494.7,2360.7 L495.4,2362.9 L496.2,2365.9 L496.8,2369.1 L497.4,2372.4 L498.0,2375.5 L498.4,2378.5 L498.8,2381.3 L499.1,2384.0 L499.3,2386.6 L499.5,2389.1 L499.7,2391.6 L499.9,2394.0 L500.0,2396.3 L500.1,2398.6 L500.2,2400.9 L500.3,2403.1 L500.4,2405.4 L500.6,2407.8 L500.7,2410.1 L500.9,2412.4 L501.1,2414.8 L501.3,2417.2 L501.5,2419.6 L501.7,2422.0 L502.0,2424.4 L502.2,2426.8 L502.5,2429.3 L502.7,2431.7 L503.0,2434.2 L503.3,2436.7 L503.6,2439.2 L503.9,2441.7 L504.2,2444.2 L504.5,2446.7 L504.9,2449.2 L505.2,2451.7 L505.5,2454.2 L505.9,2456.8 L506.2,2459.3 L506.6,2461.8 L506.9,2464.4 L507.3,2466.9 L507.6,2469.4 L508.0,2472.0 L508.3,2474.5 L508.7,2477.0 L509.1,2479.6 L509.4,2482.1 L509.8,2484.6 L510.1,2487.1 L510.5,2489.6 L510.8,2492.1 L511.2,2494.6 L511.6,2497.1 L512.0,2499.5 L512.5,2502.0 L513.1,2504.3 L513.7,2506.7 L514.5,2509.0 L515.3,2511.3 L516.3,2513.6 L517.4,2515.7 L518.6,2517.9 L520.0,2519.9 L521.6,2521.9 L523.3,2523.9 L525.2,2525.6 L527.1,2527.3 L529.2,2528.8 L531.4,2530.0 L533.6,2531.1 L535.9,2532.0 L538.2,2532.5 L540.5,2532.8 L542.9,2532.8 L545.2,2532.5 L547.6,2532.0 L549.9,2531.2 L552.2,2530.1 L554.5,2528.9 L556.8,2527.5 L559.0,2526.0 L561.2,2524.3 L563.4,2522.6 L565.5,2520.7 L567.5,2518.8 L569.5,2516.9 L571.5,2515.2 L573.5,2513.8 L575.5,2512.8 L577.5,2512.4 L579.5,2512.6 L581.6,2513.4 L583.7,2514.7 L585.7,2516.3 L587.8,2518.2 L589.8,2520.1 L591.8,2522.1 L593.7,2524.0 L595.6,2525.8 L597.6,2527.5 L599.5,2529.0 L601.5,2530.4 L603.6,2531.7 L605.8,2532.7 L608.1,2533.6 L610.5,2534.3 L612.9,2534.8 L615.4,2535.1 L617.9,2535.3 L620.4,2535.3 L622.9,2535.1 L625.5,2534.8 L627.9,2534.3 L630.4,2533.6 L632.8,2532.8 L635.1,2531.9 L637.3,2530.7 L639.4,2529.5 L641.5,2528.1 L643.5,2526.6 L645.4,2525.0 L647.3,2523.3 L649.1,2521.5 L650.8,2519.7 L652.5,2517.8 L654.2,2515.9 L655.8,2513.9 L657.5,2512.0 L659.1,2510.0 L660.6,2508.1 L662.2,2506.2 L663.8,2504.4 L665.4,2502.6 L667.0,2500.8 L668.7,2499.0 L670.4,2497.3 L672.2,2495.6 L674.2,2493.8 L676.2,2492.1 L678.4,2490.5 L680.6,2489.2 L682.8,2488.7 L685.0,2489.1 L687.1,2490.2 L689.2,2491.9 L691.2,2494.0 L693.2,2496.2 L695.2,2498.4 L697.1,2500.3 L699.1,2501.8 L701.1,2502.7 L703.2,2502.8 L705.2,2502.0 L707.3,2500.6 L709.2,2498.7 L711.1,2496.5 L712.8,2494.3 L714.3,2492.2 L715.6,2490.2 L716.9,2488.1 L718.1,2486.1 L719.2,2484.0 L720.3,2481.8 L721.5,2479.5 L722.7,2477.2 L723.9,2474.7 L725.3,2472.3 L726.8,2470.0 L728.4,2467.9 L730.2,2466.1 L732.2,2464.7 L734.4,2463.7 L736.8,2463.2 L739.2,2463.0 L741.6,2463.2 L744.1,2463.7 L746.5,2464.5 L748.8,2465.6 L750.9,2467.0 L752.9,2468.5 L754.8,2470.3 L756.5,2472.1 L758.2,2474.1 L759.8,2476.1 L761.4,2478.1 L763.1,2480.0 L764.8,2481.9 L766.5,2483.7 L768.2,2485.5 L770.0,2487.2 L771.8,2488.9 L773.6,2490.6 L775.4,2492.3 L777.3,2494.0 L779.1,2495.7 L780.9,2497.5 L782.7,2499.2 L784.5,2501.0 L786.3,2502.7 L788.1,2504.5 L790.0,2506.2 L791.9,2507.8 L793.8,2509.4 L795.7,2510.8 L797.7,2512.2 L799.8,2513.4 L801.9,2514.5 L804.1,2515.4 L806.4,2516.2 L808.8,2516.7 L811.2,2517.2 L813.7,2517.5 L816.2,2517.7 L818.7,2517.8 L821.3,2517.9 L823.9,2517.9 L826.6,2517.8 L829.2,2517.8 L831.8,2517.7 L834.4,2517.7 L837.0,2517.7 L839.6,2517.7 L842.1,2517.8 L844.7,2517.9 L847.2,2518.1 L849.7,2518.3 L852.1,2518.5 L854.6,2518.7 L857.1,2519.0 L859.5,2519.3 L861.9,2519.6 L864.4,2519.9 L866.8,2520.3 L869.2,2520.6 L871.7,2521.0 L874.1,2521.3 L876.5,2521.7 L879.0,2522.1 L881.4,2522.4 L883.9,2522.8 L886.3,2523.2 L888.8,2523.5 L891.3,2523.8 L893.8,2524.2 L896.4,2524.5 L898.9,2524.8 L901.5,2525.0 L904.0,2525.2 L906.6,2525.4 L909.2,2525.5 L911.8,2525.6 L914.3,2525.6 L916.9,2525.4 L919.4,2525.2 L921.8,2524.9 L924.3,2524.4 L926.7,2523.8 L929.0,2523.1 L931.3,2522.2 L933.5,2521.2 L935.6,2520.0 L937.7,2518.6 L939.7,2517.1 L941.6,2515.5 L943.4,2513.8 L945.2,2512.0 L946.8,2510.0 L948.3,2508.0 L949.8,2506.0 L951.1,2503.9 L952.4,2501.7 L953.5,2499.6 L954.5,2497.3 L955.5,2495.1 L956.4,2492.8 L957.2,2490.4 L957.9,2488.1 L958.6,2485.7 L959.2,2483.2 L959.8,2480.8 L960.3,2478.4 L960.8,2475.9 L961.2,2473.4 L961.7,2470.9 L962.0,2468.4 L962.4,2465.9 L962.7,2463.4 L963.1,2460.9 L963.4,2458.4 L963.7,2455.9 L964.0,2453.4 L964.4,2450.9 L964.7,2448.4 L965.0,2445.9 L965.3,2443.4 L965.7,2440.9 L966.0,2438.4 L966.3,2436.0 L966.6,2433.5 L967.0,2431.0 L967.3,2428.5 L967.6,2426.1 L967.9,2423.6 L968.2,2421.1 L968.5,2418.7 L968.8,2416.2 L969.1,2413.7 L969.4,2411.3 L969.7,2408.8 L970.1,2406.3 L970.4,2403.8 L970.6,2401.4 L970.9,2398.9 L971.2,2396.4 L971.5,2393.9 L971.8,2391.5 L972.1,2389.0 L972.4,2386.5 L972.7,2384.0 L973.0,2381.5 L973.2,2379.1 L973.5,2376.6 L973.8,2374.1 L974.1,2371.6 L974.3,2369.1 L974.6,2366.6 L974.9,2364.2 L975.1,2361.7 L975.4,2359.2 L975.7,2356.7 L975.9,2354.2 L976.2,2351.7 L976.4,2349.2 L976.7,2346.8 L976.9,2344.3 L977.2,2341.8 L977.4,2339.3 L977.7,2336.8 L977.9,2334.3 L978.1,2331.8 L978.4,2329.3 L978.6,2326.8 L978.8,2324.3 L979.1,2321.9 L979.3,2319.4 L979.5,2316.9 L979.7,2314.4 L979.9,2311.9 L980.2,2309.4 L980.4,2306.9 L980.6,2304.4 L980.8,2301.9 L981.0,2299.4 L981.2,2296.9 L981.4,2294.4 L981.6,2291.9 L981.8,2289.4 L982.0,2286.9 L982.2,2284.5 L982.4,2282.0 L982.6,2279.5 L982.8,2277.0 L982.9,2274.5 L983.1,2272.0 L983.3,2269.5 L983.5,2267.0 L983.7,2264.5 L983.8,2262.0 L984.0,2259.5 L984.2,2257.0 L984.3,2254.5 L984.5,2252.0 L984.6,2249.5 L984.8,2247.0 L985.0,2244.5 L985.1,2242.0 L985.3,2239.5 L985.4,2237.0 L985.6,2234.5 L985.7,2232.1 L985.9,2229.6 L986.0,2227.1 L986.1,2224.6 L986.3,2222.1 L986.4,2219.6 L986.5,2217.1 L986.7,2214.6 L986.8,2212.1 L986.9,2209.6 L987.1,2207.1 L987.2,2204.6 L987.3,2202.1 L987.5,2199.6 L987.6,2197.1 L987.7,2194.6 L987.8,2192.1 L987.9,2189.6 L988.1,2187.1 L988.2,2184.6 L988.3,2182.1 L988.4,2179.6 L988.5,2177.1 L988.6,2174.6 L988.7,2172.2 L988.8,2169.7 L989.0,2167.2 L989.1,2164.7 L989.2,2162.2 L989.3,2159.7 L989.4,2157.2 L989.5,2154.7 L989.6,2152.2 L989.7,2149.7 L989.8,2147.2 L989.9,2144.7 L990.0,2142.2 L990.1,2139.7 L990.2,2137.2 L990.3,2134.7 L990.4,2132.2 L990.5,2129.7 L990.6,2127.2 L990.7,2124.7 L990.8,2122.2 L990.9,2119.7 L991.0,2117.2 L991.0,2114.7 L991.1,2112.2 L991.2,2109.7 L991.3,2107.2 L991.4,2104.7 L991.5,2102.2 L991.6,2099.7 L991.7,2097.3 L991.8,2094.8 L991.9,2092.3 L992.0,2089.8 L992.1,2087.3 L992.2,2084.8 L992.3,2082.3 L992.3,2079.8 L992.4,2077.3 L992.5,2074.8 L992.6,2072.3 L992.7,2069.8 L992.8,2067.3 L992.9,2064.8 L993.0,2062.3 L993.1,2059.8 L993.2,2057.3 L993.3,2054.8 L993.4,2052.3 L993.5,2049.8 L993.6,2047.3 L993.7,2044.8 L993.8,2042.3 L993.9,2039.8 L994.0,2037.3 L994.1,2034.8 L994.2,2032.3 L994.3,2029.8 L994.4,2027.3 L994.5,2024.8 L994.6,2022.3 L994.7,2019.8 L994.8,2017.3 L994.9,2014.8 L995.0,2012.3 L995.1,2009.8 L995.2,2007.3 L995.3,2004.8 L995.4,2002.3 L995.6,1999.8 L995.7,1997.3 L995.8,1994.8 L995.9,1992.3 L996.0,1989.8 L996.1,1987.3 L996.3,1984.8 L996.4,1982.3 L996.5,1979.8 L996.6,1977.3 L996.7,1974.9 L996.9,1972.4 L997.0,1969.9 L997.1,1967.4 L997.3,1964.9 L997.4,1962.4 L997.5,1959.9 L997.7,1957.4 L997.8,1954.9 L997.9,1952.4 L998.1,1949.9 L998.2,1947.4 L998.3,1944.9 L998.5,1942.4 L998.6,1939.9 L998.8,1937.4 L998.9,1934.9 L999.0,1932.4 L999.2,1929.9 L999.3,1927.4 L999.5,1924.9 L999.6,1922.4 L999.8,1919.9 L999.9,1917.4 L1000.1,1914.9 L1000.2,1912.4 L1000.4,1909.9 L1000.6,1907.4 L1000.7,1904.9 L1000.9,1902.4 L1001.0,1899.9 L1001.2,1897.4 L1001.4,1894.9 L1001.5,1892.5 L1001.7,1890.0 L1001.9,1887.5 L1002.0,1885.0 L1002.2,1882.5 L1002.4,1880.0 L1002.6,1877.5 L1002.7,1875.0 L1002.9,1872.5 L1003.1,1870.0 L1003.3,1867.5 L1003.5,1865.0 L1003.6,1862.5 L1003.8,1860.0 L1004.0,1857.6 L1004.2,1855.1 L1004.4,1852.6 L1004.6,1850.1 L1004.8,1847.6 L1005.0,1845.1 L1005.2,1842.6 L1005.3,1840.1 L1005.5,1837.6 L1005.7,1835.1 L1005.9,1832.7 L1006.1,1830.2 L1006.4,1827.7 L1006.6,1825.2 L1006.8,1822.7 L1007.0,1820.2 L1007.2,1817.7 L1007.4,1815.2 L1007.6,1812.8 L1007.8,1810.3 L1008.0,1807.8 L1008.3,1805.3 L1008.5,1802.8 L1008.7,1800.3 L1008.9,1797.8 L1009.2,1795.4 L1009.4,1792.9 L1009.6,1790.4 L1009.9,1787.9 L1010.1,1785.4 L1010.4,1782.9 L1010.6,1780.5 L1010.9,1778.0 L1011.2,1775.5 L1011.4,1773.0 L1011.7,1770.5 L1012.0,1768.0 L1012.3,1765.6 L1012.6,1763.1 L1012.9,1760.6 L1013.2,1758.1 L1013.5,1755.6 L1013.8,1753.1 L1014.1,1750.6 L1014.5,1748.2 L1014.8,1745.7 L1015.2,1743.2 L1015.6,1740.7 L1015.9,1738.2 L1016.3,1735.7 L1016.7,1733.2 L1017.1,1730.7 L1017.5,1728.2 L1017.9,1725.7 L1018.4,1723.3 L1018.8,1720.8 L1019.3,1718.3 L1019.7,1715.8 L1020.2,1713.3 L1020.7,1710.8 L1021.2,1708.4 L1021.6,1705.9 L1022.1,1703.5 L1022.6,1701.1 L1023.0,1698.8 L1023.5,1696.5 L1023.9,1694.2 L1024.3,1692.0 L1024.8,1689.7 L1025.2,1687.4 L1025.7,1685.0 L1026.3,1682.6 L1026.9,1679.9 L1027.6,1677.1 L1028.4,1674.1 L1029.3,1670.9 L1030.3,1668.0 L1031.4,1665.5 L1032.5,1663.7 L1033.7,1663.0 L1034.9,1663.5 L1036.1,1665.1 L1037.3,1667.4 L1038.4,1670.3 L1039.5,1673.5 L1040.4,1676.6 L1041.1,1679.5 L1041.7,1682.2 L1042.2,1684.8 L1042.7,1687.3 L1043.0,1689.6 L1043.3,1691.9 L1043.6,1694.2 L1043.8,1696.4 L1044.1,1698.7 L1044.4,1701.0 L1044.8,1703.3 L1045.2,1705.7 L1045.6,1708.1 L1046.0,1710.5 L1046.4,1713.0 L1046.9,1715.5 L1047.3,1718.0 L1047.7,1720.6 L1048.1,1723.1 L1048.4,1725.7 L1048.7,1728.2 L1048.9,1730.7 L1049.2,1733.2 L1049.4,1735.8 L1049.6,1738.3 L1049.8,1740.8 L1050.0,1743.2 L1050.2,1745.7 L1050.5,1748.2 L1050.8,1750.7 L1051.1,1753.1 L1051.5,1755.5 L1052.0,1758.0 L1052.5,1760.4 L1053.1,1762.8 L1053.9,1765.1 L1054.7,1767.5 L1055.6,1769.9 L1056.7,1772.2 L1057.9,1774.5 L1059.3,1776.8 L1060.7,1779.1 L1062.4,1781.0 L1064.3,1782.1 L1066.5,1781.9 L1068.8,1780.6 L1071.2,1779.1 L1073.4,1778.3 L1075.3,1778.6 L1077.0,1780.2 L1078.4,1782.6 L1079.6,1785.4 L1080.6,1788.2 L1081.6,1790.9 L1082.5,1793.5 L1083.3,1795.9 L1084.0,1798.3 L1084.7,1800.6 L1085.3,1802.9 L1085.9,1805.2 L1086.5,1807.5 L1087.0,1809.8 L1087.6,1812.2 L1088.1,1814.6 L1088.6,1816.9 L1089.1,1819.3 L1089.5,1821.8 L1090.0,1824.2 L1090.4,1826.6 L1090.8,1829.1 L1091.2,1831.6 L1091.6,1834.1 L1092.0,1836.5 L1092.4,1839.0 L1092.7,1841.5 L1093.0,1844.0 L1093.4,1846.5 L1093.7,1849.0 L1094.0,1851.6 L1094.3,1854.1 L1094.6,1856.6 L1094.9,1859.1 L1095.2,1861.6 L1095.4,1864.1 L1095.7,1866.6 L1095.9,1869.1 L1096.2,1871.6 L1096.4,1874.1 L1096.7,1876.6 L1096.9,1879.1 L1097.1,1881.6 L1097.3,1884.1 L1097.5,1886.6 L1097.8,1889.0 L1098.0,1891.5 L1098.2,1894.0 L1098.4,1896.5 L1098.6,1899.0 L1098.8,1901.5 L1098.9,1904.0 L1099.1,1906.5 L1099.3,1909.0 L1099.5,1911.5 L1099.7,1914.0 L1099.9,1916.4 L1100.1,1918.9 L1100.3,1921.4 L1100.5,1923.9 L1100.6,1926.4 L1100.8,1928.9 L1101.0,1931.4 L1101.2,1933.9 L1101.4,1936.3 L1101.6,1938.8 L1101.8,1941.3 L1102.0,1943.8 L1102.2,1946.3 L1102.5,1948.8 L1102.7,1951.2 L1102.9,1953.7 L1103.1,1956.2 L1103.4,1958.7 L1103.6,1961.2 L1103.9,1963.7 L1104.1,1966.1 L1104.4,1968.6 L1104.6,1971.1 L1104.9,1973.6 L1105.2,1976.1 L1105.5,1978.5 L1105.8,1981.0 L1106.0,1983.5 L1106.3,1986.0 L1106.6,1988.5 L1106.9,1990.9 L1107.2,1993.4 L1107.5,1995.9 L1107.8,1998.4 L1108.1,2000.9 L1108.4,2003.3 L1108.7,2005.8 L1109.0,2008.3 L1109.3,2010.8 L1109.6,2013.3 L1109.9,2015.8 L1110.2,2018.2 L1110.5,2020.7 L1110.8,2023.2 L1111.1,2025.7 L1111.4,2028.2 L1111.7,2030.7 L1112.0,2033.2 L1112.3,2035.6 L1112.5,2038.1 L1112.8,2040.6 L1113.1,2043.1 L1113.3,2045.6 L1113.6,2048.1 L1113.8,2050.6 L1114.1,2053.1 L1114.3,2055.6 L1114.5,2058.1 L1114.7,2060.6 L1114.9,2063.1 L1115.2,2065.6 L1115.3,2068.1 L1115.5,2070.5 L1115.7,2073.0 L1115.9,2075.5 L1116.1,2078.0 L1116.3,2080.5 L1116.5,2083.0 L1116.6,2085.5 L1116.8,2088.0 L1117.0,2090.5 L1117.1,2093.0 L1117.3,2095.5 L1117.5,2098.0 L1117.7,2100.5 L1117.8,2103.0 L1118.0,2105.5 L1118.2,2108.0 L1118.3,2110.5 L1118.5,2113.0 L1118.7,2115.5 L1118.9,2118.0 L1119.1,2120.5 L1119.3,2123.0 L1119.5,2125.5 L1119.7,2128.0 L1119.9,2130.4 L1120.1,2132.9 L1120.4,2135.4 L1120.6,2137.9 L1120.8,2140.4 L1121.1,2142.9 L1121.3,2145.3 L1121.6,2147.8 L1121.9,2150.3 L1122.2,2152.8 L1122.5,2155.2 L1122.8,2157.7 L1123.1,2160.2 L1123.4,2162.6 L1123.8,2165.1 L1124.1,2167.5 L1124.5,2170.0 L1124.9,2172.5 L1125.2,2174.9 L1125.6,2177.4 L1126.0,2179.8 L1126.4,2182.3 L1126.8,2184.7 L1127.2,2187.2 L1127.7,2189.7 L1128.1,2192.1 L1128.5,2194.6 L1129.0,2197.0 L1129.4,2199.5 L1129.9,2202.0 L1130.4,2204.4 L1130.8,2206.9 L1131.3,2209.4 L1131.8,2211.8 L1132.3,2214.3 L1132.8,2216.8 L1133.3,2219.2 L1133.8,2221.7 L1134.3,2224.2 L1134.8,2226.6 L1135.4,2229.1 L1135.9,2231.5 L1136.5,2234.0 L1137.1,2236.4 L1137.7,2238.9 L1138.3,2241.3 L1139.0,2243.8 L1139.6,2246.2 L1140.3,2248.6 L1141.0,2251.0 L1141.7,2253.4 L1142.5,2255.8 L1143.3,2258.1 L1144.1,2260.5 L1144.9,2262.8 L1145.8,2265.2 L1146.6,2267.5 L1147.6,2269.8 L1148.5,2272.1 L1149.5,2274.4 L1150.5,2276.6 L1151.5,2278.9 L1152.6,2281.1 L1153.8,2283.3 L1154.9,2285.5 L1156.1,2287.7 L1157.3,2289.8 L1158.6,2291.9 L1159.9,2294.0 L1161.3,2296.1 L1162.7,2298.2 L1164.1,2300.2 L1165.6,2302.3 L1167.0,2304.3 L1168.6,2306.3 L1170.1,2308.3 L1171.6,2310.3 L1173.2,2312.3 L1174.8,2314.3 L1176.4,2316.3 L1178.0,2318.3 L1179.7,2320.3 L1181.4,2322.2 L1183.1,2324.0 L1184.9,2325.7 L1186.8,2327.2 L1188.8,2328.6 L1190.8,2329.8 L1193.0,2330.8 L1195.3,2331.6 L1197.7,2332.2 L1200.2,2332.5 L1202.7,2332.7 L1205.2,2332.7 L1207.8,2332.6 L1210.3,2332.4 L1212.8,2332.3 L1215.2,2332.4 L1217.6,2332.9 L1219.9,2333.6 L1222.2,2334.7 L1224.3,2335.9 L1226.5,2337.3 L1228.6,2338.8 L1230.6,2340.4 L1232.6,2342.0 L1234.5,2343.6 L1236.4,2345.3 L1238.3,2347.0 L1240.1,2348.7 L1241.8,2350.4 L1243.5,2352.2 L1245.1,2354.1 L1246.7,2356.0 L1248.2,2357.9 L1249.6,2359.9 L1251.0,2361.8 L1252.4,2363.9 L1253.8,2365.9 L1255.2,2368.0 L1256.6,2370.1 L1258.1,2372.1 L1259.6,2374.2 L1261.1,2376.3 L1262.7,2378.3 L1264.3,2380.3 L1266.0,2382.3 L1267.8,2384.2 L1269.5,2386.0 L1271.4,2387.8 L1273.3,2389.4 L1275.2,2391.0 L1277.1,2392.5 L1279.2,2393.9 L1281.2,2395.3 L1283.3,2396.6 L1285.4,2397.9 L1287.5,2399.1 L1289.7,2400.2 L1291.9,2401.3 L1294.2,2402.4 L1296.4,2403.4 L1298.7,2404.4 L1301.0,2405.3 L1303.3,2406.3 L1305.6,2407.2 L1307.9,2408.1 L1310.3,2408.9 L1312.6,2409.8 L1315.0,2410.6 L1317.4,2411.5 L1319.7,2412.3 L1322.1,2413.2 L1324.5,2414.0 L1326.8,2414.9 L1329.2,2415.8 L1331.5,2416.7 L1333.9,2417.6 L1336.2,2418.5 L1338.6,2419.4 L1340.9,2420.4 L1343.2,2421.3 L1345.6,2422.2 L1347.9,2423.1 L1350.2,2424.0 L1352.6,2424.8 L1354.9,2425.7 L1357.3,2426.5 L1359.6,2427.3 L1362.0,2428.1 L1364.4,2428.9 L1366.8,2429.6 L1369.2,2430.3 L1371.6,2430.9 L1374.0,2431.5 L1376.4,2432.1 L1378.8,2432.7 L1381.2,2433.2 L1383.7,2433.7 L1386.1,2434.2 L1388.6,2434.7 L1391.0,2435.1 L1393.5,2435.6 L1395.9,2436.0 L1398.4,2436.5 L1400.9,2436.9 L1403.3,2437.3 L1405.8,2437.8 L1408.3,2438.2 L1410.7,2438.7 L1413.2,2439.1 L1415.6,2439.6 L1418.1,2440.1 L1420.5,2440.5 L1423.0,2441.0 L1425.5,2441.4 L1427.9,2441.9 L1430.4,2442.4 L1432.8,2442.8 L1435.3,2443.2 L1437.8,2443.6 L1440.2,2444.0 L1442.7,2444.4 L1445.2,2444.8 L1447.7,2445.1 L1450.1,2445.4 L1452.6,2445.7 L1455.1,2446.0 L1457.6,2446.2 L1460.1,2446.4 L1462.6,2446.6 L1465.1,2446.7 L1467.7,2446.8 L1470.2,2446.8 L1472.7,2446.8 L1475.2,2446.7 L1477.7,2446.6 L1480.2,2446.4 L1482.7,2446.1 L1485.2,2445.8 L1487.6,2445.4 L1490.1,2444.9 L1492.5,2444.4 L1494.9,2443.7 L1497.2,2443.0 L1499.6,2442.2 L1501.9,2441.3 L1504.1,2440.3 L1506.4,2439.2 L1508.6,2438.0 L1510.8,2436.8 L1512.9,2435.4 L1515.1,2434.1 L1517.2,2432.7 L1519.4,2431.3 L1521.5,2429.9 L1523.7,2428.6 L1525.8,2427.2 L1528.0,2425.9 L1530.2,2424.7 L1532.4,2423.5 L1534.6,2422.4 L1536.9,2421.3 L1539.1,2420.2 L1541.4,2419.3 L1543.7,2418.4 L1546.0,2417.7 L1548.4,2417.0 L1550.8,2416.4 L1553.2,2415.9 L1555.6,2415.5 L1558.1,2415.2 L1560.6,2414.9 L1563.1,2414.8 L1565.6,2414.7 L1568.1,2414.6 L1570.6,2414.6 L1573.2,2414.6 L1575.7,2414.7 L1578.3,2414.7 L1580.8,2414.8 L1583.3,2414.8 L1585.9,2414.9 L1588.4,2414.9 L1590.9,2414.8 L1593.4,2414.8 L1595.9,2414.7 L1598.4,2414.6 L1600.8,2414.4 L1603.3,2414.3 L1605.8,2414.1 L1608.3,2413.8 L1610.8,2413.5 L1613.2,2413.2 L1615.7,2412.8 L1618.2,2412.5 L1620.7,2412.1 L1623.2,2411.7 L1625.7,2411.3 L1628.1,2410.9 L1630.6,2410.5 L1633.1,2410.2 L1635.6,2409.9 L1638.1,2409.6 L1640.6,2409.3 L1643.0,2409.1 L1645.5,2408.8 L1648.0,2408.6 L1650.4,2408.4 L1652.9,2408.1 L1655.4,2407.8 L1657.8,2407.5 L1660.3,2407.2 L1662.7,2406.8 L1665.2,2406.4 L1667.6,2405.9 L1670.1,2405.3 L1672.5,2404.7 L1675.0,2404.1 L1677.4,2403.4 L1679.8,2402.8 L1682.3,2402.0 L1684.7,2401.3 L1687.1,2400.6 L1689.5,2399.9 L1692.0,2399.1 L1694.4,2398.4 L1696.8,2397.7 L1699.3,2397.0 L1701.7,2396.3 L1704.1,2395.7 L1706.6,2395.1 L1709.0,2394.5 L1711.4,2394.0 L1713.9,2393.5 L1716.3,2393.1 L1718.8,2392.8 L1721.2,2392.5 L1723.7,2392.3 L1726.1,2392.2 L1728.6,2392.2 L1731.1,2392.3 L1733.5,2392.4 L1736.0,2392.7 L1738.5,2393.0 L1741.0,2393.4 L1743.4,2393.8 L1745.9,2394.3 L1748.4,2394.9 L1750.9,2395.4 L1753.4,2395.9 L1755.8,2396.5 L1758.3,2397.0 L1760.8,2397.5 L1763.2,2397.9 L1765.7,2398.4 L1768.1,2398.8 L1770.5,2399.1 L1773.0,2399.5 L1775.4,2399.9 L1777.8,2400.3 L1780.3,2400.7 L1782.7,2401.1 L1785.2,2401.6 L1787.6,2402.0 L1790.1,2402.6 L1792.5,2403.2 L1795.0,2403.8" stroke="#000"/>
<path d="M288.0,2541.6 L290.5,2541.5 L292.9,2541.4 L295.4,2541.4 L297.8,2541.3 L300.3,2541.3 L302.8,2541.2 L305.3,2541.2 L307.8,2541.2 L310.3,2541.2 L312.7,2541.2 L315.2,2541.2 L317.7,2541.2 L320.2,2541.2 L322.7,2541.2 L325.3,2541.3 L327.8,2541.3 L330.3,2541.3 L332.8,2541.4 L335.3,2541.4 L337.8,2541.4 L340.3,2541.4 L342.9,2541.5 L345.4,2541.5 L347.9,2541.5 L350.4,2541.5 L352.9,2541.5 L355.5,2541.5 L358.0,2541.5 L360.5,2541.5 L363.0,2541.5 L365.5,2541.5 L368.0,2541.4 L370.6,2541.4 L373.1,2541.3 L375.6,2541.2 L378.1,2541.1 L380.6,2541.0 L383.1,2540.9 L385.6,2540.8 L388.1,2540.6 L390.6,2540.4 L393.1,2540.3 L395.6,2540.0 L398.0,2539.8 L400.5,2539.6 L403.0,2539.3 L405.5,2539.0 L407.9,2538.7 L410.4,2538.3 L412.8,2537.9 L415.3,2537.6 L417.7,2537.1 L420.2,2536.7 L422.6,2536.2 L425.0,2535.7 L427.5,2535.2 L429.9,2534.7 L432.3,2534.1 L434.7,2533.5 L437.1,2532.9 L439.5,2532.3 L441.9,2531.7 L444.3,2531.0 L446.7,2530.4 L449.1,2529.7 L451.5,2529.0 L453.9,2528.3 L456.3,2527.5 L458.7,2526.8 L461.1,2526.1 L463.4,2525.3 L465.8,2524.5 L468.2,2523.7 L470.6,2523.0 L473.0,2522.2 L475.3,2521.4 L477.7,2520.6 L480.1,2519.8 L482.5,2518.9 L484.8,2518.1 L487.2,2517.3 L489.6,2516.5 L492.0,2515.7 L494.4,2514.8 L496.7,2514.0 L499.1,2513.2 L501.5,2512.4 L503.9,2511.6 L506.3,2510.8 L508.7,2510.0 L511.0,2509.2 L513.4,2508.5 L515.8,2507.8 L518.2,2507.0 L520.6,2506.3 L523.0,2505.7 L525.4,2505.0 L527.8,2504.4 L530.3,2503.8 L532.7,2503.2 L535.1,2502.7 L537.5,2502.2 L539.9,2501.7 L542.4,2501.3 L544.8,2500.9 L547.2,2500.5 L549.7,2500.2 L552.1,2499.9 L554.6,2499.6 L557.0,2499.4 L559.5,2499.3 L562.0,2499.1 L564.4,2499.1 L566.9,2499.0 L569.4,2499.0 L571.8,2499.0 L574.3,2499.0 L576.8,2499.1 L579.3,2499.2 L581.8,2499.3 L584.3,2499.5 L586.8,2499.6 L589.3,2499.8 L591.8,2500.0 L594.3,2500.3 L596.8,2500.5 L599.3,2500.8 L601.8,2501.0 L604.3,2501.3 L606.8,2501.6 L609.3,2501.9 L611.8,2502.2 L614.3,2502.6 L616.8,2502.9 L619.3,2503.2 L621.9,2503.5 L624.4,2503.9 L626.9,2504.2 L629.4,2504.5 L631.9,2504.9 L634.4,2505.2 L636.9,2505.5 L639.4,2505.8 L641.9,2506.1 L644.4,2506.4 L646.9,2506.7 L649.4,2506.9 L651.9,2507.2 L654.4,2507.4 L656.9,2507.6 L659.4,2507.8 L661.9,2508.0 L664.4,2508.2 L666.9,2508.4 L669.4,2508.5 L671.8,2508.7 L674.3,2508.8 L676.8,2509.0 L679.3,2509.1 L681.8,2509.3 L684.2,2509.4 L686.7,2509.5 L689.2,2509.7 L691.7,2509.8 L694.1,2510.0 L696.6,2510.1 L699.1,2510.3 L701.6,2510.5 L704.0,2510.7 L706.5,2510.9 L709.0,2511.1 L711.4,2511.3 L713.9,2511.5 L716.4,2511.8 L718.8,2512.0 L721.3,2512.3 L723.8,2512.6 L726.2,2513.0 L728.7,2513.3 L731.2,2513.7 L733.6,2514.1 L736.1,2514.5 L738.6,2514.9 L741.0,2515.4 L743.5,2515.9 L746.0,2516.3 L748.4,2516.8 L750.9,2517.4 L753.4,2517.9 L755.8,2518.4 L758.3,2518.9 L760.7,2519.5 L763.2,2520.0 L765.7,2520.5 L768.1,2521.1 L770.6,2521.6 L773.1,2522.2 L775.5,2522.7 L778.0,2523.2 L780.5,2523.7 L782.9,2524.2 L785.4,2524.7 L787.9,2525.2 L790.3,2525.6 L792.8,2526.1 L795.3,2526.6 L797.7,2527.0 L800.2,2527.4 L802.6,2527.8 L805.1,2528.2 L807.6,2528.6 L810.0,2529.0 L812.5,2529.4 L815.0,2529.8 L817.4,2530.2 L819.9,2530.5 L822.4,2530.9 L824.9,2531.2 L827.3,2531.5 L829.8,2531.9 L832.3,2532.2 L834.7,2532.5 L837.2,2532.8 L839.7,2533.1 L842.1,2533.3 L844.6,2533.6 L847.1,2533.9 L849.6,2534.2 L852.0,2534.4 L854.5,2534.7 L857.0,2534.9 L859.5,2535.1 L861.9,2535.4 L864.4,2535.6 L866.9,2535.8 L869.4,2536.0 L871.8,2536.2 L874.3,2536.4 L876.8,2536.6 L879.3,2536.8 L881.8,2537.0 L884.2,2537.2 L886.7,2537.3 L889.2,2537.5 L891.7,2537.7 L894.2,2537.8 L896.7,2538.0 L899.2,2538.2 L901.6,2538.3 L904.1,2538.4 L906.6,2538.6 L909.1,2538.7 L911.6,2538.9 L914.1,2539.0 L916.6,2539.1 L919.1,2539.2 L921.6,2539.3 L924.1,2539.5 L926.6,2539.6 L929.1,2539.7 L931.6,2539.8 L934.1,2539.9 L936.6,2540.0 L939.1,2540.1 L941.6,2540.2 L944.1,2540.3 L946.6,2540.4 L949.1,2540.5 L951.6,2540.5 L954.2,2540.6 L956.7,2540.7 L959.2,2540.7 L961.7,2540.8 L964.2,2540.8 L966.7,2540.8 L969.2,2540.9 L971.7,2540.9 L974.2,2540.9 L976.7,2540.9 L979.2,2540.9 L981.7,2540.8 L984.2,2540.8 L986.7,2540.7 L989.2,2540.7 L991.7,2540.6 L994.2,2540.5 L996.7,2540.4 L999.2,2540.3 L1001.7,2540.1 L1004.2,2540.0 L1006.6,2539.8 L1009.1,2539.7 L1011.6,2539.5 L1014.1,2539.3 L1016.5,2539.0 L1019.0,2538.8 L1021.5,2538.5 L1023.9,2538.2 L1026.4,2537.9 L1028.9,2537.6 L1031.3,2537.3 L1033.8,2536.9 L1036.2,2536.5 L1038.6,2536.1 L1041.1,2535.7 L1043.5,2535.2 L1045.9,2534.7 L1048.3,2534.2 L1050.7,2533.5 L1053.1,2532.7 L1055.5,2531.8 L1057.9,2530.8 L1060.2,2529.6 L1062.5,2528.4 L1064.7,2527.0 L1066.8,2525.6 L1068.9,2524.0 L1070.9,2522.4 L1072.8,2520.8 L1074.7,2519.1 L1076.4,2517.3 L1078.1,2515.5 L1079.7,2513.6 L1081.2,2511.7 L1082.7,2509.7 L1084.1,2507.7 L1085.5,2505.6 L1086.8,2503.5 L1088.1,2501.4 L1089.3,2499.2 L1090.4,2497.0 L1091.5,2494.8 L1092.6,2492.5 L1093.6,2490.3 L1094.6,2488.0 L1095.6,2485.7 L1096.5,2483.3 L1097.4,2481.0 L1098.3,2478.7 L1099.1,2476.3 L1100.0,2474.0 L1100.8,2471.6 L1101.6,2469.3 L1102.3,2466.9 L1103.1,2464.5 L1103.8,2462.1 L1104.5,2459.7 L1105.2,2457.3 L1105.9,2454.9 L1106.6,2452.5 L1107.2,2450.1 L1107.9,2447.7 L1108.5,2445.3 L1109.1,2442.9 L1109.7,2440.4 L1110.3,2438.0 L1110.9,2435.6 L1111.5,2433.1 L1112.0,2430.7 L1112.6,2428.3 L1113.2,2425.8 L1113.7,2423.4 L1114.3,2420.9 L1114.8,2418.5 L1115.3,2416.1 L1115.9,2413.6 L1116.4,2411.2 L1116.9,2408.7 L1117.5,2406.3 L1118.0,2403.8 L1118.5,2401.4 L1119.0,2398.9 L1119.5,2396.5 L1120.0,2394.0 L1120.5,2391.6 L1121.0,2389.1 L1121.5,2386.7 L1122.0,2384.2 L1122.5,2381.8 L1123.0,2379.3 L1123.5,2376.9 L1123.9,2374.4 L1124.4,2372.0 L1124.9,2369.5 L1125.4,2367.1 L1125.8,2364.6 L1126.3,2362.2 L1126.7,2359.7 L1127.2,2357.2 L1127.7,2354.8 L1128.1,2352.3 L1128.5,2349.9 L1129.0,2347.4 L1129.4,2345.0 L1129.9,2342.5 L1130.3,2340.0 L1130.7,2337.6 L1131.2,2335.1 L1131.6,2332.7 L1132.0,2330.2 L1132.4,2327.7 L1132.8,2325.3 L1133.3,2322.8 L1133.7,2320.3 L1134.1,2317.9 L1134.5,2315.4 L1134.9,2313.0 L1135.3,2310.5 L1135.7,2308.0 L1136.1,2305.6 L1136.5,2303.1 L1136.8,2300.6 L1137.2,2298.2 L1137.6,2295.7 L1138.0,2293.2 L1138.4,2290.8 L1138.7,2288.3 L1139.1,2285.8 L1139.5,2283.3 L1139.8,2280.9 L1140.2,2278.4 L1140.6,2275.9 L1140.9,2273.5 L1141.3,2271.0 L1141.6,2268.5 L1142.0,2266.1 L1142.3,2263.6 L1142.7,2261.1 L1143.0,2258.6 L1143.4,2256.2 L1143.7,2253.7 L1144.1,2251.2 L1144.4,2248.8 L1144.7,2246.3 L1145.1,2243.8 L1145.4,2241.3 L1145.7,2238.9 L1146.1,2236.4 L1146.4,2233.9 L1146.7,2231.4 L1147.0,2229.0 L1147.3,2226.5 L1147.7,2224.0 L1148.0,2221.5 L1148.3,2219.1 L1148.6,2216.6 L1148.9,2214.1 L1149.2,2211.6 L1149.5,2209.2 L1149.8,2206.7 L1150.1,2204.2 L1150.4,2201.7 L1150.7,2199.2 L1151.0,2196.8 L1151.3,2194.3 L1151.6,2191.8 L1151.9,2189.3 L1152.2,2186.8 L1152.5,2184.4 L1152.8,2181.9 L1153.0,2179.4 L1153.3,2176.9 L1153.6,2174.4 L1153.9,2172.0 L1154.2,2169.5 L1154.5,2167.0 L1154.7,2164.5 L1155.0,2162.0 L1155.3,2159.6 L1155.6,2157.1 L1155.8,2154.6 L1156.1,2152.1 L1156.4,2149.6 L1156.6,2147.2 L1156.9,2144.7 L1157.2,2142.2 L1157.4,2139.7 L1157.7,2137.2 L1158.0,2134.7 L1158.2,2132.3 L1158.5,2129.8 L1158.7,2127.3 L1159.0,2124.8 L1159.3,2122.3 L1159.5,2119.8 L1159.8,2117.4 L1160.0,2114.9 L1160.3,2112.4 L1160.5,2109.9 L1160.8,2107.4 L1161.0,2104.9 L1161.3,2102.5 L1161.6,2100.0 L1161.8,2097.5 L1162.1,2095.0 L1162.3,2092.5 L1162.5,2090.0 L1162.8,2087.5 L1163.0,2085.1 L1163.3,2082.6 L1163.5,2080.1 L1163.8,2077.6 L1164.0,2075.1 L1164.3,2072.6 L1164.5,2070.1 L1164.8,2067.7 L1165.0,2065.2 L1165.3,2062.7 L1165.5,2060.2 L1165.7,2057.7 L1166.0,2055.2 L1166.2,2052.7 L1166.5,2050.3 L1166.7,2047.8 L1166.9,2045.3 L1167.2,2042.8 L1167.4,2040.3 L1167.7,2037.8 L1167.9,2035.3 L1168.2,2032.8 L1168.4,2030.4 L1168.6,2027.9 L1168.9,2025.4 L1169.1,2022.9 L1169.4,2020.4 L1169.6,2017.9 L1169.9,2015.4 L1170.1,2012.9 L1170.3,2010.5 L1170.6,2008.0 L1170.8,2005.5 L1171.1,2003.0 L1171.3,2000.5 L1171.6,1998.0 L1171.8,1995.5 L1172.0,1993.1 L1172.3,1990.6 L1172.5,1988.1 L1172.8,1985.6 L1173.0,1983.1 L1173.3,1980.6 L1173.5,1978.1 L1173.8,1975.6 L1174.0,1973.2 L1174.3,1970.7 L1174.5,1968.2 L1174.8,1965.7 L1175.0,1963.2 L1175.3,1960.7 L1175.5,1958.2 L1175.8,1955.7 L1176.0,1953.3 L1176.3,1950.8 L1176.5,1948.3 L1176.8,1945.8 L1177.0,1943.3 L1177.3,1940.8 L1177.6,1938.3 L1177.8,1935.9 L1178.1,1933.4 L1178.3,1930.9 L1178.6,1928.4 L1178.9,1925.9 L1179.1,1923.4 L1179.4,1920.9 L1179.7,1918.4 L1179.9,1916.0 L1180.2,1913.5 L1180.5,1911.0 L1180.7,1908.5 L1181.0,1906.0 L1181.3,1903.5 L1181.6,1901.1 L1181.8,1898.6 L1182.1,1896.1 L1182.4,1893.6 L1182.7,1891.1 L1183.0,1888.6 L1183.2,1886.1 L1183.5,1883.7 L1183.8,1881.2 L1184.1,1878.7 L1184.4,1876.2 L1184.7,1873.7 L1185.0,1871.2 L1185.3,1868.8 L1185.6,1866.3 L1185.9,1863.8 L1186.2,1861.3 L1186.5,1858.8 L1186.8,1856.3 L1187.1,1853.9 L1187.4,1851.4 L1187.7,1848.9 L1188.0,1846.4 L1188.3,1843.9 L1188.6,1841.4 L1188.9,1839.0 L1189.3,1836.5 L1189.6,1834.0 L1189.9,1831.5 L1190.2,1829.0 L1190.5,1826.6 L1190.9,1824.1 L1191.2,1821.6 L1191.5,1819.1 L1191.9,1816.6 L1192.2,1814.2 L1192.5,1811.7 L1192.9,1809.2 L1193.2,1806.7 L1193.6,1804.3 L1193.9,1801.8 L1194.2,1799.3 L1194.6,1796.8 L1194.9,1794.4 L1195.3,1791.9 L1195.7,1789.4 L1196.0,1786.9 L1196.4,1784.5 L1196.7,1782.0 L1197.1,1779.5 L1197.5,1777.1 L1197.8,1774.6 L1198.2,1772.2 L1198.6,1769.7 L1198.9,1767.2 L1199.3,1764.8 L1199.7,1762.3 L1200.0,1759.9 L1200.4,1757.4 L1200.8,1754.9 L1201.2,1752.5 L1201.6,1750.0 L1202.0,1747.6 L1202.4,1745.1 L1202.7,1742.7 L1203.1,1740.2 L1203.5,1737.8 L1203.9,1735.4 L1204.3,1732.9 L1204.7,1730.5 L1205.1,1728.1 L1205.5,1725.6 L1205.9,1723.2 L1206.3,1720.8 L1206.8,1718.3 L1207.2,1715.9 L1207.6,1713.5 L1208.0,1711.0 L1208.5,1708.6 L1208.9,1706.2 L1209.4,1703.8 L1210.0,1701.3 L1210.5,1698.9 L1211.1,1696.4 L1211.8,1693.9 L1212.5,1691.5 L1213.2,1689.0 L1214.1,1686.5 L1215.0,1683.9 L1215.9,1681.4 L1217.0,1678.8 L1218.1,1676.3 L1219.3,1673.7 L1220.6,1671.1 L1222.1,1668.7 L1223.6,1666.7 L1225.3,1665.0 L1227.1,1663.9 L1229.0,1663.2 L1230.9,1663.1 L1232.8,1663.5 L1234.7,1664.3 L1236.4,1665.6 L1238.0,1667.3 L1239.4,1669.4 L1240.6,1671.7 L1241.8,1674.2 L1242.8,1676.9 L1243.8,1679.5 L1244.8,1682.1 L1245.7,1684.8 L1246.7,1687.3 L1247.5,1689.9 L1248.4,1692.4 L1249.2,1694.9 L1250.0,1697.4 L1250.8,1699.9 L1251.5,1702.4 L1252.2,1704.8 L1252.9,1707.3 L1253.6,1709.7 L1254.2,1712.1 L1254.9,1714.5 L1255.5,1716.9 L1256.1,1719.3 L1256.7,1721.7 L1257.3,1724.1 L1257.8,1726.5 L1258.4,1728.8 L1258.9,1731.2 L1259.4,1733.6 L1259.9,1736.0 L1260.4,1738.3 L1260.9,1740.7 L1261.4,1743.1 L1261.9,1745.5 L1262.4,1747.9 L1262.9,1750.3 L1263.3,1752.7 L1263.8,1755.1 L1264.3,1757.6 L1264.7,1760.0 L1265.2,1762.4 L1265.6,1764.9 L1266.1,1767.3 L1266.5,1769.8 L1267.0,1772.2 L1267.4,1774.7 L1267.8,1777.2 L1268.3,1779.6 L1268.7,1782.1 L1269.1,1784.6 L1269.5,1787.0 L1269.9,1789.5 L1270.4,1792.0 L1270.8,1794.5 L1271.2,1797.0 L1271.6,1799.4 L1272.0,1801.9 L1272.4,1804.4 L1272.8,1806.9 L1273.2,1809.4 L1273.6,1811.9 L1274.0,1814.4 L1274.4,1816.9 L1274.8,1819.4 L1275.2,1821.9 L1275.6,1824.3 L1276.0,1826.8 L1276.4,1829.3 L1276.8,1831.8 L1277.2,1834.3 L1277.6,1836.8 L1278.0,1839.3 L1278.4,1841.7 L1278.8,1844.2 L1279.1,1846.7 L1279.5,1849.2 L1279.9,1851.6 L1280.3,1854.1 L1280.7,1856.6 L1281.1,1859.0 L1281.5,1861.5 L1281.9,1864.0 L1282.3,1866.4 L1282.7,1868.9 L1283.1,1871.4 L1283.5,1873.8 L1283.8,1876.3 L1284.2,1878.8 L1284.6,1881.2 L1285.0,1883.7 L1285.4,1886.1 L1285.8,1888.6 L1286.2,1891.0 L1286.5,1893.5 L1286.9,1896.0 L1287.3,1898.4 L1287.7,1900.9 L1288.0,1903.3 L1288.4,1905.8 L1288.8,1908.2 L1289.2,1910.7 L1289.5,1913.2 L1289.9,1915.6 L1290.3,1918.1 L1290.6,1920.5 L1291.0,1923.0 L1291.4,1925.4 L1291.7,1927.9 L1292.1,1930.4 L1292.5,1932.8 L1292.8,1935.3 L1293.2,1937.7 L1293.5,1940.2 L1293.9,1942.7 L1294.2,1945.1 L1294.6,1947.6 L1294.9,1950.1 L1295.3,1952.5 L1295.6,1955.0 L1295.9,1957.5 L1296.3,1959.9 L1296.6,1962.4 L1297.0,1964.9 L1297.3,1967.4 L1297.6,1969.8 L1298.0,1972.3 L1298.3,1974.8 L1298.6,1977.3 L1298.9,1979.7 L1299.3,1982.2 L1299.6,1984.7 L1299.9,1987.2 L1300.2,1989.6 L1300.6,1992.1 L1300.9,1994.6 L1301.2,1997.1 L1301.5,1999.6 L1301.8,2002.0 L1302.2,2004.5 L1302.5,2007.0 L1302.8,2009.5 L1303.1,2012.0 L1303.4,2014.5 L1303.7,2016.9 L1304.0,2019.4 L1304.4,2021.9 L1304.7,2024.4 L1305.0,2026.9 L1305.3,2029.4 L1305.6,2031.8 L1305.9,2034.3 L1306.2,2036.8 L1306.5,2039.3 L1306.8,2041.8 L1307.2,2044.3 L1307.5,2046.8 L1307.8,2049.3 L1308.1,2051.7 L1308.4,2054.2 L1308.7,2056.7 L1309.0,2059.2 L1309.3,2061.7 L1309.6,2064.2 L1310.0,2066.7 L1310.3,2069.2 L1310.6,2071.6 L1310.9,2074.1 L1311.2,2076.6 L1311.5,2079.1 L1311.8,2081.6 L1312.1,2084.1 L1312.5,2086.6 L1312.8,2089.1 L1313.1,2091.5 L1313.4,2094.0 L1313.7,2096.5 L1314.0,2099.0 L1314.4,2101.5 L1314.7,2104.0 L1315.0,2106.5 L1315.3,2109.0 L1315.6,2111.4 L1316.0,2113.9 L1316.3,2116.4 L1316.6,2118.9 L1317.0,2121.4 L1317.3,2123.9 L1317.6,2126.3 L1317.9,2128.8 L1318.3,2131.3 L1318.6,2133.8 L1319.0,2136.3 L1319.3,2138.8 L1319.6,2141.2 L1320.0,2143.7 L1320.3,2146.2 L1320.7,2148.7 L1321.0,2151.2 L1321.4,2153.6 L1321.7,2156.1 L1322.1,2158.6 L1322.4,2161.1 L1322.8,2163.5 L1323.1,2166.0 L1323.5,2168.5 L1323.9,2171.0 L1324.2,2173.4 L1324.6,2175.9 L1325.0,2178.4 L1325.3,2180.8 L1325.7,2183.3 L1326.1,2185.8 L1326.5,2188.3 L1326.8,2190.7 L1327.2,2193.2 L1327.6,2195.7 L1328.0,2198.1 L1328.4,2200.6 L1328.8,2203.0 L1329.2,2205.5 L1329.6,2208.0 L1330.0,2210.4 L1330.4,2212.9 L1330.8,2215.3 L1331.2,2217.8 L1331.6,2220.2 L1332.0,2222.7 L1332.5,2225.2 L1332.9,2227.6 L1333.3,2230.1 L1333.8,2232.5 L1334.2,2235.0 L1334.6,2237.4 L1335.1,2239.8 L1335.5,2242.3 L1336.0,2244.7 L1336.4,2247.2 L1336.9,2249.6 L1337.3,2252.1 L1337.8,2254.5 L1338.2,2256.9 L1338.7,2259.4 L1339.2,2261.8 L1339.7,2264.2 L1340.1,2266.7 L1340.6,2269.1 L1341.1,2271.5 L1341.6,2273.9 L1342.1,2276.4 L1342.6,2278.8 L1343.1,2281.2 L1343.6,2283.6 L1344.2,2286.1 L1344.7,2288.5 L1345.2,2290.9 L1345.7,2293.3 L1346.3,2295.8 L1346.8,2298.2 L1347.4,2300.6 L1347.9,2303.0 L1348.5,2305.4 L1349.0,2307.9 L1349.6,2310.3 L1350.2,2312.7 L1350.8,2315.1 L1351.4,2317.5 L1352.0,2320.0 L1352.6,2322.4 L1353.2,2324.8 L1353.8,2327.2 L1354.4,2329.6 L1355.1,2332.1 L1355.7,2334.5 L1356.4,2336.9 L1357.0,2339.3 L1357.7,2341.8 L1358.3,2344.2 L1359.0,2346.6 L1359.7,2349.1 L1360.4,2351.5 L1361.1,2353.9 L1361.8,2356.4 L1362.5,2358.8 L1363.3,2361.2 L1364.0,2363.7 L1364.7,2366.1 L1365.5,2368.5 L1366.3,2371.0 L1367.0,2373.4 L1367.8,2375.9 L1368.6,2378.3 L1369.5,2380.7 L1370.3,2383.1 L1371.2,2385.5 L1372.0,2387.9 L1372.9,2390.3 L1373.9,2392.7 L1374.8,2395.0 L1375.8,2397.4 L1376.8,2399.7 L1377.8,2402.0 L1378.8,2404.3 L1379.9,2406.6 L1381.0,2408.8 L1382.2,2411.0 L1383.3,2413.2 L1384.5,2415.4 L1385.8,2417.5 L1387.0,2419.6 L1388.3,2421.7 L1389.7,2423.8 L1391.1,2425.8 L1392.5,2427.8 L1394.0,2429.7 L1395.5,2431.6 L1397.1,2433.5 L1398.7,2435.3 L1400.3,2437.1 L1402.0,2438.9 L1403.8,2440.6 L1405.6,2442.3 L1407.4,2443.9 L1409.2,2445.5 L1411.2,2447.0 L1413.1,2448.5 L1415.1,2450.0 L1417.1,2451.4 L1419.2,2452.8 L1421.2,2454.2 L1423.4,2455.5 L1425.5,2456.8 L1427.7,2458.0 L1429.9,2459.2 L1432.1,2460.3 L1434.3,2461.5 L1436.6,2462.6 L1438.9,2463.6 L1441.2,2464.6 L1443.5,2465.6 L1445.8,2466.5 L1448.2,2467.5 L1450.6,2468.3 L1452.9,2469.2 L1455.3,2470.0 L1457.7,2470.7 L1460.1,2471.5 L1462.6,2472.2 L1465.0,2472.8 L1467.4,2473.5 L1469.8,2474.1 L1472.2,2474.7 L1474.7,2475.3 L1477.1,2475.8 L1479.6,2476.4 L1482.0,2476.9 L1484.4,2477.4 L1486.9,2477.9 L1489.3,2478.4 L1491.8,2478.9 L1494.2,2479.4 L1496.6,2479.9 L1499.1,2480.4 L1501.5,2481.0 L1504.0,2481.5 L1506.4,2482.0 L1508.8,2482.6 L1511.2,2483.2 L1513.6,2483.7 L1516.1,2484.4 L1518.5,2485.0 L1520.9,2485.6 L1523.3,2486.3 L1525.7,2487.0 L1528.0,2487.7 L1530.4,2488.4 L1532.8,2489.1 L1535.2,2489.9 L1537.5,2490.7 L1539.9,2491.4 L1542.3,2492.2 L1544.6,2493.0 L1547.0,2493.8 L1549.4,2494.7 L1551.7,2495.5 L1554.1,2496.3 L1556.4,2497.2 L1558.8,2498.0 L1561.1,2498.9 L1563.4,2499.8 L1565.8,2500.6 L1568.1,2501.5 L1570.5,2502.4 L1572.8,2503.3 L1575.1,2504.2 L1577.5,2505.1 L1579.8,2506.0 L1582.2,2506.9 L1584.5,2507.8 L1586.8,2508.7 L1589.2,2509.6 L1591.5,2510.5 L1593.9,2511.3 L1596.2,2512.2 L1598.5,2513.1 L1600.9,2514.0 L1603.2,2514.9 L1605.6,2515.7 L1607.9,2516.6 L1610.3,2517.4 L1612.6,2518.3 L1615.0,2519.1 L1617.3,2519.9 L1619.7,2520.7 L1622.0,2521.5 L1624.4,2522.3 L1626.8,2523.1 L1629.1,2523.9 L1631.5,2524.6 L1633.9,2525.4 L1636.3,2526.1 L1638.7,2526.8 L1641.1,2527.5 L1643.4,2528.2 L1645.8,2528.8 L1648.2,2529.4 L1650.7,2530.1 L1653.1,2530.7 L1655.5,2531.2 L1657.9,2531.8 L1660.3,2532.3 L1662.8,2532.8 L1665.2,2533.3 L1667.7,2533.8 L1670.1,2534.2 L1672.6,2534.6 L1675.1,2535.0 L1677.5,2535.4 L1680.0,2535.7 L1682.5,2536.1 L1685.0,2536.4 L1687.4,2536.7 L1689.9,2537.0 L1692.4,2537.2 L1694.9,2537.5 L1697.4,2537.7 L1699.9,2537.9 L1702.4,2538.1 L1705.0,2538.3 L1707.5,2538.5 L1710.0,2538.6 L1712.5,2538.8 L1715.0,2538.9 L1717.5,2539.0 L1720.1,2539.1 L1722.6,2539.3 L1725.1,2539.3 L1727.6,2539.4 L1730.1,2539.5 L1732.7,2539.6 L1735.2,2539.7 L1737.7,2539.7 L1740.2,2539.8 L1742.7,2539.8 L1745.3,2539.9 L1747.8,2539.9 L1750.3,2540.0 L1752.8,2540.0 L1755.3,2540.1 L1757.8,2540.1 L1760.3,2540.1 L1762.8,2540.2 L1765.3,2540.2 L1767.8,2540.3 L1770.3,2540.3 L1772.8,2540.4 L1775.3,2540.4 L1777.8,2540.5 L1780.3,2540.6 L1782.7,2540.6 L1785.2,2540.7 L1787.6,2540.8 L1790.1,2540.9 L1792.6,2541.0 L1795.0,2541.1" stroke="#00e000"/>
</g>
<g fill="none" stroke-width="5" stroke-linejoin="round" clip-path="url(#ci)">
<path d="M290.0,2053.6 L292.5,2053.6 L295.0,2053.7 L297.5,2053.7 L300.0,2053.8 L302.5,2053.8 L305.0,2053.8 L307.5,2053.9 L310.0,2053.9 L312.5,2053.9 L315.0,2054.0 L317.5,2054.0 L320.0,2054.0 L322.5,2054.0 L325.0,2054.0 L327.5,2054.1 L330.0,2054.1 L332.5,2054.1 L335.0,2054.1 L337.5,2054.1 L340.0,2054.1 L342.5,2054.1 L345.0,2054.1 L347.5,2054.1 L350.0,2054.1 L352.5,2054.1 L355.0,2054.1 L357.5,2054.1 L360.0,2054.1 L362.5,2054.1 L365.0,2054.0 L367.5,2054.0 L370.0,2054.0 L372.5,2054.0 L375.0,2054.0 L377.5,2054.0 L380.0,2053.9 L382.5,2053.9 L385.0,2053.9 L387.5,2053.9 L390.0,2053.8 L392.5,2053.8 L395.0,2053.8 L397.5,2053.7 L400.0,2053.7 L402.4,2053.7 L404.9,2053.6 L407.4,2053.6 L409.9,2053.6 L412.4,2053.5 L414.9,2053.5 L417.4,2053.4 L419.9,2053.4 L422.4,2053.4 L424.9,2053.3 L427.4,2053.3 L429.9,2053.2 L432.4,2053.2 L434.9,2053.1 L437.4,2053.1 L439.9,2053.0 L442.4,2053.0 L444.9,2052.9 L447.4,2052.9 L449.9,2052.8 L452.4,2052.8 L454.9,2052.7 L457.4,2052.7 L459.9,2052.6 L462.4,2052.5 L464.9,2052.5 L467.4,2052.4 L469.9,2052.4 L472.4,2052.3 L474.9,2052.3 L477.4,2052.2 L479.9,2052.1 L482.4,2052.1 L484.9,2052.0 L487.4,2051.9 L489.9,2051.9 L492.4,2051.8 L494.9,2051.6 L497.4,2051.5 L499.9,2051.4 L502.4,2051.2 L504.9,2051.0 L507.4,2050.8 L509.9,2050.5 L512.3,2050.2 L514.8,2049.9 L517.3,2049.6 L519.8,2049.2 L522.2,2048.8 L524.7,2048.3 L527.2,2047.8 L529.6,2047.2 L532.0,2046.6 L534.5,2046.0 L536.9,2045.3 L539.3,2044.6 L541.7,2043.8 L544.0,2043.0 L546.4,2042.2 L548.7,2041.3 L551.0,2040.3 L553.3,2039.3 L555.5,2038.3 L557.7,2037.2 L559.9,2036.0 L562.1,2034.8 L564.2,2033.6 L566.3,2032.2 L568.4,2030.9 L570.4,2029.5 L572.4,2028.0 L574.4,2026.5 L576.3,2025.0 L578.2,2023.4 L580.1,2021.8 L582.0,2020.1 L583.9,2018.4 L585.7,2016.7 L587.5,2015.0 L589.4,2013.3 L591.2,2011.6 L593.0,2009.9 L594.9,2008.2 L596.7,2006.5 L598.6,2004.8 L600.5,2003.1 L602.4,2001.5 L604.4,1999.9 L606.3,1998.3 L608.3,1996.7 L610.3,1995.1 L612.4,1993.4 L614.5,1991.8 L616.6,1990.3 L618.8,1988.8 L621.0,1987.5 L623.2,1986.5 L625.5,1985.6 L627.8,1985.0 L630.2,1984.7 L632.5,1984.6 L634.9,1984.7 L637.3,1985.0 L639.7,1985.5 L642.0,1986.2 L644.4,1987.1 L646.7,1988.1 L649.0,1989.3 L651.2,1990.6 L653.4,1992.0 L655.5,1993.5 L657.5,1995.1 L659.6,1996.8 L661.6,1998.4 L663.7,1999.9 L665.7,2001.4 L667.8,2002.8 L670.0,2004.0 L672.2,2004.9 L674.5,2005.7 L676.9,2006.3 L679.3,2006.8 L681.8,2007.1 L684.3,2007.3 L686.8,2007.4 L689.3,2007.4 L691.8,2007.4 L694.4,2007.3 L696.9,2007.2 L699.4,2007.1 L701.9,2007.0 L704.4,2006.9 L706.9,2006.9 L709.4,2006.8 L711.8,2006.7 L714.3,2006.7 L716.8,2006.7 L719.2,2006.8 L721.7,2006.9 L724.2,2007.1 L726.6,2007.3 L729.1,2007.6 L731.6,2007.9 L734.1,2008.2 L736.5,2008.6 L739.0,2009.1 L741.5,2009.5 L744.0,2010.0 L746.4,2010.4 L748.9,2010.9 L751.4,2011.3 L753.9,2011.7 L756.4,2012.1 L758.9,2012.5 L761.4,2012.8 L763.9,2013.1 L766.3,2013.4 L768.8,2013.6 L771.3,2013.8 L773.8,2014.0 L776.3,2014.2 L778.8,2014.3 L781.3,2014.5 L783.8,2014.6 L786.3,2014.7 L788.8,2014.8 L791.3,2014.9 L793.8,2015.0 L796.3,2015.1 L798.8,2015.2 L801.3,2015.3 L803.8,2015.4 L806.3,2015.6 L808.7,2015.7 L811.2,2015.9 L813.7,2016.0 L816.2,2016.3 L818.6,2016.5 L821.1,2016.7 L823.6,2017.0 L826.0,2017.4 L828.5,2017.7 L830.9,2018.1 L833.4,2018.6 L835.8,2019.1 L838.3,2019.6 L840.7,2020.2 L843.1,2020.8 L845.5,2021.4 L847.9,2022.1 L850.4,2022.8 L852.8,2023.5 L855.2,2024.2 L857.6,2025.0 L860.0,2025.7 L862.4,2026.5 L864.8,2027.3 L867.2,2028.1 L869.6,2028.8 L872.0,2029.6 L874.4,2030.4 L876.8,2031.1 L879.2,2031.8 L881.7,2032.6 L884.1,2033.2 L886.5,2033.9 L888.9,2034.5 L891.3,2035.1 L893.8,2035.7 L896.2,2036.2 L898.6,2036.6 L901.1,2037.0 L903.5,2037.4 L906.0,2037.7" stroke="#ff00ff"/>
<path d="M290.0,2052.6 L292.5,2052.6 L295.0,2052.6 L297.4,2052.6 L299.9,2052.6 L302.4,2052.6 L304.9,2052.6 L307.4,2052.6 L309.9,2052.6 L312.4,2052.5 L314.9,2052.5 L317.4,2052.5 L319.9,2052.5 L322.4,2052.5 L324.9,2052.5 L327.4,2052.5 L329.9,2052.5 L332.4,2052.5 L334.9,2052.4 L337.4,2052.4 L339.9,2052.4 L342.4,2052.4 L345.0,2052.4 L347.5,2052.4 L350.0,2052.3 L352.5,2052.3 L355.0,2052.3 L357.5,2052.3 L360.0,2052.3 L362.5,2052.2 L365.0,2052.2 L367.5,2052.2 L370.0,2052.2 L372.5,2052.1 L375.0,2052.1 L377.4,2052.1 L379.9,2052.1 L382.4,2052.0 L384.9,2052.0 L387.4,2051.9 L389.8,2051.9 L392.3,2051.8 L394.8,2051.8 L397.3,2051.7 L399.8,2051.5 L402.3,2051.4 L404.8,2051.2 L407.3,2051.0 L409.8,2050.8 L412.4,2050.5 L414.9,2050.2 L417.4,2049.8 L419.9,2049.2 L422.2,2048.5 L424.4,2047.5 L426.4,2046.3 L428.3,2044.7 L429.9,2042.9 L431.4,2040.8 L432.7,2038.5 L433.9,2036.2 L434.9,2033.9 L435.9,2031.6 L436.9,2029.3 L437.7,2026.9 L438.5,2024.5 L439.1,2022.1 L439.8,2019.7 L440.3,2017.3 L440.9,2014.9 L441.3,2012.5 L441.8,2010.0 L442.1,2007.6 L442.5,2005.1 L442.8,2002.6 L443.2,2000.2 L443.5,1997.7 L443.7,1995.2 L444.0,1992.7 L444.3,1990.3 L444.6,1987.8 L444.8,1985.3 L445.1,1982.8 L445.3,1980.3 L445.6,1977.8 L445.8,1975.3 L446.0,1972.8 L446.3,1970.4 L446.5,1967.9 L446.7,1965.4 L446.9,1962.9 L447.1,1960.4 L447.3,1957.9 L447.5,1955.4 L447.7,1952.9 L447.9,1950.4 L448.1,1947.9 L448.2,1945.4 L448.4,1942.9 L448.6,1940.4 L448.7,1937.9 L448.9,1935.4 L449.1,1932.9 L449.2,1930.5 L449.4,1928.0 L449.5,1925.5 L449.7,1923.0 L449.8,1920.5 L449.9,1918.0 L450.1,1915.5 L450.2,1913.0 L450.3,1910.5 L450.5,1908.0 L450.6,1905.5 L450.7,1903.0 L450.8,1900.5 L450.9,1898.1 L451.0,1895.6 L451.2,1893.1 L451.3,1890.6 L451.4,1888.1 L451.5,1885.6 L451.6,1883.1 L451.7,1880.6 L451.8,1878.1 L451.9,1875.6 L452.0,1873.1 L452.1,1870.6 L452.2,1868.2 L452.3,1865.7 L452.4,1863.2 L452.5,1860.7 L452.6,1858.2 L452.7,1855.7 L452.8,1853.2 L452.8,1850.7 L452.9,1848.2 L453.0,1845.7 L453.1,1843.2 L453.2,1840.7 L453.3,1838.2 L453.4,1835.7 L453.5,1833.3 L453.6,1830.8 L453.7,1828.3 L453.8,1825.8 L453.8,1823.3 L453.9,1820.8 L454.0,1818.3 L454.1,1815.8 L454.2,1813.3 L454.3,1810.8 L454.4,1808.3 L454.5,1805.8 L454.6,1803.3 L454.7,1800.8 L454.8,1798.3 L454.9,1795.8 L455.0,1793.3 L455.1,1790.8 L455.2,1788.3 L455.4,1785.8 L455.5,1783.3 L455.6,1780.8 L455.7,1778.3 L455.8,1775.8 L456.0,1773.3 L456.1,1770.8 L456.2,1768.3 L456.3,1765.8 L456.5,1763.3 L456.6,1760.8 L456.7,1758.3 L456.9,1755.8 L457.0,1753.3 L457.2,1750.8 L457.3,1748.3 L457.5,1745.7 L457.6,1743.2 L457.8,1740.7 L458.0,1738.3 L458.1,1735.8 L458.3,1733.3 L458.4,1730.9 L458.6,1728.4 L458.7,1726.0 L458.9,1723.6 L459.0,1721.3 L459.2,1718.9 L459.3,1716.6 L459.4,1714.2 L459.6,1711.7 L459.8,1709.0 L460.0,1706.1 L460.2,1702.9 L460.4,1699.6 L460.7,1696.3 L461.0,1693.2 L461.4,1690.4 L461.8,1688.3 L462.1,1686.9 L462.5,1686.5 L463.0,1687.2 L463.4,1688.7 L463.8,1691.0 L464.2,1693.9 L464.6,1697.1 L465.0,1700.4 L465.3,1703.7 L465.5,1706.7 L465.7,1709.5 L465.9,1712.1 L466.0,1714.6 L466.1,1716.9 L466.2,1719.2 L466.3,1721.5 L466.4,1723.9 L466.6,1726.3 L466.7,1728.7 L466.9,1731.2 L467.0,1733.6 L467.2,1736.1 L467.4,1738.7 L467.6,1741.2 L467.7,1743.7 L467.9,1746.2 L468.1,1748.8 L468.2,1751.3 L468.4,1753.8 L468.5,1756.3 L468.7,1758.8 L468.8,1761.4 L469.0,1763.9 L469.1,1766.4 L469.2,1768.9 L469.4,1771.4 L469.5,1773.9 L469.6,1776.4 L469.8,1778.9 L469.9,1781.4 L470.0,1783.9 L470.1,1786.4 L470.3,1788.9 L470.4,1791.3 L470.5,1793.8 L470.6,1796.3 L470.8,1798.8 L470.9,1801.3 L471.0,1803.8 L471.1,1806.3 L471.3,1808.8 L471.4,1811.3 L471.5,1813.7 L471.6,1816.2 L471.7,1818.7 L471.9,1821.2 L472.0,1823.7 L472.1,1826.2 L472.3,1828.7 L472.4,1831.1 L472.5,1833.6 L472.7,1836.1 L472.8,1838.6 L472.9,1841.1 L473.1,1843.6 L473.2,1846.1 L473.4,1848.6 L473.5,1851.1 L473.7,1853.6 L473.8,1856.1 L474.0,1858.6 L474.1,1861.1 L474.3,1863.5 L474.4,1866.0 L474.6,1868.5 L474.7,1871.0 L474.9,1873.5 L475.1,1876.0 L475.2,1878.5 L475.4,1881.0 L475.6,1883.5 L475.7,1886.0 L475.9,1888.5 L476.1,1891.0 L476.2,1893.5 L476.4,1896.0 L476.6,1898.5 L476.7,1901.0 L476.9,1903.5 L477.1,1906.0 L477.2,1908.5 L477.4,1911.0 L477.6,1913.5 L477.8,1915.9 L478.0,1918.4 L478.1,1920.9 L478.3,1923.4 L478.5,1925.9 L478.7,1928.4 L478.9,1930.9 L479.1,1933.4 L479.3,1935.8 L479.6,1938.3 L479.8,1940.8 L480.0,1943.3 L480.3,1945.8 L480.5,1948.2 L480.8,1950.7 L481.1,1953.2 L481.3,1955.7 L481.6,1958.2 L481.9,1960.6 L482.2,1963.1 L482.6,1965.6 L482.9,1968.0 L483.2,1970.5 L483.6,1973.0 L484.0,1975.4 L484.4,1977.9 L484.7,1980.4 L485.2,1982.8 L485.6,1985.3 L486.0,1987.8 L486.5,1990.2 L487.0,1992.7 L487.4,1995.1 L488.0,1997.6 L488.5,2000.0 L489.0,2002.5 L489.6,2004.9 L490.2,2007.4 L490.7,2009.8 L491.4,2012.3 L492.0,2014.7 L492.7,2017.1 L493.4,2019.6 L494.1,2021.9 L495.0,2024.2 L496.1,2026.4 L497.3,2028.5 L498.7,2030.5 L500.4,2032.3 L502.3,2033.8 L504.5,2035.2 L506.8,2036.3 L509.2,2037.2 L511.7,2037.7 L514.2,2037.8 L516.6,2037.6 L519.0,2037.0 L521.3,2036.1 L523.5,2035.0 L525.7,2033.6 L527.7,2032.1 L529.7,2030.4 L531.5,2028.6 L533.3,2026.7 L535.0,2024.8 L536.5,2022.8 L538.0,2020.9 L539.3,2019.0 L540.6,2017.1 L541.9,2015.1 L543.1,2013.0 L544.3,2010.9 L545.5,2008.7 L546.8,2006.4 L548.1,2003.9 L549.5,2001.3 L551.0,1998.7 L552.6,1996.4 L554.4,1994.8 L556.4,1994.1 L558.5,1994.1 L560.6,1994.8 L562.8,1996.1 L564.8,1997.7 L566.6,1999.6 L568.3,2001.6 L569.6,2003.7 L570.8,2005.9 L571.8,2008.0 L572.7,2010.3 L573.6,2012.6 L574.4,2014.9 L575.3,2017.3 L576.2,2019.8 L577.3,2022.2 L578.4,2024.6 L579.7,2027.0 L581.1,2029.2 L582.6,2031.3 L584.3,2033.2 L586.2,2034.8 L588.2,2036.2 L590.3,2037.4 L592.5,2038.4 L594.8,2039.1 L597.2,2039.6 L599.7,2039.8 L602.1,2039.9 L604.6,2039.7 L607.0,2039.4 L609.5,2038.8 L611.8,2038.1 L614.1,2037.1 L616.3,2036.0 L618.4,2034.8 L620.5,2033.4 L622.5,2031.9 L624.4,2030.2 L626.3,2028.4 L628.1,2026.6 L629.8,2024.7 L631.4,2022.7 L633.0,2020.6 L634.5,2018.5 L636.0,2016.4 L637.4,2014.3 L638.8,2012.2 L640.1,2010.1 L641.3,2008.0 L642.5,2005.9 L643.6,2003.8 L644.7,2001.6 L645.7,1999.5 L646.7,1997.3 L647.7,1995.0 L648.6,1992.7 L649.5,1990.3 L650.4,1987.9 L651.3,1985.5 L652.1,1983.1 L653.0,1980.7 L653.9,1978.3 L654.8,1975.9 L655.7,1973.6 L656.6,1971.4 L657.6,1969.2 L658.6,1967.0 L659.7,1964.8 L660.7,1962.5 L661.9,1960.3 L663.1,1958.0 L664.5,1955.7 L666.1,1953.5 L667.9,1951.4 L670.0,1949.7 L672.1,1948.7 L674.2,1948.6 L676.2,1949.6 L678.1,1951.4 L679.8,1953.5 L681.3,1955.7 L682.6,1957.8 L683.7,1960.0 L684.8,1962.3 L685.8,1964.8 L686.8,1967.2 L687.9,1969.7 L689.2,1971.9 L690.6,1974.0 L692.4,1975.8 L694.4,1977.2 L696.6,1977.9 L698.8,1977.7 L700.9,1976.4 L702.7,1974.5 L704.2,1972.3 L705.5,1969.9 L706.5,1967.4 L707.4,1964.9 L708.3,1962.5 L709.1,1960.2 L709.8,1957.9 L710.6,1955.6 L711.4,1953.3 L712.3,1951.0 L713.1,1948.7 L714.0,1946.3 L714.7,1943.9 L715.5,1941.6 L716.1,1939.1 L716.7,1936.7 L717.3,1934.3 L717.9,1931.8 L718.5,1929.4 L719.1,1926.9 L719.7,1924.5 L720.4,1922.1 L721.1,1919.7 L721.9,1917.3 L722.8,1914.9 L723.8,1912.6 L724.9,1910.4 L726.1,1908.1 L727.5,1906.0 L729.0,1903.9 L730.7,1901.8 L732.5,1900.0 L734.4,1898.5 L736.4,1897.4 L738.4,1896.9 L740.5,1897.0 L742.6,1898.0 L744.6,1899.8 L746.6,1902.2 L748.4,1904.7 L750.0,1907.0 L751.5,1909.0 L752.8,1910.9 L754.1,1912.8 L755.3,1914.9 L756.5,1917.0 L757.7,1919.1 L758.9,1921.4 L760.1,1923.6 L761.3,1925.8 L762.5,1928.1 L763.7,1930.3 L765.0,1932.5 L766.2,1934.6 L767.5,1936.8 L768.7,1938.9 L770.0,1941.0 L771.2,1943.1 L772.5,1945.2 L773.7,1947.3 L774.9,1949.4 L776.1,1951.6 L777.3,1953.7 L778.4,1955.9 L779.6,1958.2 L780.6,1960.4 L781.7,1962.7 L782.7,1965.1 L783.7,1967.4 L784.7,1969.8 L785.6,1972.2 L786.6,1974.6 L787.7,1976.9 L788.7,1979.2 L789.8,1981.5 L790.9,1983.8 L792.1,1985.9 L793.4,1988.0 L794.8,1990.0 L796.3,1991.9 L797.8,1993.7 L799.5,1995.4 L801.3,1997.0 L803.3,1998.4 L805.4,1999.7 L807.6,2000.8 L810.0,2001.7 L812.4,2002.5 L814.9,2003.1 L817.4,2003.5 L820.0,2003.8 L822.5,2003.8 L825.0,2003.7 L827.5,2003.4 L830.0,2003.2 L832.4,2003.2 L834.9,2003.3 L837.4,2003.6 L839.9,2003.9 L842.3,2004.4 L844.8,2004.8 L847.3,2005.3 L849.8,2005.9 L852.3,2006.3 L854.7,2006.7 L857.2,2007.1 L859.7,2007.4 L862.1,2007.7 L864.6,2008.0 L867.0,2008.4 L869.5,2008.8 L871.9,2009.3 L874.3,2009.9 L876.7,2010.6 L879.1,2011.2 L881.6,2011.9 L884.0,2012.6 L886.4,2013.3 L888.8,2014.0 L891.2,2014.6 L893.6,2015.2 L896.1,2015.7 L898.5,2016.2 L901.0,2016.6 L903.5,2016.8 L906.0,2017.0" stroke="#000"/>
<path d="M290.0,2052.5 L292.4,2052.5 L294.8,2052.6 L297.2,2052.6 L299.6,2052.7 L302.1,2052.7 L304.5,2052.7 L307.0,2052.7 L309.4,2052.8 L311.9,2052.8 L314.4,2052.8 L316.9,2052.8 L319.4,2052.7 L321.9,2052.7 L324.4,2052.7 L326.9,2052.6 L329.5,2052.5 L332.0,2052.4 L334.5,2052.3 L337.0,2052.2 L339.6,2052.1 L342.1,2051.9 L344.6,2051.8 L347.2,2051.6 L349.7,2051.4 L352.2,2051.1 L354.7,2050.9 L357.3,2050.6 L359.8,2050.3 L362.3,2050.0 L364.8,2049.6 L367.3,2049.3 L369.8,2048.8 L372.2,2048.4 L374.7,2048.0 L377.1,2047.5 L379.6,2046.9 L382.0,2046.4 L384.4,2045.8 L386.8,2045.2 L389.2,2044.5 L391.6,2043.8 L394.0,2043.1 L396.3,2042.3 L398.6,2041.5 L400.9,2040.7 L403.2,2039.8 L405.5,2038.9 L407.7,2038.0 L410.0,2037.0 L412.2,2036.0 L414.4,2034.9 L416.6,2033.8 L418.8,2032.7 L421.0,2031.6 L423.1,2030.4 L425.3,2029.2 L427.4,2028.0 L429.5,2026.8 L431.6,2025.5 L433.7,2024.2 L435.8,2022.9 L437.9,2021.6 L440.0,2020.2 L442.1,2018.9 L444.2,2017.5 L446.3,2016.1 L448.4,2014.7 L450.5,2013.3 L452.5,2011.9 L454.6,2010.5 L456.7,2009.1 L458.8,2007.6 L460.9,2006.2 L463.0,2004.8 L465.0,2003.3 L467.1,2001.9 L469.3,2000.4 L471.4,1999.0 L473.5,1997.5 L475.6,1996.1 L477.7,1994.7 L479.9,1993.3 L482.0,1992.0 L484.2,1990.6 L486.3,1989.3 L488.5,1988.0 L490.7,1986.7 L492.9,1985.5 L495.1,1984.2 L497.3,1983.1 L499.5,1981.9 L501.7,1980.9 L504.0,1979.8 L506.2,1978.8 L508.5,1977.9 L510.8,1977.0 L513.1,1976.1 L515.4,1975.4 L517.7,1974.6 L520.1,1974.0 L522.4,1973.4 L524.8,1972.9 L527.2,1972.4 L529.5,1972.0 L531.9,1971.7 L534.4,1971.4 L536.8,1971.2 L539.2,1971.0 L541.7,1970.9 L544.1,1970.8 L546.6,1970.7 L549.1,1970.7 L551.5,1970.8 L554.0,1970.9 L556.5,1971.0 L559.0,1971.1 L561.5,1971.3 L564.0,1971.5 L566.5,1971.7 L569.0,1972.0 L571.5,1972.3 L574.0,1972.6 L576.6,1972.9 L579.1,1973.2 L581.6,1973.5 L584.1,1973.9 L586.6,1974.2 L589.1,1974.6 L591.6,1975.0 L594.1,1975.3 L596.5,1975.7 L599.0,1976.1 L601.5,1976.4 L604.0,1976.8 L606.4,1977.2 L608.9,1977.5 L611.4,1977.9 L613.8,1978.3 L616.3,1978.6 L618.7,1979.0 L621.2,1979.4 L623.6,1979.7 L626.1,1980.1 L628.5,1980.5 L631.0,1980.8 L633.4,1981.2 L635.8,1981.6 L638.3,1982.0 L640.7,1982.3 L643.2,1982.7 L645.6,1983.1 L648.0,1983.5 L650.5,1983.8 L652.9,1984.2 L655.3,1984.6 L657.8,1985.0 L660.2,1985.4 L662.7,1985.8 L665.1,1986.2 L667.6,1986.6 L670.0,1986.9 L672.4,1987.3 L674.9,1987.7 L677.3,1988.2 L679.8,1988.6 L682.3,1989.0 L684.7,1989.4 L687.2,1989.8 L689.6,1990.3 L692.1,1990.7 L694.5,1991.1 L697.0,1991.6 L699.5,1992.0 L701.9,1992.5 L704.4,1993.0 L706.8,1993.5 L709.3,1994.0 L711.7,1994.5 L714.2,1995.0 L716.6,1995.5 L719.1,1996.0 L721.5,1996.6 L723.9,1997.1 L726.4,1997.7 L728.8,1998.3 L731.2,1998.9 L733.6,1999.5 L736.1,2000.1 L738.5,2000.8 L740.9,2001.4 L743.3,2002.1 L745.7,2002.8 L748.1,2003.5 L750.5,2004.2 L752.8,2005.0 L755.2,2005.7 L757.6,2006.5 L759.9,2007.3 L762.3,2008.1 L764.6,2008.9 L767.0,2009.7 L769.3,2010.5 L771.7,2011.3 L774.0,2012.2 L776.4,2013.0 L778.7,2013.9 L781.0,2014.7 L783.4,2015.6 L785.7,2016.4 L788.0,2017.3 L790.4,2018.2 L792.7,2019.0 L795.0,2019.9 L797.4,2020.8 L799.7,2021.6 L802.0,2022.5 L804.4,2023.3 L806.7,2024.2 L809.1,2025.0 L811.4,2025.9 L813.7,2026.7 L816.1,2027.5 L818.4,2028.3 L820.8,2029.1 L823.1,2029.9 L825.5,2030.7 L827.9,2031.4 L830.2,2032.2 L832.6,2032.9 L835.0,2033.6 L837.4,2034.3 L839.8,2035.0 L842.2,2035.7 L844.6,2036.3 L847.0,2036.9 L849.4,2037.5 L851.8,2038.1 L854.3,2038.7 L856.7,2039.3 L859.1,2039.8 L861.6,2040.3 L864.0,2040.8 L866.4,2041.3 L868.9,2041.8 L871.4,2042.2 L873.8,2042.6 L876.3,2043.0 L878.7,2043.4 L881.2,2043.8 L883.7,2044.1 L886.1,2044.5 L888.6,2044.8 L891.1,2045.1 L893.6,2045.3 L896.1,2045.6 L898.5,2045.8 L901.0,2046.0 L903.5,2046.2 L906.0,2046.4" stroke="#00e000"/>
</g>
<path d="M288,1613.2 H905.8 V2070.6 H288 M345.7,1613.2 v4.5 M345.7,2070.6 v4.5 M401.8,1613.2 v8 M401.8,2070.6 v8 M457.9,1613.2 v4.5 M457.9,2070.6 v4.5 M513.9,1613.2 v8 M513.9,2070.6 v8 M570.0,1613.2 v4.5 M570.0,2070.6 v4.5 M626.1,1613.2 v8 M626.1,2070.6 v8 M682.1,1613.2 v4.5 M682.1,2070.6 v4.5 M738.2,1613.2 v8 M738.2,2070.6 v8 M794.3,1613.2 v4.5 M794.3,2070.6 v4.5 M850.4,1613.2 v8 M850.4,2070.6 v8 M906.4,2070.6 v4.5 M905.8,2053.8 h-8 M905.8,1965.6 h-5 M905.8,1877.4 h-8 M905.8,1789.2 h-5 M905.8,1701.0 h-8 M905.8,1612.8 h-5" fill="none" stroke="#000" stroke-width="2.7"/>
<text transform="translate(401.8,2121.9) scale(1,1.035)" font-size="48" text-anchor="middle" fill="#000">1.8</text>
<text transform="translate(513.9,2121.9) scale(1,1.035)" font-size="48" text-anchor="middle" fill="#000">2.0</text>
<text transform="translate(626.1,2121.9) scale(1,1.035)" font-size="48" text-anchor="middle" fill="#000">2.2</text>
<text transform="translate(738.2,2121.9) scale(1,1.035)" font-size="48" text-anchor="middle" fill="#000">2.4</text>
<text transform="translate(850.4,2121.9) scale(1,1.035)" font-size="48" text-anchor="middle" fill="#000">2.6</text>
<text transform="translate(914.1,1715.4) scale(1,1.035)" font-size="48" text-anchor="start" fill="#000">0.2</text>
<text transform="translate(914.1,1890.0) scale(1,1.035)" font-size="48" text-anchor="start" fill="#000">0.1</text>
<text transform="translate(914.1,2067.0) scale(1,1.035)" font-size="48" text-anchor="start" fill="#000">0.0</text>
<text transform="translate(493.2,1925.0) scale(1,1.035)" font-size="67" text-anchor="start" fill="#ff00ff">2.22</text>
<text transform="translate(741.4,1869.0) scale(1,1.035)" font-size="67" text-anchor="start" fill="#ff00ff">2.52</text>
<text transform="translate(266.0,1499.6) scale(1,1.0)" font-size="68" text-anchor="end" fill="#000">0.0</text>
<text transform="translate(266.0,1323.4) scale(1,1.0)" font-size="68" text-anchor="end" fill="#000">0.2</text>
<text transform="translate(266.0,1147.2) scale(1,1.0)" font-size="68" text-anchor="end" fill="#000">0.4</text>
<text transform="translate(266.0,970.9) scale(1,1.0)" font-size="68" text-anchor="end" fill="#000">0.6</text>
<text transform="translate(266.0,794.7) scale(1,1.0)" font-size="68" text-anchor="end" fill="#000">0.8</text>
<text transform="translate(266.0,618.5) scale(1,1.0)" font-size="68" text-anchor="end" fill="#000">1.0</text>
<text transform="translate(266.0,442.3) scale(1,1.0)" font-size="68" text-anchor="end" fill="#000">1.2</text>
<text transform="translate(266.0,2562.9) scale(1,1.0)" font-size="68" text-anchor="end" fill="#000">0.0</text>
<text transform="translate(266.0,2387.1) scale(1,1.0)" font-size="68" text-anchor="end" fill="#000">0.2</text>
<text transform="translate(266.0,2211.3) scale(1,1.0)" font-size="68" text-anchor="end" fill="#000">0.4</text>
<text transform="translate(266.0,2035.6) scale(1,1.0)" font-size="68" text-anchor="end" fill="#000">0.6</text>
<text transform="translate(266.0,1859.8) scale(1,1.0)" font-size="68" text-anchor="end" fill="#000">0.8</text>
<text transform="translate(266.0,1684.0) scale(1,1.0)" font-size="68" text-anchor="end" fill="#000">1.0</text>
<text transform="translate(539.3,1574.5) scale(1,0.975)" font-size="70" text-anchor="middle" fill="#000">2.0</text>
<text transform="translate(790.5,1574.5) scale(1,0.975)" font-size="70" text-anchor="middle" fill="#000">2.5</text>
<text transform="translate(1041.8,1574.5) scale(1,0.975)" font-size="70" text-anchor="middle" fill="#000">3.0</text>
<text transform="translate(1293.0,1574.5) scale(1,0.975)" font-size="70" text-anchor="middle" fill="#000">3.5</text>
<text transform="translate(1544.2,1574.5) scale(1,0.975)" font-size="70" text-anchor="middle" fill="#000">4.0</text>
<text transform="translate(288.1,2626.0) scale(1,0.975)" font-size="70" text-anchor="middle" fill="#000">1.5</text>
<text transform="translate(539.3,2626.0) scale(1,0.975)" font-size="70" text-anchor="middle" fill="#000">2.0</text>
<text transform="translate(790.5,2626.0) scale(1,0.975)" font-size="70" text-anchor="middle" fill="#000">2.5</text>
<text transform="translate(1041.8,2626.0) scale(1,0.975)" font-size="70" text-anchor="middle" fill="#000">3.0</text>
<text transform="translate(1293.0,2626.0) scale(1,0.975)" font-size="70" text-anchor="middle" fill="#000">3.5</text>
<text transform="translate(1544.2,2626.0) scale(1,0.975)" font-size="70" text-anchor="middle" fill="#000">4.0</text>
<text transform="translate(1795.4,2626.0) scale(1,0.975)" font-size="70" text-anchor="middle" fill="#000">4.5</text>
<text transform="translate(111.5,1283.2) rotate(-90) scale(1,1.035)" font-size="84" text-anchor="start" fill="#000">Intensity (arb. units)</text>
<text transform="translate(111.5,2348.0) rotate(-90) scale(1,1.035)" font-size="84" text-anchor="start" fill="#000">Intensity (arb. units)</text>
<text transform="translate(821.0,2739.5) scale(1,1.035)" font-size="83.5" text-anchor="start" fill="#000">Energy (eV)</text>
<text transform="translate(1637.1,576.0) scale(1,1.035)" font-size="119" text-anchor="start" fill="#000">a</text>
<text transform="translate(1710.0,576.0) scale(1,1.01)" font-size="119" text-anchor="start" fill="#000">)</text>
<text transform="translate(1649.4,1659.8) scale(1,1.035)" font-size="119" text-anchor="start" fill="#000">b</text>
<text transform="translate(1720.3,1659.8) scale(1,1.01)" font-size="119" text-anchor="start" fill="#000">)</text>
<text transform="translate(1279.5,615.0) scale(1,1.035)" font-size="101" text-anchor="start" fill="#00e000">3.38</text>
<text transform="translate(518.7,1365.8) scale(1,1.015)" font-size="103" text-anchor="start" fill="#00e000">2.06</text>
<text transform="translate(1425.0,1791.7) scale(1,1.05)" font-size="99.5" text-anchor="start" fill="#ff00ff">3.64</text>
</svg></body></html>
